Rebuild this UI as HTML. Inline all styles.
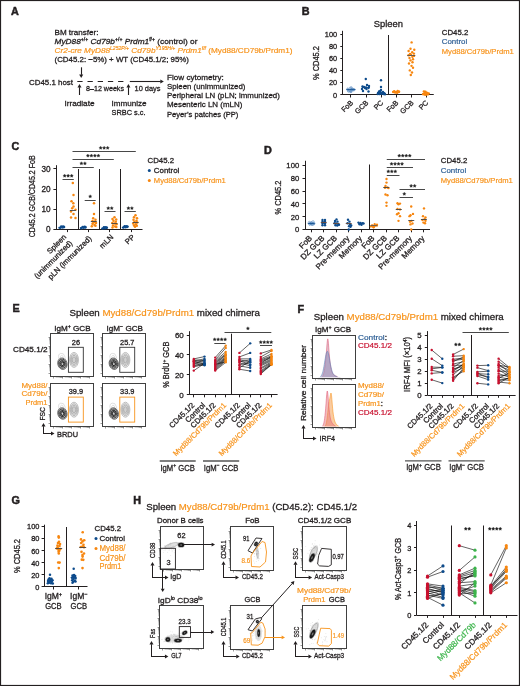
<!DOCTYPE html>
<html><head><meta charset="utf-8"><style>
html,body{margin:0;padding:0;background:#fff;width:520px;height:686px;overflow:hidden}
svg{display:block;will-change:transform}
text{font-family:"Liberation Sans", sans-serif}
</style></head><body>
<svg width="520" height="686" viewBox="0 0 520 686">
<rect x="0.50" y="0.50" width="519.00" height="685.00" stroke="#231f20" stroke-width="1.2" fill="none"/>
<text x="11.10" y="14.80" font-size="10.8" fill="#231f20" stroke="#231f20" stroke-width="0.5" font-weight="bold">A</text>
<text x="54.50" y="35.00" font-size="8.1" fill="#231f20" stroke="#231f20" stroke-width="0.3" textLength="44" lengthAdjust="spacingAndGlyphs">BM transfer:</text>
<text x="54.50" y="44.00" font-size="8.1" fill="#231f20" stroke="#231f20" stroke-width="0.3" textLength="143" lengthAdjust="spacingAndGlyphs"><tspan font-style="italic">MyD88</tspan><tspan font-size="5" dy="-3">+/+</tspan><tspan dy="3"> </tspan><tspan font-style="italic">Cd79b</tspan><tspan font-size="5" dy="-3">+/+</tspan><tspan dy="3"> </tspan><tspan font-style="italic">Prdm1</tspan><tspan font-size="5" dy="-3">f/+</tspan><tspan dy="3"> (control) or</tspan></text>
<text x="54.50" y="53.00" font-size="8.1" fill="#f7941d" stroke="#f7941d" stroke-width="0.2" textLength="238" lengthAdjust="spacingAndGlyphs"><tspan font-style="italic">Cr2-cre MyD88</tspan><tspan font-size="5" dy="-3" font-style="italic">L252P/+</tspan><tspan dy="3"> </tspan><tspan font-style="italic">Cd79b</tspan><tspan font-size="5" dy="-3" font-style="italic">Y195H/+</tspan><tspan dy="3"> </tspan><tspan font-style="italic">Prdm1</tspan><tspan font-size="5" dy="-3" font-style="italic">f/f</tspan><tspan dy="3"> (Myd88/CD79b/Prdm1)</tspan></text>
<text x="54.50" y="62.00" font-size="8.1" fill="#231f20" stroke="#231f20" stroke-width="0.3" textLength="134.5" lengthAdjust="spacingAndGlyphs">(CD45.2: ~5%) + WT (CD45.1/2; 95%)</text>
<line x1="81.50" y1="67.30" x2="81.50" y2="74.81" stroke="#231f20" stroke-width="1.1"/>
<polygon points="81.20,78.00 83.23,74.52 79.17,74.52" fill="#231f20"/>
<text x="29.00" y="84.50" font-size="8.1" fill="#231f20" stroke="#231f20" stroke-width="0.3" textLength="44" lengthAdjust="spacingAndGlyphs">CD45.1 host</text>
<line x1="77.30" y1="81.50" x2="82.60" y2="81.50" stroke="#231f20" stroke-width="1.0"/>
<line x1="87.50" y1="81.50" x2="92.80" y2="81.50" stroke="#231f20" stroke-width="1.0"/>
<line x1="97.70" y1="81.50" x2="103.00" y2="81.50" stroke="#231f20" stroke-width="1.0"/>
<line x1="107.90" y1="81.50" x2="113.20" y2="81.50" stroke="#231f20" stroke-width="1.0"/>
<line x1="118.10" y1="81.50" x2="123.40" y2="81.50" stroke="#231f20" stroke-width="1.0"/>
<line x1="129.80" y1="81.50" x2="160.61" y2="81.50" stroke="#231f20" stroke-width="1.1"/>
<polygon points="163.80,81.50 160.32,79.47 160.32,83.53" fill="#231f20"/>
<line x1="79.50" y1="95.00" x2="79.50" y2="87.19" stroke="#231f20" stroke-width="1.1"/>
<polygon points="79.50,84.00 77.47,87.48 81.53,87.48" fill="#231f20"/>
<text x="86.00" y="90.50" font-size="8.1" fill="#231f20" stroke="#231f20" stroke-width="0.3" textLength="38" lengthAdjust="spacingAndGlyphs">8–12 weeks</text>
<line x1="128.50" y1="95.00" x2="128.50" y2="87.19" stroke="#231f20" stroke-width="1.1"/>
<polygon points="128.40,84.00 126.37,87.48 130.43,87.48" fill="#231f20"/>
<text x="134.50" y="90.50" font-size="8.1" fill="#231f20" stroke="#231f20" stroke-width="0.3" textLength="26" lengthAdjust="spacingAndGlyphs">10 days</text>
<text x="64.50" y="105.50" font-size="8.1" fill="#231f20" stroke="#231f20" stroke-width="0.3" textLength="30" lengthAdjust="spacingAndGlyphs">Irradiate</text>
<text x="111.50" y="105.50" font-size="8.1" fill="#231f20" stroke="#231f20" stroke-width="0.3" textLength="35" lengthAdjust="spacingAndGlyphs">Immunize</text>
<text x="111.50" y="115.00" font-size="8.1" fill="#231f20" stroke="#231f20" stroke-width="0.3" textLength="34" lengthAdjust="spacingAndGlyphs">SRBC s.c.</text>
<text x="167.00" y="79.50" font-size="8.1" fill="#231f20" stroke="#231f20" stroke-width="0.3" textLength="56.8" lengthAdjust="spacingAndGlyphs">Flow cytometry:</text>
<text x="167.00" y="88.70" font-size="8.1" fill="#231f20" stroke="#231f20" stroke-width="0.3" textLength="78.4" lengthAdjust="spacingAndGlyphs">Spleen (unimmunized)</text>
<text x="167.00" y="98.00" font-size="8.1" fill="#231f20" stroke="#231f20" stroke-width="0.3" textLength="112.8" lengthAdjust="spacingAndGlyphs">Peripheral LN (pLN; immunized)</text>
<text x="167.00" y="107.30" font-size="8.1" fill="#231f20" stroke="#231f20" stroke-width="0.3" textLength="75.3" lengthAdjust="spacingAndGlyphs">Mesenteric LN (mLN)</text>
<text x="167.00" y="116.50" font-size="8.1" fill="#231f20" stroke="#231f20" stroke-width="0.3" textLength="71.3" lengthAdjust="spacingAndGlyphs">Peyer’s patches (PP)</text>
<text x="301.70" y="14.60" font-size="10.8" fill="#231f20" stroke="#231f20" stroke-width="0.5" font-weight="bold">B</text>
<text x="373.75" y="27.00" font-size="9.4" fill="#231f20" stroke="#231f20" stroke-width="0.3" textLength="29.2" lengthAdjust="spacingAndGlyphs">Spleen</text>
<line x1="342.50" y1="30.80" x2="342.50" y2="94.90" stroke="#231f20" stroke-width="1.0"/>
<line x1="340.30" y1="94.50" x2="342.90" y2="94.50" stroke="#231f20" stroke-width="1.0"/>
<text x="337.20" y="97.56" font-size="7.4" fill="#231f20" stroke="#231f20" stroke-width="0.3" text-anchor="end">0</text>
<line x1="340.30" y1="82.50" x2="342.90" y2="82.50" stroke="#231f20" stroke-width="1.0"/>
<text x="337.20" y="85.46" font-size="7.4" fill="#231f20" stroke="#231f20" stroke-width="0.3" text-anchor="end">20</text>
<line x1="340.30" y1="70.50" x2="342.90" y2="70.50" stroke="#231f20" stroke-width="1.0"/>
<text x="337.20" y="73.36" font-size="7.4" fill="#231f20" stroke="#231f20" stroke-width="0.3" text-anchor="end">40</text>
<line x1="340.30" y1="58.50" x2="342.90" y2="58.50" stroke="#231f20" stroke-width="1.0"/>
<text x="337.20" y="61.26" font-size="7.4" fill="#231f20" stroke="#231f20" stroke-width="0.3" text-anchor="end">60</text>
<line x1="340.30" y1="46.50" x2="342.90" y2="46.50" stroke="#231f20" stroke-width="1.0"/>
<text x="337.20" y="49.16" font-size="7.4" fill="#231f20" stroke="#231f20" stroke-width="0.3" text-anchor="end">80</text>
<line x1="340.30" y1="34.50" x2="342.90" y2="34.50" stroke="#231f20" stroke-width="1.0"/>
<text x="337.20" y="37.06" font-size="7.4" fill="#231f20" stroke="#231f20" stroke-width="0.3" text-anchor="end">100</text>
<line x1="342.90" y1="94.50" x2="433.75" y2="94.50" stroke="#231f20" stroke-width="1.0"/>
<line x1="388.50" y1="35.00" x2="388.50" y2="94.90" stroke="#231f20" stroke-width="1.0"/>
<line x1="350.50" y1="94.90" x2="350.50" y2="97.50" stroke="#231f20" stroke-width="1.0"/>
<line x1="366.50" y1="94.90" x2="366.50" y2="97.50" stroke="#231f20" stroke-width="1.0"/>
<line x1="381.50" y1="94.90" x2="381.50" y2="97.50" stroke="#231f20" stroke-width="1.0"/>
<line x1="396.50" y1="94.90" x2="396.50" y2="97.50" stroke="#231f20" stroke-width="1.0"/>
<line x1="411.50" y1="94.90" x2="411.50" y2="97.50" stroke="#231f20" stroke-width="1.0"/>
<line x1="426.50" y1="94.90" x2="426.50" y2="97.50" stroke="#231f20" stroke-width="1.0"/>
<text x="319.20" y="63.00" font-size="8.2" fill="#231f20" stroke="#231f20" stroke-width="0.3" text-anchor="middle" textLength="34" lengthAdjust="spacingAndGlyphs" transform="rotate(-90 319.20 63.00)">% CD45.2</text>
<text x="353.55" y="103.30" font-size="7.2" fill="#231f20" stroke="#231f20" stroke-width="0.3" text-anchor="end" transform="rotate(-45 353.55 103.30)">FoB</text>
<text x="368.80" y="103.30" font-size="7.2" fill="#231f20" stroke="#231f20" stroke-width="0.3" text-anchor="end" transform="rotate(-45 368.80 103.30)">GCB</text>
<text x="383.80" y="103.30" font-size="7.2" fill="#231f20" stroke="#231f20" stroke-width="0.3" text-anchor="end" transform="rotate(-45 383.80 103.30)">PC</text>
<text x="398.80" y="103.30" font-size="7.2" fill="#231f20" stroke="#231f20" stroke-width="0.3" text-anchor="end" transform="rotate(-45 398.80 103.30)">FoB</text>
<text x="414.10" y="103.30" font-size="7.2" fill="#231f20" stroke="#231f20" stroke-width="0.3" text-anchor="end" transform="rotate(-45 414.10 103.30)">GCB</text>
<text x="428.80" y="103.30" font-size="7.2" fill="#231f20" stroke="#231f20" stroke-width="0.3" text-anchor="end" transform="rotate(-45 428.80 103.30)">PC</text>
<circle cx="350.54" cy="88.04" r="1.1" fill="none" stroke="#5a8cc0" stroke-width="0.6"/>
<circle cx="351.35" cy="87.83" r="1.1" fill="none" stroke="#5a8cc0" stroke-width="0.6"/>
<circle cx="354.12" cy="89.67" r="1.1" fill="none" stroke="#5a8cc0" stroke-width="0.6"/>
<circle cx="350.64" cy="90.78" r="1.1" fill="none" stroke="#5a8cc0" stroke-width="0.6"/>
<circle cx="350.96" cy="91.21" r="1.1" fill="none" stroke="#5a8cc0" stroke-width="0.6"/>
<circle cx="351.56" cy="89.72" r="1.1" fill="none" stroke="#5a8cc0" stroke-width="0.6"/>
<circle cx="348.50" cy="91.12" r="1.1" fill="none" stroke="#5a8cc0" stroke-width="0.6"/>
<circle cx="350.99" cy="91.67" r="1.1" fill="none" stroke="#5a8cc0" stroke-width="0.6"/>
<circle cx="351.89" cy="89.49" r="1.1" fill="none" stroke="#5a8cc0" stroke-width="0.6"/>
<circle cx="353.13" cy="89.58" r="1.1" fill="none" stroke="#5a8cc0" stroke-width="0.6"/>
<circle cx="347.82" cy="89.03" r="1.1" fill="none" stroke="#5a8cc0" stroke-width="0.6"/>
<circle cx="349.41" cy="90.97" r="1.1" fill="none" stroke="#5a8cc0" stroke-width="0.6"/>
<circle cx="347.79" cy="89.75" r="1.1" fill="none" stroke="#5a8cc0" stroke-width="0.6"/>
<circle cx="353.25" cy="89.84" r="1.1" fill="none" stroke="#5a8cc0" stroke-width="0.6"/>
<line x1="346.40" y1="89.50" x2="355.40" y2="89.50" stroke="#0d4b8c" stroke-width="0.8"/>
<circle cx="365.80" cy="78.99" r="1.2" fill="#0d4b8c"/>
<circle cx="362.50" cy="86.43" r="1.2" fill="#0d4b8c"/>
<circle cx="367.00" cy="84.98" r="1.2" fill="#0d4b8c"/>
<circle cx="368.50" cy="88.00" r="1.2" fill="#0d4b8c"/>
<circle cx="363.00" cy="91.03" r="1.2" fill="#0d4b8c"/>
<circle cx="368.50" cy="91.51" r="1.2" fill="#0d4b8c"/>
<circle cx="365.00" cy="88.00" r="1.2" fill="#0d4b8c"/>
<circle cx="364.00" cy="87.04" r="1.2" fill="#0d4b8c"/>
<circle cx="366.50" cy="88.97" r="1.2" fill="#0d4b8c"/>
<circle cx="369.00" cy="86.01" r="1.2" fill="#0d4b8c"/>
<circle cx="362.00" cy="88.97" r="1.2" fill="#0d4b8c"/>
<circle cx="366.00" cy="87.34" r="1.2" fill="#0d4b8c"/>
<line x1="362.00" y1="87.50" x2="370.00" y2="87.50" stroke="#0d4b8c" stroke-width="0.9"/>
<circle cx="381.00" cy="80.20" r="1.2" fill="#0d4b8c"/>
<circle cx="381.00" cy="87.04" r="1.2" fill="#0d4b8c"/>
<circle cx="381.00" cy="90.06" r="1.2" fill="#0d4b8c"/>
<circle cx="379.00" cy="91.57" r="1.2" fill="#0d4b8c"/>
<circle cx="383.00" cy="91.88" r="1.2" fill="#0d4b8c"/>
<circle cx="378.00" cy="93.09" r="1.2" fill="#0d4b8c"/>
<circle cx="380.50" cy="92.78" r="1.2" fill="#0d4b8c"/>
<circle cx="382.50" cy="93.09" r="1.2" fill="#0d4b8c"/>
<circle cx="384.50" cy="93.57" r="1.2" fill="#0d4b8c"/>
<circle cx="377.80" cy="93.99" r="1.2" fill="#0d4b8c"/>
<circle cx="379.50" cy="93.99" r="1.2" fill="#0d4b8c"/>
<circle cx="381.50" cy="93.81" r="1.2" fill="#0d4b8c"/>
<circle cx="383.50" cy="94.11" r="1.2" fill="#0d4b8c"/>
<circle cx="385.00" cy="94.30" r="1.2" fill="#0d4b8c"/>
<circle cx="380.30" cy="90.97" r="1.2" fill="#0d4b8c"/>
<line x1="377.00" y1="92.50" x2="385.00" y2="92.50" stroke="#0d4b8c" stroke-width="0.9"/>
<circle cx="393.25" cy="91.97" r="1.2" fill="#f7860f"/>
<circle cx="397.42" cy="91.71" r="1.2" fill="#f7860f"/>
<circle cx="397.06" cy="92.27" r="1.2" fill="#f7860f"/>
<circle cx="399.08" cy="91.78" r="1.2" fill="#f7860f"/>
<circle cx="394.40" cy="91.44" r="1.2" fill="#f7860f"/>
<circle cx="394.29" cy="91.75" r="1.2" fill="#f7860f"/>
<circle cx="397.64" cy="91.05" r="1.2" fill="#f7860f"/>
<circle cx="397.11" cy="92.53" r="1.2" fill="#f7860f"/>
<circle cx="394.62" cy="91.96" r="1.2" fill="#f7860f"/>
<circle cx="397.29" cy="92.42" r="1.2" fill="#f7860f"/>
<circle cx="395.28" cy="92.47" r="1.2" fill="#f7860f"/>
<circle cx="397.94" cy="92.11" r="1.2" fill="#f7860f"/>
<circle cx="393.33" cy="91.86" r="1.2" fill="#f7860f"/>
<circle cx="394.06" cy="91.74" r="1.2" fill="#f7860f"/>
<circle cx="398.81" cy="91.69" r="1.2" fill="#f7860f"/>
<line x1="392.00" y1="91.50" x2="400.00" y2="91.50" stroke="#f7860f" stroke-width="0.8"/>
<circle cx="411.60" cy="42.39" r="1.2" fill="#f7860f"/>
<circle cx="410.50" cy="48.80" r="1.2" fill="#f7860f"/>
<circle cx="414.30" cy="49.71" r="1.2" fill="#f7860f"/>
<circle cx="408.60" cy="50.98" r="1.2" fill="#f7860f"/>
<circle cx="412.20" cy="52.19" r="1.2" fill="#f7860f"/>
<circle cx="413.90" cy="53.58" r="1.2" fill="#f7860f"/>
<circle cx="410.00" cy="54.00" r="1.2" fill="#f7860f"/>
<circle cx="408.50" cy="55.27" r="1.2" fill="#f7860f"/>
<circle cx="412.40" cy="56.79" r="1.2" fill="#f7860f"/>
<circle cx="414.00" cy="55.88" r="1.2" fill="#f7860f"/>
<circle cx="409.50" cy="58.00" r="1.2" fill="#f7860f"/>
<circle cx="413.00" cy="59.21" r="1.2" fill="#f7860f"/>
<circle cx="410.50" cy="60.42" r="1.2" fill="#f7860f"/>
<circle cx="412.50" cy="62.23" r="1.2" fill="#f7860f"/>
<circle cx="409.00" cy="63.44" r="1.2" fill="#f7860f"/>
<circle cx="411.50" cy="65.86" r="1.2" fill="#f7860f"/>
<circle cx="413.00" cy="67.68" r="1.2" fill="#f7860f"/>
<circle cx="409.80" cy="70.40" r="1.2" fill="#f7860f"/>
<circle cx="412.00" cy="72.52" r="1.2" fill="#f7860f"/>
<circle cx="410.80" cy="74.94" r="1.2" fill="#f7860f"/>
<circle cx="411.00" cy="54.67" r="1.2" fill="#f7860f"/>
<line x1="407.30" y1="55.50" x2="415.30" y2="55.50" stroke="#555" stroke-width="0.9"/>
<circle cx="425.17" cy="92.63" r="1.2" fill="#f7860f"/>
<circle cx="425.88" cy="94.71" r="1.2" fill="#f7860f"/>
<circle cx="425.50" cy="93.79" r="1.2" fill="#f7860f"/>
<circle cx="425.68" cy="93.02" r="1.2" fill="#f7860f"/>
<circle cx="425.46" cy="91.75" r="1.2" fill="#f7860f"/>
<circle cx="426.95" cy="93.08" r="1.2" fill="#f7860f"/>
<circle cx="424.55" cy="94.59" r="1.2" fill="#f7860f"/>
<circle cx="426.81" cy="92.80" r="1.2" fill="#f7860f"/>
<circle cx="423.06" cy="94.17" r="1.2" fill="#f7860f"/>
<circle cx="424.81" cy="91.97" r="1.2" fill="#f7860f"/>
<circle cx="425.01" cy="93.32" r="1.2" fill="#f7860f"/>
<circle cx="423.85" cy="91.47" r="1.2" fill="#f7860f"/>
<circle cx="427.46" cy="93.20" r="1.2" fill="#f7860f"/>
<circle cx="424.86" cy="94.02" r="1.2" fill="#f7860f"/>
<circle cx="427.74" cy="94.42" r="1.2" fill="#f7860f"/>
<circle cx="428.74" cy="93.41" r="1.2" fill="#f7860f"/>
<line x1="422.00" y1="93.50" x2="430.00" y2="93.50" stroke="#f7860f" stroke-width="0.8"/>
<text x="441.75" y="34.70" font-size="8.0" fill="#231f20" stroke="#231f20" stroke-width="0.3" textLength="26.5" lengthAdjust="spacingAndGlyphs">CD45.2</text>
<text x="441.75" y="44.40" font-size="8.0" fill="#2e5f95" stroke="#2e5f95" stroke-width="0.2" textLength="25.5" lengthAdjust="spacingAndGlyphs">Control</text>
<text x="441.75" y="54.20" font-size="8.0" fill="#f7941d" stroke="#f7941d" stroke-width="0.2" textLength="72" lengthAdjust="spacingAndGlyphs">Myd88/Cd79b/Prdm1</text>
<text x="11.50" y="149.60" font-size="10.8" fill="#231f20" stroke="#231f20" stroke-width="0.5" font-weight="bold">C</text>
<line x1="56.50" y1="165.20" x2="56.50" y2="229.50" stroke="#231f20" stroke-width="1.0"/>
<line x1="53.40" y1="229.50" x2="56.00" y2="229.50" stroke="#231f20" stroke-width="1.0"/>
<text x="50.50" y="232.45" font-size="8.2" fill="#231f20" stroke="#231f20" stroke-width="0.3" text-anchor="end">0</text>
<line x1="53.40" y1="209.50" x2="56.00" y2="209.50" stroke="#231f20" stroke-width="1.0"/>
<text x="50.50" y="212.20" font-size="8.2" fill="#231f20" stroke="#231f20" stroke-width="0.3" text-anchor="end">10</text>
<line x1="53.40" y1="189.50" x2="56.00" y2="189.50" stroke="#231f20" stroke-width="1.0"/>
<text x="50.50" y="191.95" font-size="8.2" fill="#231f20" stroke="#231f20" stroke-width="0.3" text-anchor="end">20</text>
<line x1="53.40" y1="168.50" x2="56.00" y2="168.50" stroke="#231f20" stroke-width="1.0"/>
<text x="50.50" y="171.70" font-size="8.2" fill="#231f20" stroke="#231f20" stroke-width="0.3" text-anchor="end">30</text>
<line x1="56.00" y1="229.50" x2="142.50" y2="229.50" stroke="#231f20" stroke-width="1.0"/>
<line x1="78.50" y1="169.00" x2="78.50" y2="229.50" stroke="#231f20" stroke-width="1.0"/>
<line x1="99.50" y1="169.00" x2="99.50" y2="229.50" stroke="#231f20" stroke-width="1.0"/>
<line x1="120.50" y1="169.00" x2="120.50" y2="229.50" stroke="#231f20" stroke-width="1.0"/>
<line x1="67.50" y1="229.50" x2="67.50" y2="232.10" stroke="#231f20" stroke-width="1.0"/>
<line x1="88.50" y1="229.50" x2="88.50" y2="232.10" stroke="#231f20" stroke-width="1.0"/>
<line x1="109.50" y1="229.50" x2="109.50" y2="232.10" stroke="#231f20" stroke-width="1.0"/>
<line x1="131.50" y1="229.50" x2="131.50" y2="232.10" stroke="#231f20" stroke-width="1.0"/>
<text x="35.40" y="196.30" font-size="8.4" fill="#231f20" stroke="#231f20" stroke-width="0.3" text-anchor="middle" textLength="82.0" lengthAdjust="spacingAndGlyphs" transform="rotate(-90 35.40 196.30)">CD45.2 GCB/CD45.2 FoB</text>
<text x="66.80" y="237.60" font-size="7.6" fill="#231f20" stroke="#231f20" stroke-width="0.3" text-anchor="end" transform="rotate(-45 66.80 237.60)">Spleen</text>
<text x="72.80" y="243.60" font-size="7.6" fill="#231f20" stroke="#231f20" stroke-width="0.3" text-anchor="end" transform="rotate(-45 72.80 243.60)">(unimmunized)</text>
<text x="92.00" y="239.00" font-size="7.6" fill="#231f20" stroke="#231f20" stroke-width="0.3" text-anchor="end" transform="rotate(-45 92.00 239.00)">pLN (immunized)</text>
<text x="113.80" y="237.60" font-size="7.6" fill="#231f20" stroke="#231f20" stroke-width="0.3" text-anchor="end" transform="rotate(-45 113.80 237.60)">mLN</text>
<text x="135.30" y="237.60" font-size="7.6" fill="#231f20" stroke="#231f20" stroke-width="0.3" text-anchor="end" transform="rotate(-45 135.30 237.60)">PP</text>
<circle cx="59.30" cy="227.80" r="1.05" fill="#0d4b8c"/>
<circle cx="60.50" cy="227.20" r="1.05" fill="#0d4b8c"/>
<circle cx="61.70" cy="226.70" r="1.05" fill="#0d4b8c"/>
<circle cx="62.90" cy="226.30" r="1.05" fill="#0d4b8c"/>
<circle cx="63.90" cy="226.50" r="1.05" fill="#0d4b8c"/>
<circle cx="60.10" cy="228.10" r="1.05" fill="#0d4b8c"/>
<circle cx="62.10" cy="227.70" r="1.05" fill="#0d4b8c"/>
<circle cx="63.50" cy="227.50" r="1.05" fill="#0d4b8c"/>
<circle cx="61.10" cy="226.40" r="1.05" fill="#0d4b8c"/>
<circle cx="64.30" cy="227.10" r="1.05" fill="#0d4b8c"/>
<circle cx="72.80" cy="182.93" r="1.25" fill="#f7860f"/>
<circle cx="73.50" cy="195.07" r="1.25" fill="#f7860f"/>
<circle cx="71.50" cy="201.15" r="1.25" fill="#f7860f"/>
<circle cx="73.30" cy="203.18" r="1.25" fill="#f7860f"/>
<circle cx="73.50" cy="206.62" r="1.25" fill="#f7860f"/>
<circle cx="75.50" cy="209.86" r="1.25" fill="#f7860f"/>
<circle cx="71.00" cy="211.48" r="1.25" fill="#f7860f"/>
<circle cx="73.50" cy="214.11" r="1.25" fill="#f7860f"/>
<circle cx="71.00" cy="217.55" r="1.25" fill="#f7860f"/>
<circle cx="75.50" cy="217.96" r="1.25" fill="#f7860f"/>
<circle cx="72.20" cy="208.24" r="1.25" fill="#f7860f"/>
<line x1="69.80" y1="210.50" x2="75.80" y2="210.50" stroke="#444" stroke-width="0.9"/>
<circle cx="80.80" cy="228.10" r="1.05" fill="#0d4b8c"/>
<circle cx="82.00" cy="227.50" r="1.05" fill="#0d4b8c"/>
<circle cx="83.20" cy="227.00" r="1.05" fill="#0d4b8c"/>
<circle cx="84.40" cy="226.60" r="1.05" fill="#0d4b8c"/>
<circle cx="85.40" cy="226.80" r="1.05" fill="#0d4b8c"/>
<circle cx="81.60" cy="228.40" r="1.05" fill="#0d4b8c"/>
<circle cx="83.60" cy="228.00" r="1.05" fill="#0d4b8c"/>
<circle cx="85.00" cy="227.80" r="1.05" fill="#0d4b8c"/>
<circle cx="82.60" cy="226.70" r="1.05" fill="#0d4b8c"/>
<circle cx="85.80" cy="227.40" r="1.05" fill="#0d4b8c"/>
<circle cx="94.00" cy="203.18" r="1.25" fill="#f7860f"/>
<circle cx="94.00" cy="214.11" r="1.25" fill="#f7860f"/>
<circle cx="93.20" cy="218.36" r="1.25" fill="#f7860f"/>
<circle cx="95.50" cy="219.78" r="1.25" fill="#f7860f"/>
<circle cx="92.50" cy="221.00" r="1.25" fill="#f7860f"/>
<circle cx="94.80" cy="221.81" r="1.25" fill="#f7860f"/>
<circle cx="96.00" cy="223.02" r="1.25" fill="#f7860f"/>
<circle cx="92.50" cy="223.83" r="1.25" fill="#f7860f"/>
<circle cx="94.50" cy="225.04" r="1.25" fill="#f7860f"/>
<circle cx="91.80" cy="226.26" r="1.25" fill="#f7860f"/>
<circle cx="95.50" cy="225.85" r="1.25" fill="#f7860f"/>
<circle cx="93.50" cy="222.41" r="1.25" fill="#f7860f"/>
<line x1="90.80" y1="221.50" x2="96.80" y2="221.50" stroke="#444" stroke-width="0.9"/>
<circle cx="102.10" cy="228.50" r="1.05" fill="#0d4b8c"/>
<circle cx="103.30" cy="227.90" r="1.05" fill="#0d4b8c"/>
<circle cx="104.50" cy="227.40" r="1.05" fill="#0d4b8c"/>
<circle cx="105.70" cy="227.00" r="1.05" fill="#0d4b8c"/>
<circle cx="106.70" cy="227.20" r="1.05" fill="#0d4b8c"/>
<circle cx="102.90" cy="228.80" r="1.05" fill="#0d4b8c"/>
<circle cx="104.90" cy="228.40" r="1.05" fill="#0d4b8c"/>
<circle cx="106.30" cy="228.20" r="1.05" fill="#0d4b8c"/>
<circle cx="103.90" cy="227.10" r="1.05" fill="#0d4b8c"/>
<circle cx="107.10" cy="227.80" r="1.05" fill="#0d4b8c"/>
<circle cx="114.50" cy="217.35" r="1.25" fill="#f7860f"/>
<circle cx="112.50" cy="218.97" r="1.25" fill="#f7860f"/>
<circle cx="116.20" cy="219.38" r="1.25" fill="#f7860f"/>
<circle cx="113.50" cy="220.79" r="1.25" fill="#f7860f"/>
<circle cx="115.80" cy="221.81" r="1.25" fill="#f7860f"/>
<circle cx="112.30" cy="223.02" r="1.25" fill="#f7860f"/>
<circle cx="114.50" cy="223.43" r="1.25" fill="#f7860f"/>
<circle cx="116.50" cy="224.24" r="1.25" fill="#f7860f"/>
<circle cx="113.00" cy="225.45" r="1.25" fill="#f7860f"/>
<circle cx="115.20" cy="226.46" r="1.25" fill="#f7860f"/>
<circle cx="112.50" cy="227.47" r="1.25" fill="#f7860f"/>
<circle cx="116.30" cy="227.07" r="1.25" fill="#f7860f"/>
<line x1="111.50" y1="223.50" x2="117.50" y2="223.50" stroke="#444" stroke-width="0.9"/>
<circle cx="122.80" cy="227.50" r="1.05" fill="#0d4b8c"/>
<circle cx="124.00" cy="226.90" r="1.05" fill="#0d4b8c"/>
<circle cx="125.20" cy="226.40" r="1.05" fill="#0d4b8c"/>
<circle cx="126.40" cy="226.00" r="1.05" fill="#0d4b8c"/>
<circle cx="127.40" cy="226.20" r="1.05" fill="#0d4b8c"/>
<circle cx="123.60" cy="227.80" r="1.05" fill="#0d4b8c"/>
<circle cx="125.60" cy="227.40" r="1.05" fill="#0d4b8c"/>
<circle cx="127.00" cy="227.20" r="1.05" fill="#0d4b8c"/>
<circle cx="124.60" cy="226.10" r="1.05" fill="#0d4b8c"/>
<circle cx="127.80" cy="226.80" r="1.05" fill="#0d4b8c"/>
<circle cx="135.50" cy="215.32" r="1.25" fill="#f7860f"/>
<circle cx="134.00" cy="217.35" r="1.25" fill="#f7860f"/>
<circle cx="137.00" cy="218.36" r="1.25" fill="#f7860f"/>
<circle cx="133.50" cy="219.78" r="1.25" fill="#f7860f"/>
<circle cx="136.50" cy="220.79" r="1.25" fill="#f7860f"/>
<circle cx="134.50" cy="221.81" r="1.25" fill="#f7860f"/>
<circle cx="137.20" cy="222.62" r="1.25" fill="#f7860f"/>
<circle cx="133.20" cy="223.43" r="1.25" fill="#f7860f"/>
<circle cx="135.80" cy="224.24" r="1.25" fill="#f7860f"/>
<circle cx="134.00" cy="225.45" r="1.25" fill="#f7860f"/>
<circle cx="136.80" cy="225.85" r="1.25" fill="#f7860f"/>
<circle cx="135.00" cy="226.66" r="1.25" fill="#f7860f"/>
<line x1="132.60" y1="222.50" x2="138.60" y2="222.50" stroke="#444" stroke-width="0.9"/>
<line x1="62.50" y1="179.50" x2="73.80" y2="179.50" stroke="#333" stroke-width="0.9"/>
<polygon points="64.65,174.15 65.18,175.07 66.22,175.29 65.51,176.08 65.62,177.13 64.65,176.71 63.68,177.13 63.79,176.08 63.08,175.29 64.12,175.07" fill="#222" stroke="#222" stroke-width="0.35" stroke-linejoin="round"/>
<polygon points="68.15,174.15 68.68,175.07 69.72,175.29 69.01,176.08 69.12,177.13 68.15,176.71 67.18,177.13 67.29,176.08 66.58,175.29 67.62,175.07" fill="#222" stroke="#222" stroke-width="0.35" stroke-linejoin="round"/>
<polygon points="71.65,174.15 72.18,175.07 73.22,175.29 72.51,176.08 72.62,177.13 71.65,176.71 70.68,177.13 70.79,176.08 70.08,175.29 71.12,175.07" fill="#222" stroke="#222" stroke-width="0.35" stroke-linejoin="round"/>
<line x1="84.70" y1="200.50" x2="95.70" y2="200.50" stroke="#333" stroke-width="0.9"/>
<polygon points="90.20,194.75 90.73,195.67 91.77,195.89 91.06,196.68 91.17,197.73 90.20,197.31 89.23,197.73 89.34,196.68 88.63,195.89 89.67,195.67" fill="#222" stroke="#222" stroke-width="0.35" stroke-linejoin="round"/>
<line x1="104.50" y1="211.50" x2="115.50" y2="211.50" stroke="#333" stroke-width="0.9"/>
<polygon points="108.25,206.55 108.78,207.47 109.82,207.69 109.11,208.48 109.22,209.53 108.25,209.11 107.28,209.53 107.39,208.48 106.68,207.69 107.72,207.47" fill="#222" stroke="#222" stroke-width="0.35" stroke-linejoin="round"/>
<polygon points="111.75,206.55 112.28,207.47 113.32,207.69 112.61,208.48 112.72,209.53 111.75,209.11 110.78,209.53 110.89,208.48 110.18,207.69 111.22,207.47" fill="#222" stroke="#222" stroke-width="0.35" stroke-linejoin="round"/>
<line x1="124.50" y1="211.50" x2="135.80" y2="211.50" stroke="#333" stroke-width="0.9"/>
<polygon points="128.40,206.55 128.93,207.47 129.97,207.69 129.26,208.48 129.37,209.53 128.40,209.11 127.43,209.53 127.54,208.48 126.83,207.69 127.87,207.47" fill="#222" stroke="#222" stroke-width="0.35" stroke-linejoin="round"/>
<polygon points="131.90,206.55 132.43,207.47 133.47,207.69 132.76,208.48 132.87,209.53 131.90,209.11 130.93,209.53 131.04,208.48 130.33,207.69 131.37,207.47" fill="#222" stroke="#222" stroke-width="0.35" stroke-linejoin="round"/>
<line x1="72.50" y1="167.50" x2="93.80" y2="167.50" stroke="#333" stroke-width="0.9"/>
<polygon points="81.40,161.75 81.93,162.67 82.97,162.89 82.26,163.68 82.37,164.73 81.40,164.31 80.43,164.73 80.54,163.68 79.83,162.89 80.87,162.67" fill="#222" stroke="#222" stroke-width="0.35" stroke-linejoin="round"/>
<polygon points="84.90,161.75 85.43,162.67 86.47,162.89 85.76,163.68 85.87,164.73 84.90,164.31 83.93,164.73 84.04,163.68 83.33,162.89 84.37,162.67" fill="#222" stroke="#222" stroke-width="0.35" stroke-linejoin="round"/>
<line x1="72.50" y1="159.50" x2="113.80" y2="159.50" stroke="#333" stroke-width="0.9"/>
<polygon points="87.90,154.05 88.43,154.97 89.47,155.19 88.76,155.98 88.87,157.03 87.90,156.61 86.93,157.03 87.04,155.98 86.33,155.19 87.37,154.97" fill="#222" stroke="#222" stroke-width="0.35" stroke-linejoin="round"/>
<polygon points="91.40,154.05 91.93,154.97 92.97,155.19 92.26,155.98 92.37,157.03 91.40,156.61 90.43,157.03 90.54,155.98 89.83,155.19 90.87,154.97" fill="#222" stroke="#222" stroke-width="0.35" stroke-linejoin="round"/>
<polygon points="94.90,154.05 95.43,154.97 96.47,155.19 95.76,155.98 95.87,157.03 94.90,156.61 93.93,157.03 94.04,155.98 93.33,155.19 94.37,154.97" fill="#222" stroke="#222" stroke-width="0.35" stroke-linejoin="round"/>
<polygon points="98.40,154.05 98.93,154.97 99.97,155.19 99.26,155.98 99.37,157.03 98.40,156.61 97.43,157.03 97.54,155.98 96.83,155.19 97.87,154.97" fill="#222" stroke="#222" stroke-width="0.35" stroke-linejoin="round"/>
<line x1="72.50" y1="151.50" x2="135.80" y2="151.50" stroke="#333" stroke-width="0.9"/>
<polygon points="100.65,146.25 101.18,147.17 102.22,147.39 101.51,148.18 101.62,149.23 100.65,148.81 99.68,149.23 99.79,148.18 99.08,147.39 100.12,147.17" fill="#222" stroke="#222" stroke-width="0.35" stroke-linejoin="round"/>
<polygon points="104.15,146.25 104.68,147.17 105.72,147.39 105.01,148.18 105.12,149.23 104.15,148.81 103.18,149.23 103.29,148.18 102.58,147.39 103.62,147.17" fill="#222" stroke="#222" stroke-width="0.35" stroke-linejoin="round"/>
<polygon points="107.65,146.25 108.18,147.17 109.22,147.39 108.51,148.18 108.62,149.23 107.65,148.81 106.68,149.23 106.79,148.18 106.08,147.39 107.12,147.17" fill="#222" stroke="#222" stroke-width="0.35" stroke-linejoin="round"/>
<text x="147.50" y="162.50" font-size="8.0" fill="#231f20" stroke="#231f20" stroke-width="0.3" textLength="26.5" lengthAdjust="spacingAndGlyphs">CD45.2</text>
<circle cx="149.30" cy="170.40" r="1.5" fill="#0d4b8c"/>
<text x="153.80" y="173.20" font-size="8.0" fill="#231f20" stroke="#231f20" stroke-width="0.3" textLength="25.5" lengthAdjust="spacingAndGlyphs">Control</text>
<circle cx="149.30" cy="180.40" r="1.5" fill="#f7860f"/>
<text x="153.80" y="183.00" font-size="8.0" fill="#f7941d" stroke="#f7941d" stroke-width="0.2" textLength="72" lengthAdjust="spacingAndGlyphs">Myd88/Cd79b/Prdm1</text>
<text x="264.00" y="153.80" font-size="10.8" fill="#231f20" stroke="#231f20" stroke-width="0.5" font-weight="bold">D</text>
<line x1="305.50" y1="160.75" x2="305.50" y2="229.70" stroke="#231f20" stroke-width="1.0"/>
<line x1="302.50" y1="229.50" x2="305.10" y2="229.50" stroke="#231f20" stroke-width="1.0"/>
<text x="299.20" y="232.47" font-size="7.7" fill="#231f20" stroke="#231f20" stroke-width="0.3" text-anchor="end">0</text>
<line x1="302.50" y1="216.50" x2="305.10" y2="216.50" stroke="#231f20" stroke-width="1.0"/>
<text x="299.20" y="219.57" font-size="7.7" fill="#231f20" stroke="#231f20" stroke-width="0.3" text-anchor="end">20</text>
<line x1="302.50" y1="203.50" x2="305.10" y2="203.50" stroke="#231f20" stroke-width="1.0"/>
<text x="299.20" y="206.67" font-size="7.7" fill="#231f20" stroke="#231f20" stroke-width="0.3" text-anchor="end">40</text>
<line x1="302.50" y1="191.50" x2="305.10" y2="191.50" stroke="#231f20" stroke-width="1.0"/>
<text x="299.20" y="193.77" font-size="7.7" fill="#231f20" stroke="#231f20" stroke-width="0.3" text-anchor="end">60</text>
<line x1="302.50" y1="178.50" x2="305.10" y2="178.50" stroke="#231f20" stroke-width="1.0"/>
<text x="299.20" y="180.87" font-size="7.7" fill="#231f20" stroke="#231f20" stroke-width="0.3" text-anchor="end">80</text>
<line x1="302.50" y1="165.50" x2="305.10" y2="165.50" stroke="#231f20" stroke-width="1.0"/>
<text x="299.20" y="167.97" font-size="7.7" fill="#231f20" stroke="#231f20" stroke-width="0.3" text-anchor="end">100</text>
<line x1="305.10" y1="229.50" x2="430.00" y2="229.50" stroke="#231f20" stroke-width="1.0"/>
<line x1="369.50" y1="164.50" x2="369.50" y2="229.70" stroke="#231f20" stroke-width="1.0"/>
<line x1="311.50" y1="229.70" x2="311.50" y2="232.30" stroke="#231f20" stroke-width="1.0"/>
<line x1="323.50" y1="229.70" x2="323.50" y2="232.30" stroke="#231f20" stroke-width="1.0"/>
<line x1="336.50" y1="229.70" x2="336.50" y2="232.30" stroke="#231f20" stroke-width="1.0"/>
<line x1="348.50" y1="229.70" x2="348.50" y2="232.30" stroke="#231f20" stroke-width="1.0"/>
<line x1="361.50" y1="229.70" x2="361.50" y2="232.30" stroke="#231f20" stroke-width="1.0"/>
<line x1="373.50" y1="229.70" x2="373.50" y2="232.30" stroke="#231f20" stroke-width="1.0"/>
<line x1="386.50" y1="229.70" x2="386.50" y2="232.30" stroke="#231f20" stroke-width="1.0"/>
<line x1="398.50" y1="229.70" x2="398.50" y2="232.30" stroke="#231f20" stroke-width="1.0"/>
<line x1="411.50" y1="229.70" x2="411.50" y2="232.30" stroke="#231f20" stroke-width="1.0"/>
<line x1="423.50" y1="229.70" x2="423.50" y2="232.30" stroke="#231f20" stroke-width="1.0"/>
<text x="281.00" y="197.50" font-size="8.2" fill="#231f20" stroke="#231f20" stroke-width="0.3" text-anchor="middle" textLength="34" lengthAdjust="spacingAndGlyphs" transform="rotate(-90 281.00 197.50)">% CD45.2</text>
<text x="312.55" y="238.80" font-size="8.0" fill="#231f20" stroke="#231f20" stroke-width="0.3" text-anchor="end" transform="rotate(-45 312.55 238.80)">FoB</text>
<text x="325.05" y="238.80" font-size="8.0" fill="#231f20" stroke="#231f20" stroke-width="0.3" text-anchor="end" transform="rotate(-45 325.05 238.80)">DZ GCB</text>
<text x="337.55" y="238.80" font-size="8.0" fill="#231f20" stroke="#231f20" stroke-width="0.3" text-anchor="end" transform="rotate(-45 337.55 238.80)">LZ GCB</text>
<text x="350.05" y="238.80" font-size="8.0" fill="#231f20" stroke="#231f20" stroke-width="0.3" text-anchor="end" transform="rotate(-45 350.05 238.80)">Pre-memory</text>
<text x="362.55" y="238.80" font-size="8.0" fill="#231f20" stroke="#231f20" stroke-width="0.3" text-anchor="end" transform="rotate(-45 362.55 238.80)">Memory</text>
<text x="375.05" y="238.80" font-size="8.0" fill="#231f20" stroke="#231f20" stroke-width="0.3" text-anchor="end" transform="rotate(-45 375.05 238.80)">FoB</text>
<text x="387.55" y="238.80" font-size="8.0" fill="#231f20" stroke="#231f20" stroke-width="0.3" text-anchor="end" transform="rotate(-45 387.55 238.80)">DZ GCB</text>
<text x="400.05" y="238.80" font-size="8.0" fill="#231f20" stroke="#231f20" stroke-width="0.3" text-anchor="end" transform="rotate(-45 400.05 238.80)">LZ GCB</text>
<text x="412.55" y="238.80" font-size="8.0" fill="#231f20" stroke="#231f20" stroke-width="0.3" text-anchor="end" transform="rotate(-45 412.55 238.80)">Pre-memory</text>
<text x="425.20" y="238.80" font-size="8.0" fill="#231f20" stroke="#231f20" stroke-width="0.3" text-anchor="end" transform="rotate(-45 425.20 238.80)">Memory</text>
<circle cx="309.81" cy="223.66" r="1.1" fill="none" stroke="#5a8cc0" stroke-width="0.6"/>
<circle cx="311.26" cy="222.87" r="1.1" fill="none" stroke="#5a8cc0" stroke-width="0.6"/>
<circle cx="309.36" cy="222.39" r="1.1" fill="none" stroke="#5a8cc0" stroke-width="0.6"/>
<circle cx="313.05" cy="221.77" r="1.1" fill="none" stroke="#5a8cc0" stroke-width="0.6"/>
<circle cx="309.75" cy="224.30" r="1.1" fill="none" stroke="#5a8cc0" stroke-width="0.6"/>
<circle cx="311.54" cy="223.81" r="1.1" fill="none" stroke="#5a8cc0" stroke-width="0.6"/>
<circle cx="313.64" cy="223.97" r="1.1" fill="none" stroke="#5a8cc0" stroke-width="0.6"/>
<circle cx="310.68" cy="223.50" r="1.1" fill="none" stroke="#5a8cc0" stroke-width="0.6"/>
<circle cx="313.87" cy="223.37" r="1.1" fill="none" stroke="#5a8cc0" stroke-width="0.6"/>
<circle cx="312.55" cy="224.26" r="1.1" fill="none" stroke="#5a8cc0" stroke-width="0.6"/>
<circle cx="311.52" cy="223.03" r="1.1" fill="none" stroke="#5a8cc0" stroke-width="0.6"/>
<circle cx="311.97" cy="224.37" r="1.1" fill="none" stroke="#5a8cc0" stroke-width="0.6"/>
<line x1="307.75" y1="223.50" x2="314.75" y2="223.50" stroke="#0d4b8c" stroke-width="0.8"/>
<circle cx="322.50" cy="220.02" r="1.2" fill="#0d4b8c"/>
<circle cx="325.00" cy="220.02" r="1.2" fill="#0d4b8c"/>
<circle cx="322.50" cy="221.64" r="1.2" fill="#0d4b8c"/>
<circle cx="325.00" cy="221.64" r="1.2" fill="#0d4b8c"/>
<circle cx="322.50" cy="223.57" r="1.2" fill="#0d4b8c"/>
<circle cx="325.00" cy="223.57" r="1.2" fill="#0d4b8c"/>
<circle cx="322.50" cy="225.19" r="1.2" fill="#0d4b8c"/>
<circle cx="325.00" cy="225.19" r="1.2" fill="#0d4b8c"/>
<circle cx="323.70" cy="222.60" r="1.2" fill="#0d4b8c"/>
<line x1="320.75" y1="222.50" x2="326.75" y2="222.50" stroke="#6a4a3a" stroke-width="0.9"/>
<circle cx="336.50" cy="219.38" r="1.2" fill="#0d4b8c"/>
<circle cx="335.00" cy="220.99" r="1.2" fill="#0d4b8c"/>
<circle cx="337.50" cy="221.64" r="1.2" fill="#0d4b8c"/>
<circle cx="334.50" cy="223.25" r="1.2" fill="#0d4b8c"/>
<circle cx="336.00" cy="223.57" r="1.2" fill="#0d4b8c"/>
<circle cx="338.50" cy="224.22" r="1.2" fill="#0d4b8c"/>
<circle cx="335.50" cy="225.19" r="1.2" fill="#0d4b8c"/>
<circle cx="337.30" cy="225.51" r="1.2" fill="#0d4b8c"/>
<circle cx="339.00" cy="224.86" r="1.2" fill="#0d4b8c"/>
<line x1="333.25" y1="223.50" x2="339.25" y2="223.50" stroke="#6a4a3a" stroke-width="0.9"/>
<circle cx="348.00" cy="219.70" r="1.2" fill="#0d4b8c"/>
<circle cx="349.50" cy="221.64" r="1.2" fill="#0d4b8c"/>
<circle cx="347.50" cy="223.25" r="1.2" fill="#0d4b8c"/>
<circle cx="350.00" cy="224.22" r="1.2" fill="#0d4b8c"/>
<circle cx="351.20" cy="225.51" r="1.2" fill="#0d4b8c"/>
<circle cx="349.00" cy="226.15" r="1.2" fill="#0d4b8c"/>
<circle cx="350.50" cy="226.80" r="1.2" fill="#0d4b8c"/>
<circle cx="348.75" cy="229.51" r="1.2" fill="#0d4b8c"/>
<line x1="345.75" y1="223.50" x2="351.75" y2="223.50" stroke="#6a4a3a" stroke-width="0.9"/>
<circle cx="358.50" cy="222.60" r="1.2" fill="#0d4b8c"/>
<circle cx="360.50" cy="222.93" r="1.2" fill="#0d4b8c"/>
<circle cx="362.50" cy="223.25" r="1.2" fill="#0d4b8c"/>
<circle cx="359.50" cy="224.22" r="1.2" fill="#0d4b8c"/>
<circle cx="361.50" cy="224.86" r="1.2" fill="#0d4b8c"/>
<circle cx="363.50" cy="223.57" r="1.2" fill="#0d4b8c"/>
<circle cx="360.80" cy="223.89" r="1.2" fill="#0d4b8c"/>
<line x1="358.25" y1="223.50" x2="364.25" y2="223.50" stroke="#0d4b8c" stroke-width="0.9"/>
<circle cx="376.83" cy="225.08" r="1.15" fill="#f7860f"/>
<circle cx="374.14" cy="226.46" r="1.15" fill="#f7860f"/>
<circle cx="373.58" cy="227.46" r="1.15" fill="#f7860f"/>
<circle cx="373.90" cy="226.84" r="1.15" fill="#f7860f"/>
<circle cx="375.52" cy="225.67" r="1.15" fill="#f7860f"/>
<circle cx="376.97" cy="224.68" r="1.15" fill="#f7860f"/>
<circle cx="373.23" cy="227.01" r="1.15" fill="#f7860f"/>
<circle cx="371.97" cy="225.47" r="1.15" fill="#f7860f"/>
<circle cx="372.92" cy="225.76" r="1.15" fill="#f7860f"/>
<circle cx="370.90" cy="226.60" r="1.15" fill="#f7860f"/>
<circle cx="374.70" cy="224.20" r="1.15" fill="#f7860f"/>
<circle cx="377.00" cy="225.54" r="1.15" fill="#f7860f"/>
<line x1="370.25" y1="225.50" x2="377.25" y2="225.50" stroke="#555" stroke-width="0.8"/>
<circle cx="386.50" cy="179.07" r="1.2" fill="#f7860f"/>
<circle cx="386.50" cy="182.61" r="1.2" fill="#f7860f"/>
<circle cx="385.50" cy="186.03" r="1.2" fill="#f7860f"/>
<circle cx="387.50" cy="187.45" r="1.2" fill="#f7860f"/>
<circle cx="385.00" cy="187.77" r="1.2" fill="#f7860f"/>
<circle cx="388.50" cy="188.10" r="1.2" fill="#f7860f"/>
<circle cx="385.50" cy="194.55" r="1.2" fill="#f7860f"/>
<circle cx="387.50" cy="195.19" r="1.2" fill="#f7860f"/>
<circle cx="386.50" cy="202.61" r="1.2" fill="#f7860f"/>
<circle cx="386.50" cy="205.83" r="1.2" fill="#f7860f"/>
<line x1="383.25" y1="187.50" x2="389.25" y2="187.50" stroke="#444" stroke-width="0.9"/>
<circle cx="397.50" cy="203.25" r="1.2" fill="#f7860f"/>
<circle cx="400.00" cy="203.58" r="1.2" fill="#f7860f"/>
<circle cx="398.50" cy="204.22" r="1.2" fill="#f7860f"/>
<circle cx="397.50" cy="209.06" r="1.2" fill="#f7860f"/>
<circle cx="400.00" cy="209.38" r="1.2" fill="#f7860f"/>
<circle cx="398.50" cy="213.25" r="1.2" fill="#f7860f"/>
<circle cx="397.00" cy="214.22" r="1.2" fill="#f7860f"/>
<circle cx="400.00" cy="216.16" r="1.2" fill="#f7860f"/>
<circle cx="398.50" cy="220.86" r="1.2" fill="#f7860f"/>
<line x1="395.75" y1="209.50" x2="401.75" y2="209.50" stroke="#444" stroke-width="0.9"/>
<circle cx="411.20" cy="206.48" r="1.2" fill="#f7860f"/>
<circle cx="413.00" cy="213.90" r="1.2" fill="#f7860f"/>
<circle cx="410.50" cy="215.19" r="1.2" fill="#f7860f"/>
<circle cx="409.50" cy="216.16" r="1.2" fill="#f7860f"/>
<circle cx="411.50" cy="220.86" r="1.2" fill="#f7860f"/>
<circle cx="410.00" cy="221.64" r="1.2" fill="#f7860f"/>
<circle cx="412.50" cy="223.57" r="1.2" fill="#f7860f"/>
<circle cx="410.50" cy="224.41" r="1.2" fill="#f7860f"/>
<circle cx="411.20" cy="229.51" r="1.2" fill="#f7860f"/>
<line x1="408.25" y1="220.50" x2="414.25" y2="220.50" stroke="#444" stroke-width="0.9"/>
<circle cx="424.00" cy="208.41" r="1.2" fill="#f7860f"/>
<circle cx="423.00" cy="216.16" r="1.2" fill="#f7860f"/>
<circle cx="425.50" cy="217.44" r="1.2" fill="#f7860f"/>
<circle cx="424.50" cy="219.19" r="1.2" fill="#f7860f"/>
<circle cx="422.50" cy="220.02" r="1.2" fill="#f7860f"/>
<circle cx="425.50" cy="220.86" r="1.2" fill="#f7860f"/>
<circle cx="423.50" cy="222.60" r="1.2" fill="#f7860f"/>
<circle cx="425.00" cy="223.25" r="1.2" fill="#f7860f"/>
<line x1="420.90" y1="219.50" x2="426.90" y2="219.50" stroke="#444" stroke-width="0.9"/>
<line x1="386.75" y1="159.50" x2="425.00" y2="159.50" stroke="#333" stroke-width="0.9"/>
<polygon points="399.25,154.05 399.78,154.97 400.82,155.19 400.11,155.98 400.22,157.03 399.25,156.61 398.28,157.03 398.39,155.98 397.68,155.19 398.72,154.97" fill="#222" stroke="#222" stroke-width="0.35" stroke-linejoin="round"/>
<polygon points="402.75,154.05 403.28,154.97 404.32,155.19 403.61,155.98 403.72,157.03 402.75,156.61 401.78,157.03 401.89,155.98 401.18,155.19 402.22,154.97" fill="#222" stroke="#222" stroke-width="0.35" stroke-linejoin="round"/>
<polygon points="406.25,154.05 406.78,154.97 407.82,155.19 407.11,155.98 407.22,157.03 406.25,156.61 405.28,157.03 405.39,155.98 404.68,155.19 405.72,154.97" fill="#222" stroke="#222" stroke-width="0.35" stroke-linejoin="round"/>
<polygon points="409.75,154.05 410.28,154.97 411.32,155.19 410.61,155.98 410.72,157.03 409.75,156.61 408.78,157.03 408.89,155.98 408.18,155.19 409.22,154.97" fill="#222" stroke="#222" stroke-width="0.35" stroke-linejoin="round"/>
<line x1="386.75" y1="167.50" x2="413.00" y2="167.50" stroke="#333" stroke-width="0.9"/>
<polygon points="391.55,162.25 392.08,163.17 393.12,163.39 392.41,164.18 392.52,165.23 391.55,164.81 390.58,165.23 390.69,164.18 389.98,163.39 391.02,163.17" fill="#222" stroke="#222" stroke-width="0.35" stroke-linejoin="round"/>
<polygon points="395.05,162.25 395.58,163.17 396.62,163.39 395.91,164.18 396.02,165.23 395.05,164.81 394.08,165.23 394.19,164.18 393.48,163.39 394.52,163.17" fill="#222" stroke="#222" stroke-width="0.35" stroke-linejoin="round"/>
<polygon points="398.55,162.25 399.08,163.17 400.12,163.39 399.41,164.18 399.52,165.23 398.55,164.81 397.58,165.23 397.69,164.18 396.98,163.39 398.02,163.17" fill="#222" stroke="#222" stroke-width="0.35" stroke-linejoin="round"/>
<polygon points="402.05,162.25 402.58,163.17 403.62,163.39 402.91,164.18 403.02,165.23 402.05,164.81 401.08,165.23 401.19,164.18 400.48,163.39 401.52,163.17" fill="#222" stroke="#222" stroke-width="0.35" stroke-linejoin="round"/>
<line x1="386.75" y1="175.50" x2="399.50" y2="175.50" stroke="#333" stroke-width="0.9"/>
<polygon points="388.30,169.75 388.83,170.67 389.87,170.89 389.16,171.68 389.27,172.73 388.30,172.31 387.33,172.73 387.44,171.68 386.73,170.89 387.77,170.67" fill="#222" stroke="#222" stroke-width="0.35" stroke-linejoin="round"/>
<polygon points="391.80,169.75 392.33,170.67 393.37,170.89 392.66,171.68 392.77,172.73 391.80,172.31 390.83,172.73 390.94,171.68 390.23,170.89 391.27,170.67" fill="#222" stroke="#222" stroke-width="0.35" stroke-linejoin="round"/>
<polygon points="395.30,169.75 395.83,170.67 396.87,170.89 396.16,171.68 396.27,172.73 395.30,172.31 394.33,172.73 394.44,171.68 393.73,170.89 394.77,170.67" fill="#222" stroke="#222" stroke-width="0.35" stroke-linejoin="round"/>
<line x1="399.50" y1="189.50" x2="425.00" y2="189.50" stroke="#333" stroke-width="0.9"/>
<polygon points="411.15,184.25 411.68,185.17 412.72,185.39 412.01,186.18 412.12,187.23 411.15,186.81 410.18,187.23 410.29,186.18 409.58,185.39 410.62,185.17" fill="#222" stroke="#222" stroke-width="0.35" stroke-linejoin="round"/>
<polygon points="414.65,184.25 415.18,185.17 416.22,185.39 415.51,186.18 415.62,187.23 414.65,186.81 413.68,187.23 413.79,186.18 413.08,185.39 414.12,185.17" fill="#222" stroke="#222" stroke-width="0.35" stroke-linejoin="round"/>
<line x1="399.50" y1="197.50" x2="413.00" y2="197.50" stroke="#333" stroke-width="0.9"/>
<polygon points="404.30,192.25 404.83,193.17 405.87,193.39 405.16,194.18 405.27,195.23 404.30,194.81 403.33,195.23 403.44,194.18 402.73,193.39 403.77,193.17" fill="#222" stroke="#222" stroke-width="0.35" stroke-linejoin="round"/>
<text x="440.75" y="162.50" font-size="8.0" fill="#231f20" stroke="#231f20" stroke-width="0.3" textLength="26.5" lengthAdjust="spacingAndGlyphs">CD45.2</text>
<text x="440.75" y="172.50" font-size="8.0" fill="#2e5f95" stroke="#2e5f95" stroke-width="0.2" textLength="25.5" lengthAdjust="spacingAndGlyphs">Control</text>
<text x="440.75" y="182.50" font-size="8.0" fill="#f7941d" stroke="#f7941d" stroke-width="0.2" textLength="72" lengthAdjust="spacingAndGlyphs">Myd88/Cd79b/Prdm1</text>
<text x="12.40" y="312.10" font-size="10.8" fill="#231f20" stroke="#231f20" stroke-width="0.5" font-weight="bold">E</text>
<text x="69.50" y="315.50" font-size="9.2" fill="#231f20" stroke="#231f20" stroke-width="0.3" textLength="190.5" lengthAdjust="spacingAndGlyphs">Spleen <tspan fill="#f7941d" stroke="#f7941d" stroke-width="0.2">Myd88/Cd79b/Prdm1</tspan> mixed chimera</text>
<text x="72.40" y="330.50" font-size="7.6" fill="#231f20" stroke="#231f20" stroke-width="0.3" text-anchor="middle" textLength="36.5" lengthAdjust="spacingAndGlyphs">IgM<tspan font-size="5" dy="-3">+</tspan><tspan dy="3"> GCB</tspan></text>
<text x="124.80" y="330.60" font-size="7.6" fill="#231f20" stroke="#231f20" stroke-width="0.3" text-anchor="middle" textLength="36.5" lengthAdjust="spacingAndGlyphs">IgM<tspan font-size="5" dy="-3">−</tspan><tspan dy="3"> GCB</tspan></text>
<text x="47.50" y="352.00" font-size="7.6" fill="#231f20" stroke="#231f20" stroke-width="0.3" text-anchor="end" textLength="34.5" lengthAdjust="spacingAndGlyphs">CD45.1/2</text>
<text x="47.50" y="388.00" font-size="7.6" fill="#f7941d" stroke="#f7941d" stroke-width="0.2" text-anchor="end" textLength="26" lengthAdjust="spacingAndGlyphs">Myd88/</text>
<text x="47.50" y="396.30" font-size="7.6" fill="#f7941d" stroke="#f7941d" stroke-width="0.2" text-anchor="end" textLength="26" lengthAdjust="spacingAndGlyphs">Cd79b/</text>
<text x="47.50" y="404.60" font-size="7.6" fill="#f7941d" stroke="#f7941d" stroke-width="0.2" text-anchor="end" textLength="22" lengthAdjust="spacingAndGlyphs">Prdm1</text>
<rect x="50.50" y="333.50" width="43.00" height="43.00" stroke="#404040" stroke-width="1.0" fill="none"/>
<line x1="48.50" y1="373.50" x2="50.50" y2="373.50" stroke="#444" stroke-width="0.55"/>
<line x1="49.40" y1="370.79" x2="50.50" y2="370.79" stroke="#444" stroke-width="0.55"/>
<line x1="49.40" y1="369.21" x2="50.50" y2="369.21" stroke="#444" stroke-width="0.55"/>
<line x1="49.40" y1="368.08" x2="50.50" y2="368.08" stroke="#444" stroke-width="0.55"/>
<line x1="49.40" y1="367.21" x2="50.50" y2="367.21" stroke="#444" stroke-width="0.55"/>
<line x1="49.40" y1="366.50" x2="50.50" y2="366.50" stroke="#444" stroke-width="0.55"/>
<line x1="49.40" y1="365.89" x2="50.50" y2="365.89" stroke="#444" stroke-width="0.55"/>
<line x1="49.40" y1="365.37" x2="50.50" y2="365.37" stroke="#444" stroke-width="0.55"/>
<line x1="49.40" y1="364.91" x2="50.50" y2="364.91" stroke="#444" stroke-width="0.55"/>
<line x1="48.50" y1="364.50" x2="50.50" y2="364.50" stroke="#444" stroke-width="0.55"/>
<line x1="49.40" y1="361.79" x2="50.50" y2="361.79" stroke="#444" stroke-width="0.55"/>
<line x1="49.40" y1="360.21" x2="50.50" y2="360.21" stroke="#444" stroke-width="0.55"/>
<line x1="49.40" y1="359.08" x2="50.50" y2="359.08" stroke="#444" stroke-width="0.55"/>
<line x1="49.40" y1="358.21" x2="50.50" y2="358.21" stroke="#444" stroke-width="0.55"/>
<line x1="49.40" y1="357.50" x2="50.50" y2="357.50" stroke="#444" stroke-width="0.55"/>
<line x1="49.40" y1="356.89" x2="50.50" y2="356.89" stroke="#444" stroke-width="0.55"/>
<line x1="49.40" y1="356.37" x2="50.50" y2="356.37" stroke="#444" stroke-width="0.55"/>
<line x1="49.40" y1="355.91" x2="50.50" y2="355.91" stroke="#444" stroke-width="0.55"/>
<line x1="48.50" y1="355.50" x2="50.50" y2="355.50" stroke="#444" stroke-width="0.55"/>
<line x1="49.40" y1="352.79" x2="50.50" y2="352.79" stroke="#444" stroke-width="0.55"/>
<line x1="49.40" y1="351.21" x2="50.50" y2="351.21" stroke="#444" stroke-width="0.55"/>
<line x1="49.40" y1="350.08" x2="50.50" y2="350.08" stroke="#444" stroke-width="0.55"/>
<line x1="49.40" y1="349.21" x2="50.50" y2="349.21" stroke="#444" stroke-width="0.55"/>
<line x1="49.40" y1="348.50" x2="50.50" y2="348.50" stroke="#444" stroke-width="0.55"/>
<line x1="49.40" y1="347.89" x2="50.50" y2="347.89" stroke="#444" stroke-width="0.55"/>
<line x1="49.40" y1="347.37" x2="50.50" y2="347.37" stroke="#444" stroke-width="0.55"/>
<line x1="49.40" y1="346.91" x2="50.50" y2="346.91" stroke="#444" stroke-width="0.55"/>
<line x1="48.50" y1="346.50" x2="50.50" y2="346.50" stroke="#444" stroke-width="0.55"/>
<line x1="49.40" y1="343.79" x2="50.50" y2="343.79" stroke="#444" stroke-width="0.55"/>
<line x1="49.40" y1="342.21" x2="50.50" y2="342.21" stroke="#444" stroke-width="0.55"/>
<line x1="49.40" y1="341.08" x2="50.50" y2="341.08" stroke="#444" stroke-width="0.55"/>
<line x1="49.40" y1="340.21" x2="50.50" y2="340.21" stroke="#444" stroke-width="0.55"/>
<line x1="49.40" y1="339.50" x2="50.50" y2="339.50" stroke="#444" stroke-width="0.55"/>
<line x1="49.40" y1="338.89" x2="50.50" y2="338.89" stroke="#444" stroke-width="0.55"/>
<line x1="49.40" y1="338.37" x2="50.50" y2="338.37" stroke="#444" stroke-width="0.55"/>
<line x1="49.40" y1="337.91" x2="50.50" y2="337.91" stroke="#444" stroke-width="0.55"/>
<line x1="48.50" y1="337.50" x2="50.50" y2="337.50" stroke="#444" stroke-width="0.55"/>
<line x1="53.50" y1="376.50" x2="53.50" y2="378.50" stroke="#444" stroke-width="0.55"/>
<line x1="56.21" y1="376.50" x2="56.21" y2="377.60" stroke="#444" stroke-width="0.55"/>
<line x1="57.79" y1="376.50" x2="57.79" y2="377.60" stroke="#444" stroke-width="0.55"/>
<line x1="58.92" y1="376.50" x2="58.92" y2="377.60" stroke="#444" stroke-width="0.55"/>
<line x1="59.79" y1="376.50" x2="59.79" y2="377.60" stroke="#444" stroke-width="0.55"/>
<line x1="60.50" y1="376.50" x2="60.50" y2="377.60" stroke="#444" stroke-width="0.55"/>
<line x1="61.11" y1="376.50" x2="61.11" y2="377.60" stroke="#444" stroke-width="0.55"/>
<line x1="61.63" y1="376.50" x2="61.63" y2="377.60" stroke="#444" stroke-width="0.55"/>
<line x1="62.09" y1="376.50" x2="62.09" y2="377.60" stroke="#444" stroke-width="0.55"/>
<line x1="62.50" y1="376.50" x2="62.50" y2="378.50" stroke="#444" stroke-width="0.55"/>
<line x1="65.21" y1="376.50" x2="65.21" y2="377.60" stroke="#444" stroke-width="0.55"/>
<line x1="66.79" y1="376.50" x2="66.79" y2="377.60" stroke="#444" stroke-width="0.55"/>
<line x1="67.92" y1="376.50" x2="67.92" y2="377.60" stroke="#444" stroke-width="0.55"/>
<line x1="68.79" y1="376.50" x2="68.79" y2="377.60" stroke="#444" stroke-width="0.55"/>
<line x1="69.50" y1="376.50" x2="69.50" y2="377.60" stroke="#444" stroke-width="0.55"/>
<line x1="70.11" y1="376.50" x2="70.11" y2="377.60" stroke="#444" stroke-width="0.55"/>
<line x1="70.63" y1="376.50" x2="70.63" y2="377.60" stroke="#444" stroke-width="0.55"/>
<line x1="71.09" y1="376.50" x2="71.09" y2="377.60" stroke="#444" stroke-width="0.55"/>
<line x1="71.50" y1="376.50" x2="71.50" y2="378.50" stroke="#444" stroke-width="0.55"/>
<line x1="74.21" y1="376.50" x2="74.21" y2="377.60" stroke="#444" stroke-width="0.55"/>
<line x1="75.79" y1="376.50" x2="75.79" y2="377.60" stroke="#444" stroke-width="0.55"/>
<line x1="76.92" y1="376.50" x2="76.92" y2="377.60" stroke="#444" stroke-width="0.55"/>
<line x1="77.79" y1="376.50" x2="77.79" y2="377.60" stroke="#444" stroke-width="0.55"/>
<line x1="78.50" y1="376.50" x2="78.50" y2="377.60" stroke="#444" stroke-width="0.55"/>
<line x1="79.11" y1="376.50" x2="79.11" y2="377.60" stroke="#444" stroke-width="0.55"/>
<line x1="79.63" y1="376.50" x2="79.63" y2="377.60" stroke="#444" stroke-width="0.55"/>
<line x1="80.09" y1="376.50" x2="80.09" y2="377.60" stroke="#444" stroke-width="0.55"/>
<line x1="80.50" y1="376.50" x2="80.50" y2="378.50" stroke="#444" stroke-width="0.55"/>
<line x1="83.21" y1="376.50" x2="83.21" y2="377.60" stroke="#444" stroke-width="0.55"/>
<line x1="84.79" y1="376.50" x2="84.79" y2="377.60" stroke="#444" stroke-width="0.55"/>
<line x1="85.92" y1="376.50" x2="85.92" y2="377.60" stroke="#444" stroke-width="0.55"/>
<line x1="86.79" y1="376.50" x2="86.79" y2="377.60" stroke="#444" stroke-width="0.55"/>
<line x1="87.50" y1="376.50" x2="87.50" y2="377.60" stroke="#444" stroke-width="0.55"/>
<line x1="88.11" y1="376.50" x2="88.11" y2="377.60" stroke="#444" stroke-width="0.55"/>
<line x1="88.63" y1="376.50" x2="88.63" y2="377.60" stroke="#444" stroke-width="0.55"/>
<line x1="89.09" y1="376.50" x2="89.09" y2="377.60" stroke="#444" stroke-width="0.55"/>
<line x1="89.50" y1="376.50" x2="89.50" y2="378.50" stroke="#444" stroke-width="0.55"/>
<ellipse cx="61.90" cy="357.70" rx="3.20" ry="4.50" fill="none" stroke="#c8c8c8" stroke-width="0.5" opacity="1.0" transform="rotate(-15 61.90 357.70)"/>
<ellipse cx="61.90" cy="357.70" rx="1.60" ry="2.25" fill="none" stroke="#c8c8c8" stroke-width="0.5" opacity="1.0" transform="rotate(-15 61.90 357.70)"/>
<ellipse cx="62.40" cy="363.70" rx="4.60" ry="5.80" fill="#000" fill-opacity="0.12" stroke="#555" stroke-width="0.8" transform="rotate(-15 62.40 363.70)"/>
<ellipse cx="62.40" cy="363.70" rx="3.59" ry="4.52" fill="#000" fill-opacity="0.12" stroke="#333" stroke-width="0.8" transform="rotate(-15 62.40 363.70)"/>
<ellipse cx="62.40" cy="363.70" rx="2.58" ry="3.25" fill="#000" fill-opacity="0.12" stroke="#222" stroke-width="0.8" transform="rotate(-15 62.40 363.70)"/>
<ellipse cx="62.40" cy="363.70" rx="1.56" ry="1.97" fill="#000" fill-opacity="0.12" stroke="#111" stroke-width="0.8" transform="rotate(-15 62.40 363.70)"/>
<circle cx="62.40" cy="364.00" r="0.6" fill="#fff"/>
<ellipse cx="74.00" cy="359.90" rx="4.50" ry="7.50" fill="#000" fill-opacity="0.05" stroke="#999" stroke-width="0.6"/>
<ellipse cx="74.00" cy="359.90" rx="3.60" ry="6.00" fill="#000" fill-opacity="0.05" stroke="#999" stroke-width="0.6"/>
<ellipse cx="74.00" cy="359.90" rx="2.70" ry="4.50" fill="#000" fill-opacity="0.05" stroke="#999" stroke-width="0.6"/>
<ellipse cx="74.00" cy="359.90" rx="1.80" ry="3.00" fill="#000" fill-opacity="0.05" stroke="#999" stroke-width="0.6"/>
<rect x="68.40" y="347.30" width="14.90" height="25.00" stroke="#333" stroke-width="0.9" fill="none"/>
<text x="75.90" y="344.60" font-size="7.4" fill="#231f20" stroke="#231f20" stroke-width="0.3" text-anchor="middle">26</text>
<rect x="102.50" y="333.50" width="43.00" height="43.00" stroke="#404040" stroke-width="1.0" fill="none"/>
<line x1="100.50" y1="373.50" x2="102.50" y2="373.50" stroke="#444" stroke-width="0.55"/>
<line x1="101.40" y1="370.79" x2="102.50" y2="370.79" stroke="#444" stroke-width="0.55"/>
<line x1="101.40" y1="369.21" x2="102.50" y2="369.21" stroke="#444" stroke-width="0.55"/>
<line x1="101.40" y1="368.08" x2="102.50" y2="368.08" stroke="#444" stroke-width="0.55"/>
<line x1="101.40" y1="367.21" x2="102.50" y2="367.21" stroke="#444" stroke-width="0.55"/>
<line x1="101.40" y1="366.50" x2="102.50" y2="366.50" stroke="#444" stroke-width="0.55"/>
<line x1="101.40" y1="365.89" x2="102.50" y2="365.89" stroke="#444" stroke-width="0.55"/>
<line x1="101.40" y1="365.37" x2="102.50" y2="365.37" stroke="#444" stroke-width="0.55"/>
<line x1="101.40" y1="364.91" x2="102.50" y2="364.91" stroke="#444" stroke-width="0.55"/>
<line x1="100.50" y1="364.50" x2="102.50" y2="364.50" stroke="#444" stroke-width="0.55"/>
<line x1="101.40" y1="361.79" x2="102.50" y2="361.79" stroke="#444" stroke-width="0.55"/>
<line x1="101.40" y1="360.21" x2="102.50" y2="360.21" stroke="#444" stroke-width="0.55"/>
<line x1="101.40" y1="359.08" x2="102.50" y2="359.08" stroke="#444" stroke-width="0.55"/>
<line x1="101.40" y1="358.21" x2="102.50" y2="358.21" stroke="#444" stroke-width="0.55"/>
<line x1="101.40" y1="357.50" x2="102.50" y2="357.50" stroke="#444" stroke-width="0.55"/>
<line x1="101.40" y1="356.89" x2="102.50" y2="356.89" stroke="#444" stroke-width="0.55"/>
<line x1="101.40" y1="356.37" x2="102.50" y2="356.37" stroke="#444" stroke-width="0.55"/>
<line x1="101.40" y1="355.91" x2="102.50" y2="355.91" stroke="#444" stroke-width="0.55"/>
<line x1="100.50" y1="355.50" x2="102.50" y2="355.50" stroke="#444" stroke-width="0.55"/>
<line x1="101.40" y1="352.79" x2="102.50" y2="352.79" stroke="#444" stroke-width="0.55"/>
<line x1="101.40" y1="351.21" x2="102.50" y2="351.21" stroke="#444" stroke-width="0.55"/>
<line x1="101.40" y1="350.08" x2="102.50" y2="350.08" stroke="#444" stroke-width="0.55"/>
<line x1="101.40" y1="349.21" x2="102.50" y2="349.21" stroke="#444" stroke-width="0.55"/>
<line x1="101.40" y1="348.50" x2="102.50" y2="348.50" stroke="#444" stroke-width="0.55"/>
<line x1="101.40" y1="347.89" x2="102.50" y2="347.89" stroke="#444" stroke-width="0.55"/>
<line x1="101.40" y1="347.37" x2="102.50" y2="347.37" stroke="#444" stroke-width="0.55"/>
<line x1="101.40" y1="346.91" x2="102.50" y2="346.91" stroke="#444" stroke-width="0.55"/>
<line x1="100.50" y1="346.50" x2="102.50" y2="346.50" stroke="#444" stroke-width="0.55"/>
<line x1="101.40" y1="343.79" x2="102.50" y2="343.79" stroke="#444" stroke-width="0.55"/>
<line x1="101.40" y1="342.21" x2="102.50" y2="342.21" stroke="#444" stroke-width="0.55"/>
<line x1="101.40" y1="341.08" x2="102.50" y2="341.08" stroke="#444" stroke-width="0.55"/>
<line x1="101.40" y1="340.21" x2="102.50" y2="340.21" stroke="#444" stroke-width="0.55"/>
<line x1="101.40" y1="339.50" x2="102.50" y2="339.50" stroke="#444" stroke-width="0.55"/>
<line x1="101.40" y1="338.89" x2="102.50" y2="338.89" stroke="#444" stroke-width="0.55"/>
<line x1="101.40" y1="338.37" x2="102.50" y2="338.37" stroke="#444" stroke-width="0.55"/>
<line x1="101.40" y1="337.91" x2="102.50" y2="337.91" stroke="#444" stroke-width="0.55"/>
<line x1="100.50" y1="337.50" x2="102.50" y2="337.50" stroke="#444" stroke-width="0.55"/>
<line x1="105.50" y1="376.50" x2="105.50" y2="378.50" stroke="#444" stroke-width="0.55"/>
<line x1="108.21" y1="376.50" x2="108.21" y2="377.60" stroke="#444" stroke-width="0.55"/>
<line x1="109.79" y1="376.50" x2="109.79" y2="377.60" stroke="#444" stroke-width="0.55"/>
<line x1="110.92" y1="376.50" x2="110.92" y2="377.60" stroke="#444" stroke-width="0.55"/>
<line x1="111.79" y1="376.50" x2="111.79" y2="377.60" stroke="#444" stroke-width="0.55"/>
<line x1="112.50" y1="376.50" x2="112.50" y2="377.60" stroke="#444" stroke-width="0.55"/>
<line x1="113.11" y1="376.50" x2="113.11" y2="377.60" stroke="#444" stroke-width="0.55"/>
<line x1="113.63" y1="376.50" x2="113.63" y2="377.60" stroke="#444" stroke-width="0.55"/>
<line x1="114.09" y1="376.50" x2="114.09" y2="377.60" stroke="#444" stroke-width="0.55"/>
<line x1="114.50" y1="376.50" x2="114.50" y2="378.50" stroke="#444" stroke-width="0.55"/>
<line x1="117.21" y1="376.50" x2="117.21" y2="377.60" stroke="#444" stroke-width="0.55"/>
<line x1="118.79" y1="376.50" x2="118.79" y2="377.60" stroke="#444" stroke-width="0.55"/>
<line x1="119.92" y1="376.50" x2="119.92" y2="377.60" stroke="#444" stroke-width="0.55"/>
<line x1="120.79" y1="376.50" x2="120.79" y2="377.60" stroke="#444" stroke-width="0.55"/>
<line x1="121.50" y1="376.50" x2="121.50" y2="377.60" stroke="#444" stroke-width="0.55"/>
<line x1="122.11" y1="376.50" x2="122.11" y2="377.60" stroke="#444" stroke-width="0.55"/>
<line x1="122.63" y1="376.50" x2="122.63" y2="377.60" stroke="#444" stroke-width="0.55"/>
<line x1="123.09" y1="376.50" x2="123.09" y2="377.60" stroke="#444" stroke-width="0.55"/>
<line x1="123.50" y1="376.50" x2="123.50" y2="378.50" stroke="#444" stroke-width="0.55"/>
<line x1="126.21" y1="376.50" x2="126.21" y2="377.60" stroke="#444" stroke-width="0.55"/>
<line x1="127.79" y1="376.50" x2="127.79" y2="377.60" stroke="#444" stroke-width="0.55"/>
<line x1="128.92" y1="376.50" x2="128.92" y2="377.60" stroke="#444" stroke-width="0.55"/>
<line x1="129.79" y1="376.50" x2="129.79" y2="377.60" stroke="#444" stroke-width="0.55"/>
<line x1="130.50" y1="376.50" x2="130.50" y2="377.60" stroke="#444" stroke-width="0.55"/>
<line x1="131.11" y1="376.50" x2="131.11" y2="377.60" stroke="#444" stroke-width="0.55"/>
<line x1="131.63" y1="376.50" x2="131.63" y2="377.60" stroke="#444" stroke-width="0.55"/>
<line x1="132.09" y1="376.50" x2="132.09" y2="377.60" stroke="#444" stroke-width="0.55"/>
<line x1="132.50" y1="376.50" x2="132.50" y2="378.50" stroke="#444" stroke-width="0.55"/>
<line x1="135.21" y1="376.50" x2="135.21" y2="377.60" stroke="#444" stroke-width="0.55"/>
<line x1="136.79" y1="376.50" x2="136.79" y2="377.60" stroke="#444" stroke-width="0.55"/>
<line x1="137.92" y1="376.50" x2="137.92" y2="377.60" stroke="#444" stroke-width="0.55"/>
<line x1="138.79" y1="376.50" x2="138.79" y2="377.60" stroke="#444" stroke-width="0.55"/>
<line x1="139.50" y1="376.50" x2="139.50" y2="377.60" stroke="#444" stroke-width="0.55"/>
<line x1="140.11" y1="376.50" x2="140.11" y2="377.60" stroke="#444" stroke-width="0.55"/>
<line x1="140.63" y1="376.50" x2="140.63" y2="377.60" stroke="#444" stroke-width="0.55"/>
<line x1="141.09" y1="376.50" x2="141.09" y2="377.60" stroke="#444" stroke-width="0.55"/>
<line x1="141.50" y1="376.50" x2="141.50" y2="378.50" stroke="#444" stroke-width="0.55"/>
<ellipse cx="113.30" cy="357.70" rx="3.20" ry="4.50" fill="none" stroke="#c8c8c8" stroke-width="0.5" opacity="1.0" transform="rotate(-15 113.30 357.70)"/>
<ellipse cx="113.30" cy="357.70" rx="1.60" ry="2.25" fill="none" stroke="#c8c8c8" stroke-width="0.5" opacity="1.0" transform="rotate(-15 113.30 357.70)"/>
<ellipse cx="113.80" cy="363.70" rx="4.60" ry="5.80" fill="#000" fill-opacity="0.12" stroke="#555" stroke-width="0.8" transform="rotate(-15 113.80 363.70)"/>
<ellipse cx="113.80" cy="363.70" rx="3.59" ry="4.52" fill="#000" fill-opacity="0.12" stroke="#333" stroke-width="0.8" transform="rotate(-15 113.80 363.70)"/>
<ellipse cx="113.80" cy="363.70" rx="2.58" ry="3.25" fill="#000" fill-opacity="0.12" stroke="#222" stroke-width="0.8" transform="rotate(-15 113.80 363.70)"/>
<ellipse cx="113.80" cy="363.70" rx="1.56" ry="1.97" fill="#000" fill-opacity="0.12" stroke="#111" stroke-width="0.8" transform="rotate(-15 113.80 363.70)"/>
<circle cx="113.80" cy="364.00" r="0.6" fill="#fff"/>
<ellipse cx="125.40" cy="359.90" rx="4.50" ry="7.50" fill="#000" fill-opacity="0.05" stroke="#999" stroke-width="0.6"/>
<ellipse cx="125.40" cy="359.90" rx="3.60" ry="6.00" fill="#000" fill-opacity="0.05" stroke="#999" stroke-width="0.6"/>
<ellipse cx="125.40" cy="359.90" rx="2.70" ry="4.50" fill="#000" fill-opacity="0.05" stroke="#999" stroke-width="0.6"/>
<ellipse cx="125.40" cy="359.90" rx="1.80" ry="3.00" fill="#000" fill-opacity="0.05" stroke="#999" stroke-width="0.6"/>
<rect x="119.80" y="347.30" width="14.90" height="25.00" stroke="#333" stroke-width="0.9" fill="none"/>
<text x="127.30" y="344.60" font-size="7.4" fill="#231f20" stroke="#231f20" stroke-width="0.3" text-anchor="middle">25.7</text>
<rect x="50.50" y="383.50" width="43.00" height="43.00" stroke="#404040" stroke-width="1.0" fill="none"/>
<line x1="48.50" y1="423.50" x2="50.50" y2="423.50" stroke="#444" stroke-width="0.55"/>
<line x1="49.40" y1="420.79" x2="50.50" y2="420.79" stroke="#444" stroke-width="0.55"/>
<line x1="49.40" y1="419.21" x2="50.50" y2="419.21" stroke="#444" stroke-width="0.55"/>
<line x1="49.40" y1="418.08" x2="50.50" y2="418.08" stroke="#444" stroke-width="0.55"/>
<line x1="49.40" y1="417.21" x2="50.50" y2="417.21" stroke="#444" stroke-width="0.55"/>
<line x1="49.40" y1="416.50" x2="50.50" y2="416.50" stroke="#444" stroke-width="0.55"/>
<line x1="49.40" y1="415.89" x2="50.50" y2="415.89" stroke="#444" stroke-width="0.55"/>
<line x1="49.40" y1="415.37" x2="50.50" y2="415.37" stroke="#444" stroke-width="0.55"/>
<line x1="49.40" y1="414.91" x2="50.50" y2="414.91" stroke="#444" stroke-width="0.55"/>
<line x1="48.50" y1="414.50" x2="50.50" y2="414.50" stroke="#444" stroke-width="0.55"/>
<line x1="49.40" y1="411.79" x2="50.50" y2="411.79" stroke="#444" stroke-width="0.55"/>
<line x1="49.40" y1="410.21" x2="50.50" y2="410.21" stroke="#444" stroke-width="0.55"/>
<line x1="49.40" y1="409.08" x2="50.50" y2="409.08" stroke="#444" stroke-width="0.55"/>
<line x1="49.40" y1="408.21" x2="50.50" y2="408.21" stroke="#444" stroke-width="0.55"/>
<line x1="49.40" y1="407.50" x2="50.50" y2="407.50" stroke="#444" stroke-width="0.55"/>
<line x1="49.40" y1="406.89" x2="50.50" y2="406.89" stroke="#444" stroke-width="0.55"/>
<line x1="49.40" y1="406.37" x2="50.50" y2="406.37" stroke="#444" stroke-width="0.55"/>
<line x1="49.40" y1="405.91" x2="50.50" y2="405.91" stroke="#444" stroke-width="0.55"/>
<line x1="48.50" y1="405.50" x2="50.50" y2="405.50" stroke="#444" stroke-width="0.55"/>
<line x1="49.40" y1="402.79" x2="50.50" y2="402.79" stroke="#444" stroke-width="0.55"/>
<line x1="49.40" y1="401.21" x2="50.50" y2="401.21" stroke="#444" stroke-width="0.55"/>
<line x1="49.40" y1="400.08" x2="50.50" y2="400.08" stroke="#444" stroke-width="0.55"/>
<line x1="49.40" y1="399.21" x2="50.50" y2="399.21" stroke="#444" stroke-width="0.55"/>
<line x1="49.40" y1="398.50" x2="50.50" y2="398.50" stroke="#444" stroke-width="0.55"/>
<line x1="49.40" y1="397.89" x2="50.50" y2="397.89" stroke="#444" stroke-width="0.55"/>
<line x1="49.40" y1="397.37" x2="50.50" y2="397.37" stroke="#444" stroke-width="0.55"/>
<line x1="49.40" y1="396.91" x2="50.50" y2="396.91" stroke="#444" stroke-width="0.55"/>
<line x1="48.50" y1="396.50" x2="50.50" y2="396.50" stroke="#444" stroke-width="0.55"/>
<line x1="49.40" y1="393.79" x2="50.50" y2="393.79" stroke="#444" stroke-width="0.55"/>
<line x1="49.40" y1="392.21" x2="50.50" y2="392.21" stroke="#444" stroke-width="0.55"/>
<line x1="49.40" y1="391.08" x2="50.50" y2="391.08" stroke="#444" stroke-width="0.55"/>
<line x1="49.40" y1="390.21" x2="50.50" y2="390.21" stroke="#444" stroke-width="0.55"/>
<line x1="49.40" y1="389.50" x2="50.50" y2="389.50" stroke="#444" stroke-width="0.55"/>
<line x1="49.40" y1="388.89" x2="50.50" y2="388.89" stroke="#444" stroke-width="0.55"/>
<line x1="49.40" y1="388.37" x2="50.50" y2="388.37" stroke="#444" stroke-width="0.55"/>
<line x1="49.40" y1="387.91" x2="50.50" y2="387.91" stroke="#444" stroke-width="0.55"/>
<line x1="48.50" y1="387.50" x2="50.50" y2="387.50" stroke="#444" stroke-width="0.55"/>
<line x1="53.50" y1="426.50" x2="53.50" y2="428.50" stroke="#444" stroke-width="0.55"/>
<line x1="56.21" y1="426.50" x2="56.21" y2="427.60" stroke="#444" stroke-width="0.55"/>
<line x1="57.79" y1="426.50" x2="57.79" y2="427.60" stroke="#444" stroke-width="0.55"/>
<line x1="58.92" y1="426.50" x2="58.92" y2="427.60" stroke="#444" stroke-width="0.55"/>
<line x1="59.79" y1="426.50" x2="59.79" y2="427.60" stroke="#444" stroke-width="0.55"/>
<line x1="60.50" y1="426.50" x2="60.50" y2="427.60" stroke="#444" stroke-width="0.55"/>
<line x1="61.11" y1="426.50" x2="61.11" y2="427.60" stroke="#444" stroke-width="0.55"/>
<line x1="61.63" y1="426.50" x2="61.63" y2="427.60" stroke="#444" stroke-width="0.55"/>
<line x1="62.09" y1="426.50" x2="62.09" y2="427.60" stroke="#444" stroke-width="0.55"/>
<line x1="62.50" y1="426.50" x2="62.50" y2="428.50" stroke="#444" stroke-width="0.55"/>
<line x1="65.21" y1="426.50" x2="65.21" y2="427.60" stroke="#444" stroke-width="0.55"/>
<line x1="66.79" y1="426.50" x2="66.79" y2="427.60" stroke="#444" stroke-width="0.55"/>
<line x1="67.92" y1="426.50" x2="67.92" y2="427.60" stroke="#444" stroke-width="0.55"/>
<line x1="68.79" y1="426.50" x2="68.79" y2="427.60" stroke="#444" stroke-width="0.55"/>
<line x1="69.50" y1="426.50" x2="69.50" y2="427.60" stroke="#444" stroke-width="0.55"/>
<line x1="70.11" y1="426.50" x2="70.11" y2="427.60" stroke="#444" stroke-width="0.55"/>
<line x1="70.63" y1="426.50" x2="70.63" y2="427.60" stroke="#444" stroke-width="0.55"/>
<line x1="71.09" y1="426.50" x2="71.09" y2="427.60" stroke="#444" stroke-width="0.55"/>
<line x1="71.50" y1="426.50" x2="71.50" y2="428.50" stroke="#444" stroke-width="0.55"/>
<line x1="74.21" y1="426.50" x2="74.21" y2="427.60" stroke="#444" stroke-width="0.55"/>
<line x1="75.79" y1="426.50" x2="75.79" y2="427.60" stroke="#444" stroke-width="0.55"/>
<line x1="76.92" y1="426.50" x2="76.92" y2="427.60" stroke="#444" stroke-width="0.55"/>
<line x1="77.79" y1="426.50" x2="77.79" y2="427.60" stroke="#444" stroke-width="0.55"/>
<line x1="78.50" y1="426.50" x2="78.50" y2="427.60" stroke="#444" stroke-width="0.55"/>
<line x1="79.11" y1="426.50" x2="79.11" y2="427.60" stroke="#444" stroke-width="0.55"/>
<line x1="79.63" y1="426.50" x2="79.63" y2="427.60" stroke="#444" stroke-width="0.55"/>
<line x1="80.09" y1="426.50" x2="80.09" y2="427.60" stroke="#444" stroke-width="0.55"/>
<line x1="80.50" y1="426.50" x2="80.50" y2="428.50" stroke="#444" stroke-width="0.55"/>
<line x1="83.21" y1="426.50" x2="83.21" y2="427.60" stroke="#444" stroke-width="0.55"/>
<line x1="84.79" y1="426.50" x2="84.79" y2="427.60" stroke="#444" stroke-width="0.55"/>
<line x1="85.92" y1="426.50" x2="85.92" y2="427.60" stroke="#444" stroke-width="0.55"/>
<line x1="86.79" y1="426.50" x2="86.79" y2="427.60" stroke="#444" stroke-width="0.55"/>
<line x1="87.50" y1="426.50" x2="87.50" y2="427.60" stroke="#444" stroke-width="0.55"/>
<line x1="88.11" y1="426.50" x2="88.11" y2="427.60" stroke="#444" stroke-width="0.55"/>
<line x1="88.63" y1="426.50" x2="88.63" y2="427.60" stroke="#444" stroke-width="0.55"/>
<line x1="89.09" y1="426.50" x2="89.09" y2="427.60" stroke="#444" stroke-width="0.55"/>
<line x1="89.50" y1="426.50" x2="89.50" y2="428.50" stroke="#444" stroke-width="0.55"/>
<ellipse cx="61.90" cy="407.50" rx="3.20" ry="4.50" fill="none" stroke="#c8c8c8" stroke-width="0.5" opacity="1.0" transform="rotate(-15 61.90 407.50)"/>
<ellipse cx="61.90" cy="407.50" rx="1.60" ry="2.25" fill="none" stroke="#c8c8c8" stroke-width="0.5" opacity="1.0" transform="rotate(-15 61.90 407.50)"/>
<ellipse cx="62.40" cy="413.50" rx="4.60" ry="5.80" fill="#000" fill-opacity="0.12" stroke="#555" stroke-width="0.8" transform="rotate(-15 62.40 413.50)"/>
<ellipse cx="62.40" cy="413.50" rx="3.59" ry="4.52" fill="#000" fill-opacity="0.12" stroke="#333" stroke-width="0.8" transform="rotate(-15 62.40 413.50)"/>
<ellipse cx="62.40" cy="413.50" rx="2.58" ry="3.25" fill="#000" fill-opacity="0.12" stroke="#222" stroke-width="0.8" transform="rotate(-15 62.40 413.50)"/>
<ellipse cx="62.40" cy="413.50" rx="1.56" ry="1.97" fill="#000" fill-opacity="0.12" stroke="#111" stroke-width="0.8" transform="rotate(-15 62.40 413.50)"/>
<circle cx="62.40" cy="413.80" r="0.6" fill="#fff"/>
<ellipse cx="74.00" cy="409.70" rx="4.50" ry="7.50" fill="#000" fill-opacity="0.05" stroke="#999" stroke-width="0.6"/>
<ellipse cx="74.00" cy="409.70" rx="3.60" ry="6.00" fill="#000" fill-opacity="0.05" stroke="#999" stroke-width="0.6"/>
<ellipse cx="74.00" cy="409.70" rx="2.70" ry="4.50" fill="#000" fill-opacity="0.05" stroke="#999" stroke-width="0.6"/>
<ellipse cx="74.00" cy="409.70" rx="1.80" ry="3.00" fill="#000" fill-opacity="0.05" stroke="#999" stroke-width="0.6"/>
<rect x="68.40" y="397.10" width="14.90" height="25.00" stroke="#f7941d" stroke-width="0.9" fill="none"/>
<text x="75.90" y="394.40" font-size="7.4" fill="#231f20" stroke="#231f20" stroke-width="0.3" text-anchor="middle">39.9</text>
<rect x="102.50" y="383.50" width="43.00" height="43.00" stroke="#404040" stroke-width="1.0" fill="none"/>
<line x1="100.50" y1="423.50" x2="102.50" y2="423.50" stroke="#444" stroke-width="0.55"/>
<line x1="101.40" y1="420.79" x2="102.50" y2="420.79" stroke="#444" stroke-width="0.55"/>
<line x1="101.40" y1="419.21" x2="102.50" y2="419.21" stroke="#444" stroke-width="0.55"/>
<line x1="101.40" y1="418.08" x2="102.50" y2="418.08" stroke="#444" stroke-width="0.55"/>
<line x1="101.40" y1="417.21" x2="102.50" y2="417.21" stroke="#444" stroke-width="0.55"/>
<line x1="101.40" y1="416.50" x2="102.50" y2="416.50" stroke="#444" stroke-width="0.55"/>
<line x1="101.40" y1="415.89" x2="102.50" y2="415.89" stroke="#444" stroke-width="0.55"/>
<line x1="101.40" y1="415.37" x2="102.50" y2="415.37" stroke="#444" stroke-width="0.55"/>
<line x1="101.40" y1="414.91" x2="102.50" y2="414.91" stroke="#444" stroke-width="0.55"/>
<line x1="100.50" y1="414.50" x2="102.50" y2="414.50" stroke="#444" stroke-width="0.55"/>
<line x1="101.40" y1="411.79" x2="102.50" y2="411.79" stroke="#444" stroke-width="0.55"/>
<line x1="101.40" y1="410.21" x2="102.50" y2="410.21" stroke="#444" stroke-width="0.55"/>
<line x1="101.40" y1="409.08" x2="102.50" y2="409.08" stroke="#444" stroke-width="0.55"/>
<line x1="101.40" y1="408.21" x2="102.50" y2="408.21" stroke="#444" stroke-width="0.55"/>
<line x1="101.40" y1="407.50" x2="102.50" y2="407.50" stroke="#444" stroke-width="0.55"/>
<line x1="101.40" y1="406.89" x2="102.50" y2="406.89" stroke="#444" stroke-width="0.55"/>
<line x1="101.40" y1="406.37" x2="102.50" y2="406.37" stroke="#444" stroke-width="0.55"/>
<line x1="101.40" y1="405.91" x2="102.50" y2="405.91" stroke="#444" stroke-width="0.55"/>
<line x1="100.50" y1="405.50" x2="102.50" y2="405.50" stroke="#444" stroke-width="0.55"/>
<line x1="101.40" y1="402.79" x2="102.50" y2="402.79" stroke="#444" stroke-width="0.55"/>
<line x1="101.40" y1="401.21" x2="102.50" y2="401.21" stroke="#444" stroke-width="0.55"/>
<line x1="101.40" y1="400.08" x2="102.50" y2="400.08" stroke="#444" stroke-width="0.55"/>
<line x1="101.40" y1="399.21" x2="102.50" y2="399.21" stroke="#444" stroke-width="0.55"/>
<line x1="101.40" y1="398.50" x2="102.50" y2="398.50" stroke="#444" stroke-width="0.55"/>
<line x1="101.40" y1="397.89" x2="102.50" y2="397.89" stroke="#444" stroke-width="0.55"/>
<line x1="101.40" y1="397.37" x2="102.50" y2="397.37" stroke="#444" stroke-width="0.55"/>
<line x1="101.40" y1="396.91" x2="102.50" y2="396.91" stroke="#444" stroke-width="0.55"/>
<line x1="100.50" y1="396.50" x2="102.50" y2="396.50" stroke="#444" stroke-width="0.55"/>
<line x1="101.40" y1="393.79" x2="102.50" y2="393.79" stroke="#444" stroke-width="0.55"/>
<line x1="101.40" y1="392.21" x2="102.50" y2="392.21" stroke="#444" stroke-width="0.55"/>
<line x1="101.40" y1="391.08" x2="102.50" y2="391.08" stroke="#444" stroke-width="0.55"/>
<line x1="101.40" y1="390.21" x2="102.50" y2="390.21" stroke="#444" stroke-width="0.55"/>
<line x1="101.40" y1="389.50" x2="102.50" y2="389.50" stroke="#444" stroke-width="0.55"/>
<line x1="101.40" y1="388.89" x2="102.50" y2="388.89" stroke="#444" stroke-width="0.55"/>
<line x1="101.40" y1="388.37" x2="102.50" y2="388.37" stroke="#444" stroke-width="0.55"/>
<line x1="101.40" y1="387.91" x2="102.50" y2="387.91" stroke="#444" stroke-width="0.55"/>
<line x1="100.50" y1="387.50" x2="102.50" y2="387.50" stroke="#444" stroke-width="0.55"/>
<line x1="105.50" y1="426.50" x2="105.50" y2="428.50" stroke="#444" stroke-width="0.55"/>
<line x1="108.21" y1="426.50" x2="108.21" y2="427.60" stroke="#444" stroke-width="0.55"/>
<line x1="109.79" y1="426.50" x2="109.79" y2="427.60" stroke="#444" stroke-width="0.55"/>
<line x1="110.92" y1="426.50" x2="110.92" y2="427.60" stroke="#444" stroke-width="0.55"/>
<line x1="111.79" y1="426.50" x2="111.79" y2="427.60" stroke="#444" stroke-width="0.55"/>
<line x1="112.50" y1="426.50" x2="112.50" y2="427.60" stroke="#444" stroke-width="0.55"/>
<line x1="113.11" y1="426.50" x2="113.11" y2="427.60" stroke="#444" stroke-width="0.55"/>
<line x1="113.63" y1="426.50" x2="113.63" y2="427.60" stroke="#444" stroke-width="0.55"/>
<line x1="114.09" y1="426.50" x2="114.09" y2="427.60" stroke="#444" stroke-width="0.55"/>
<line x1="114.50" y1="426.50" x2="114.50" y2="428.50" stroke="#444" stroke-width="0.55"/>
<line x1="117.21" y1="426.50" x2="117.21" y2="427.60" stroke="#444" stroke-width="0.55"/>
<line x1="118.79" y1="426.50" x2="118.79" y2="427.60" stroke="#444" stroke-width="0.55"/>
<line x1="119.92" y1="426.50" x2="119.92" y2="427.60" stroke="#444" stroke-width="0.55"/>
<line x1="120.79" y1="426.50" x2="120.79" y2="427.60" stroke="#444" stroke-width="0.55"/>
<line x1="121.50" y1="426.50" x2="121.50" y2="427.60" stroke="#444" stroke-width="0.55"/>
<line x1="122.11" y1="426.50" x2="122.11" y2="427.60" stroke="#444" stroke-width="0.55"/>
<line x1="122.63" y1="426.50" x2="122.63" y2="427.60" stroke="#444" stroke-width="0.55"/>
<line x1="123.09" y1="426.50" x2="123.09" y2="427.60" stroke="#444" stroke-width="0.55"/>
<line x1="123.50" y1="426.50" x2="123.50" y2="428.50" stroke="#444" stroke-width="0.55"/>
<line x1="126.21" y1="426.50" x2="126.21" y2="427.60" stroke="#444" stroke-width="0.55"/>
<line x1="127.79" y1="426.50" x2="127.79" y2="427.60" stroke="#444" stroke-width="0.55"/>
<line x1="128.92" y1="426.50" x2="128.92" y2="427.60" stroke="#444" stroke-width="0.55"/>
<line x1="129.79" y1="426.50" x2="129.79" y2="427.60" stroke="#444" stroke-width="0.55"/>
<line x1="130.50" y1="426.50" x2="130.50" y2="427.60" stroke="#444" stroke-width="0.55"/>
<line x1="131.11" y1="426.50" x2="131.11" y2="427.60" stroke="#444" stroke-width="0.55"/>
<line x1="131.63" y1="426.50" x2="131.63" y2="427.60" stroke="#444" stroke-width="0.55"/>
<line x1="132.09" y1="426.50" x2="132.09" y2="427.60" stroke="#444" stroke-width="0.55"/>
<line x1="132.50" y1="426.50" x2="132.50" y2="428.50" stroke="#444" stroke-width="0.55"/>
<line x1="135.21" y1="426.50" x2="135.21" y2="427.60" stroke="#444" stroke-width="0.55"/>
<line x1="136.79" y1="426.50" x2="136.79" y2="427.60" stroke="#444" stroke-width="0.55"/>
<line x1="137.92" y1="426.50" x2="137.92" y2="427.60" stroke="#444" stroke-width="0.55"/>
<line x1="138.79" y1="426.50" x2="138.79" y2="427.60" stroke="#444" stroke-width="0.55"/>
<line x1="139.50" y1="426.50" x2="139.50" y2="427.60" stroke="#444" stroke-width="0.55"/>
<line x1="140.11" y1="426.50" x2="140.11" y2="427.60" stroke="#444" stroke-width="0.55"/>
<line x1="140.63" y1="426.50" x2="140.63" y2="427.60" stroke="#444" stroke-width="0.55"/>
<line x1="141.09" y1="426.50" x2="141.09" y2="427.60" stroke="#444" stroke-width="0.55"/>
<line x1="141.50" y1="426.50" x2="141.50" y2="428.50" stroke="#444" stroke-width="0.55"/>
<ellipse cx="113.30" cy="407.50" rx="3.20" ry="4.50" fill="none" stroke="#c8c8c8" stroke-width="0.5" opacity="1.0" transform="rotate(-15 113.30 407.50)"/>
<ellipse cx="113.30" cy="407.50" rx="1.60" ry="2.25" fill="none" stroke="#c8c8c8" stroke-width="0.5" opacity="1.0" transform="rotate(-15 113.30 407.50)"/>
<ellipse cx="113.80" cy="413.50" rx="4.60" ry="5.80" fill="#000" fill-opacity="0.12" stroke="#555" stroke-width="0.8" transform="rotate(-15 113.80 413.50)"/>
<ellipse cx="113.80" cy="413.50" rx="3.59" ry="4.52" fill="#000" fill-opacity="0.12" stroke="#333" stroke-width="0.8" transform="rotate(-15 113.80 413.50)"/>
<ellipse cx="113.80" cy="413.50" rx="2.58" ry="3.25" fill="#000" fill-opacity="0.12" stroke="#222" stroke-width="0.8" transform="rotate(-15 113.80 413.50)"/>
<ellipse cx="113.80" cy="413.50" rx="1.56" ry="1.97" fill="#000" fill-opacity="0.12" stroke="#111" stroke-width="0.8" transform="rotate(-15 113.80 413.50)"/>
<circle cx="113.80" cy="413.80" r="0.6" fill="#fff"/>
<ellipse cx="125.40" cy="409.70" rx="4.50" ry="7.50" fill="#000" fill-opacity="0.05" stroke="#999" stroke-width="0.6"/>
<ellipse cx="125.40" cy="409.70" rx="3.60" ry="6.00" fill="#000" fill-opacity="0.05" stroke="#999" stroke-width="0.6"/>
<ellipse cx="125.40" cy="409.70" rx="2.70" ry="4.50" fill="#000" fill-opacity="0.05" stroke="#999" stroke-width="0.6"/>
<ellipse cx="125.40" cy="409.70" rx="1.80" ry="3.00" fill="#000" fill-opacity="0.05" stroke="#999" stroke-width="0.6"/>
<rect x="119.80" y="397.10" width="14.90" height="25.00" stroke="#f7941d" stroke-width="0.9" fill="none"/>
<text x="127.30" y="394.40" font-size="7.4" fill="#231f20" stroke="#231f20" stroke-width="0.3" text-anchor="middle">33.9</text>
<text x="44.80" y="413.80" font-size="7.4" fill="#231f20" stroke="#231f20" stroke-width="0.3" text-anchor="middle" textLength="13.5" lengthAdjust="spacingAndGlyphs" transform="rotate(-90 44.80 413.80)">FSC</text>
<line x1="43.50" y1="433.50" x2="43.50" y2="426.19" stroke="#231f20" stroke-width="1.0"/>
<polygon points="43.50,423.00 41.47,426.48 45.53,426.48" fill="#231f20"/>
<line x1="43.00" y1="433.50" x2="51.31" y2="433.50" stroke="#231f20" stroke-width="1.0"/>
<polygon points="54.50,433.50 51.02,431.47 51.02,435.53" fill="#231f20"/>
<text x="57.00" y="437.20" font-size="7.6" fill="#231f20" stroke="#231f20" stroke-width="0.3" textLength="21" lengthAdjust="spacingAndGlyphs">BRDU</text>
<line x1="189.50" y1="331.20" x2="189.50" y2="394.70" stroke="#231f20" stroke-width="1.0"/>
<line x1="186.80" y1="394.50" x2="189.40" y2="394.50" stroke="#231f20" stroke-width="1.0"/>
<text x="183.80" y="397.58" font-size="8.0" fill="#231f20" stroke="#231f20" stroke-width="0.3" text-anchor="end">0</text>
<line x1="186.80" y1="374.50" x2="189.40" y2="374.50" stroke="#231f20" stroke-width="1.0"/>
<text x="183.80" y="377.68" font-size="8.0" fill="#231f20" stroke="#231f20" stroke-width="0.3" text-anchor="end">20</text>
<line x1="186.80" y1="354.50" x2="189.40" y2="354.50" stroke="#231f20" stroke-width="1.0"/>
<text x="183.80" y="357.78" font-size="8.0" fill="#231f20" stroke="#231f20" stroke-width="0.3" text-anchor="end">40</text>
<line x1="186.80" y1="335.50" x2="189.40" y2="335.50" stroke="#231f20" stroke-width="1.0"/>
<text x="183.80" y="337.88" font-size="8.0" fill="#231f20" stroke="#231f20" stroke-width="0.3" text-anchor="end">60</text>
<line x1="189.40" y1="394.50" x2="277.60" y2="394.50" stroke="#231f20" stroke-width="1.0"/>
<line x1="231.50" y1="333.70" x2="231.50" y2="394.70" stroke="#231f20" stroke-width="1.0"/>
<text x="169.00" y="364.70" font-size="8.6" fill="#231f20" stroke="#231f20" stroke-width="0.3" text-anchor="middle" textLength="46" lengthAdjust="spacingAndGlyphs" transform="rotate(-90 169.00 364.70)">% BrdU<tspan font-size="5.5" dy="-3.3">+</tspan><tspan dy="3.3"> GCB</tspan></text>
<line x1="193.50" y1="394.70" x2="193.50" y2="397.30" stroke="#231f20" stroke-width="1.0"/>
<line x1="204.50" y1="394.70" x2="204.50" y2="397.30" stroke="#231f20" stroke-width="1.0"/>
<line x1="215.50" y1="394.70" x2="215.50" y2="397.30" stroke="#231f20" stroke-width="1.0"/>
<line x1="225.50" y1="394.70" x2="225.50" y2="397.30" stroke="#231f20" stroke-width="1.0"/>
<line x1="239.50" y1="394.70" x2="239.50" y2="397.30" stroke="#231f20" stroke-width="1.0"/>
<line x1="250.50" y1="394.70" x2="250.50" y2="397.30" stroke="#231f20" stroke-width="1.0"/>
<line x1="260.50" y1="394.70" x2="260.50" y2="397.30" stroke="#231f20" stroke-width="1.0"/>
<line x1="271.50" y1="394.70" x2="271.50" y2="397.30" stroke="#231f20" stroke-width="1.0"/>
<text x="194.90" y="405.80" font-size="7.6" fill="#231f20" stroke="#231f20" stroke-width="0.3" text-anchor="end" transform="rotate(-45 194.90 405.80)">CD45.1/2</text>
<text x="205.60" y="405.80" font-size="7.6" fill="#231f20" stroke="#231f20" stroke-width="0.3" text-anchor="end" transform="rotate(-45 205.60 405.80)">Control</text>
<text x="216.30" y="405.80" font-size="7.6" fill="#231f20" stroke="#231f20" stroke-width="0.3" text-anchor="end" transform="rotate(-45 216.30 405.80)">CD45.1/2</text>
<text x="226.80" y="405.80" font-size="7.6" fill="#f7941d" stroke="#f7941d" stroke-width="0.2" text-anchor="end" transform="rotate(-45 226.80 405.80)">Myd88/Cd79b/Prdm1</text>
<text x="240.50" y="405.80" font-size="7.6" fill="#231f20" stroke="#231f20" stroke-width="0.3" text-anchor="end" transform="rotate(-45 240.50 405.80)">CD45.1/2</text>
<text x="251.30" y="405.80" font-size="7.6" fill="#231f20" stroke="#231f20" stroke-width="0.3" text-anchor="end" transform="rotate(-45 251.30 405.80)">Control</text>
<text x="261.90" y="405.80" font-size="7.6" fill="#231f20" stroke="#231f20" stroke-width="0.3" text-anchor="end" transform="rotate(-45 261.90 405.80)">CD45.1/2</text>
<text x="272.60" y="405.80" font-size="7.6" fill="#f7941d" stroke="#f7941d" stroke-width="0.2" text-anchor="end" transform="rotate(-45 272.60 405.80)">Myd88/Cd79b/Prdm1</text>
<line x1="193.80" y1="358.88" x2="204.50" y2="356.59" stroke="#111" stroke-width="0.65"/>
<line x1="193.80" y1="359.88" x2="204.50" y2="360.87" stroke="#111" stroke-width="0.65"/>
<line x1="193.80" y1="360.87" x2="204.50" y2="358.88" stroke="#111" stroke-width="0.65"/>
<line x1="193.80" y1="361.37" x2="204.50" y2="363.86" stroke="#111" stroke-width="0.65"/>
<line x1="193.80" y1="361.87" x2="204.50" y2="361.87" stroke="#111" stroke-width="0.65"/>
<line x1="193.80" y1="362.86" x2="204.50" y2="364.85" stroke="#111" stroke-width="0.65"/>
<line x1="193.80" y1="363.86" x2="204.50" y2="359.88" stroke="#111" stroke-width="0.65"/>
<line x1="193.80" y1="364.85" x2="204.50" y2="365.35" stroke="#111" stroke-width="0.65"/>
<line x1="193.80" y1="365.84" x2="204.50" y2="362.86" stroke="#111" stroke-width="0.65"/>
<line x1="193.80" y1="366.84" x2="204.50" y2="364.35" stroke="#111" stroke-width="0.65"/>
<line x1="193.80" y1="370.62" x2="204.50" y2="363.36" stroke="#111" stroke-width="0.65"/>
<circle cx="193.80" cy="358.88" r="1.2" fill="#c8102e"/>
<circle cx="193.80" cy="359.88" r="1.2" fill="#c8102e"/>
<circle cx="193.80" cy="360.87" r="1.2" fill="#c8102e"/>
<circle cx="193.80" cy="361.37" r="1.2" fill="#c8102e"/>
<circle cx="193.80" cy="361.87" r="1.2" fill="#c8102e"/>
<circle cx="193.80" cy="362.86" r="1.2" fill="#c8102e"/>
<circle cx="193.80" cy="363.86" r="1.2" fill="#c8102e"/>
<circle cx="193.80" cy="364.85" r="1.2" fill="#c8102e"/>
<circle cx="193.80" cy="365.84" r="1.2" fill="#c8102e"/>
<circle cx="193.80" cy="366.84" r="1.2" fill="#c8102e"/>
<circle cx="193.80" cy="370.62" r="1.2" fill="#c8102e"/>
<circle cx="204.50" cy="356.59" r="1.2" fill="#0d4b8c"/>
<circle cx="204.50" cy="360.87" r="1.2" fill="#0d4b8c"/>
<circle cx="204.50" cy="358.88" r="1.2" fill="#0d4b8c"/>
<circle cx="204.50" cy="363.86" r="1.2" fill="#0d4b8c"/>
<circle cx="204.50" cy="361.87" r="1.2" fill="#0d4b8c"/>
<circle cx="204.50" cy="364.85" r="1.2" fill="#0d4b8c"/>
<circle cx="204.50" cy="359.88" r="1.2" fill="#0d4b8c"/>
<circle cx="204.50" cy="365.35" r="1.2" fill="#0d4b8c"/>
<circle cx="204.50" cy="362.86" r="1.2" fill="#0d4b8c"/>
<circle cx="204.50" cy="364.35" r="1.2" fill="#0d4b8c"/>
<circle cx="204.50" cy="363.36" r="1.2" fill="#0d4b8c"/>
<line x1="215.20" y1="357.59" x2="225.70" y2="345.65" stroke="#111" stroke-width="0.65"/>
<line x1="215.20" y1="359.88" x2="225.70" y2="347.94" stroke="#111" stroke-width="0.65"/>
<line x1="215.20" y1="360.87" x2="225.70" y2="351.91" stroke="#111" stroke-width="0.65"/>
<line x1="215.20" y1="361.87" x2="225.70" y2="353.90" stroke="#111" stroke-width="0.65"/>
<line x1="215.20" y1="362.86" x2="225.70" y2="354.90" stroke="#111" stroke-width="0.65"/>
<line x1="215.20" y1="363.86" x2="225.70" y2="355.40" stroke="#111" stroke-width="0.65"/>
<line x1="215.20" y1="364.85" x2="225.70" y2="356.89" stroke="#111" stroke-width="0.65"/>
<line x1="215.20" y1="365.84" x2="225.70" y2="357.88" stroke="#111" stroke-width="0.65"/>
<line x1="215.20" y1="366.84" x2="225.70" y2="358.38" stroke="#111" stroke-width="0.65"/>
<line x1="215.20" y1="367.83" x2="225.70" y2="358.88" stroke="#111" stroke-width="0.65"/>
<line x1="215.20" y1="368.83" x2="225.70" y2="359.88" stroke="#111" stroke-width="0.65"/>
<line x1="215.20" y1="369.82" x2="225.70" y2="360.87" stroke="#111" stroke-width="0.65"/>
<line x1="215.20" y1="370.62" x2="225.70" y2="362.36" stroke="#111" stroke-width="0.65"/>
<line x1="215.20" y1="364.35" x2="225.70" y2="361.87" stroke="#111" stroke-width="0.65"/>
<circle cx="215.20" cy="357.59" r="1.2" fill="#c8102e"/>
<circle cx="215.20" cy="359.88" r="1.2" fill="#c8102e"/>
<circle cx="215.20" cy="360.87" r="1.2" fill="#c8102e"/>
<circle cx="215.20" cy="361.87" r="1.2" fill="#c8102e"/>
<circle cx="215.20" cy="362.86" r="1.2" fill="#c8102e"/>
<circle cx="215.20" cy="363.86" r="1.2" fill="#c8102e"/>
<circle cx="215.20" cy="364.85" r="1.2" fill="#c8102e"/>
<circle cx="215.20" cy="365.84" r="1.2" fill="#c8102e"/>
<circle cx="215.20" cy="366.84" r="1.2" fill="#c8102e"/>
<circle cx="215.20" cy="367.83" r="1.2" fill="#c8102e"/>
<circle cx="215.20" cy="368.83" r="1.2" fill="#c8102e"/>
<circle cx="215.20" cy="369.82" r="1.2" fill="#c8102e"/>
<circle cx="215.20" cy="370.62" r="1.2" fill="#c8102e"/>
<circle cx="215.20" cy="364.35" r="1.2" fill="#c8102e"/>
<circle cx="225.70" cy="345.65" r="1.2" fill="#f7860f"/>
<circle cx="225.70" cy="347.94" r="1.2" fill="#f7860f"/>
<circle cx="225.70" cy="351.91" r="1.2" fill="#f7860f"/>
<circle cx="225.70" cy="353.90" r="1.2" fill="#f7860f"/>
<circle cx="225.70" cy="354.90" r="1.2" fill="#f7860f"/>
<circle cx="225.70" cy="355.40" r="1.2" fill="#f7860f"/>
<circle cx="225.70" cy="356.89" r="1.2" fill="#f7860f"/>
<circle cx="225.70" cy="357.88" r="1.2" fill="#f7860f"/>
<circle cx="225.70" cy="358.38" r="1.2" fill="#f7860f"/>
<circle cx="225.70" cy="358.88" r="1.2" fill="#f7860f"/>
<circle cx="225.70" cy="359.88" r="1.2" fill="#f7860f"/>
<circle cx="225.70" cy="360.87" r="1.2" fill="#f7860f"/>
<circle cx="225.70" cy="362.36" r="1.2" fill="#f7860f"/>
<circle cx="225.70" cy="361.87" r="1.2" fill="#f7860f"/>
<line x1="239.40" y1="352.91" x2="250.20" y2="343.36" stroke="#111" stroke-width="0.65"/>
<line x1="239.40" y1="356.89" x2="250.20" y2="352.91" stroke="#111" stroke-width="0.65"/>
<line x1="239.40" y1="358.88" x2="250.20" y2="358.88" stroke="#111" stroke-width="0.65"/>
<line x1="239.40" y1="359.88" x2="250.20" y2="361.87" stroke="#111" stroke-width="0.65"/>
<line x1="239.40" y1="360.87" x2="250.20" y2="364.35" stroke="#111" stroke-width="0.65"/>
<line x1="239.40" y1="361.87" x2="250.20" y2="359.88" stroke="#111" stroke-width="0.65"/>
<line x1="239.40" y1="362.86" x2="250.20" y2="365.84" stroke="#111" stroke-width="0.65"/>
<line x1="239.40" y1="364.85" x2="250.20" y2="362.36" stroke="#111" stroke-width="0.65"/>
<line x1="239.40" y1="365.84" x2="250.20" y2="367.83" stroke="#111" stroke-width="0.65"/>
<line x1="239.40" y1="367.83" x2="250.20" y2="360.87" stroke="#111" stroke-width="0.65"/>
<line x1="239.40" y1="369.23" x2="250.20" y2="371.02" stroke="#111" stroke-width="0.65"/>
<circle cx="239.40" cy="352.91" r="1.2" fill="#c8102e"/>
<circle cx="239.40" cy="356.89" r="1.2" fill="#c8102e"/>
<circle cx="239.40" cy="358.88" r="1.2" fill="#c8102e"/>
<circle cx="239.40" cy="359.88" r="1.2" fill="#c8102e"/>
<circle cx="239.40" cy="360.87" r="1.2" fill="#c8102e"/>
<circle cx="239.40" cy="361.87" r="1.2" fill="#c8102e"/>
<circle cx="239.40" cy="362.86" r="1.2" fill="#c8102e"/>
<circle cx="239.40" cy="364.85" r="1.2" fill="#c8102e"/>
<circle cx="239.40" cy="365.84" r="1.2" fill="#c8102e"/>
<circle cx="239.40" cy="367.83" r="1.2" fill="#c8102e"/>
<circle cx="239.40" cy="369.23" r="1.2" fill="#c8102e"/>
<circle cx="250.20" cy="343.36" r="1.2" fill="#0d4b8c"/>
<circle cx="250.20" cy="352.91" r="1.2" fill="#0d4b8c"/>
<circle cx="250.20" cy="358.88" r="1.2" fill="#0d4b8c"/>
<circle cx="250.20" cy="361.87" r="1.2" fill="#0d4b8c"/>
<circle cx="250.20" cy="364.35" r="1.2" fill="#0d4b8c"/>
<circle cx="250.20" cy="359.88" r="1.2" fill="#0d4b8c"/>
<circle cx="250.20" cy="365.84" r="1.2" fill="#0d4b8c"/>
<circle cx="250.20" cy="362.36" r="1.2" fill="#0d4b8c"/>
<circle cx="250.20" cy="367.83" r="1.2" fill="#0d4b8c"/>
<circle cx="250.20" cy="360.87" r="1.2" fill="#0d4b8c"/>
<circle cx="250.20" cy="371.02" r="1.2" fill="#0d4b8c"/>
<line x1="260.80" y1="353.41" x2="271.50" y2="349.93" stroke="#111" stroke-width="0.65"/>
<line x1="260.80" y1="356.89" x2="271.50" y2="350.92" stroke="#111" stroke-width="0.65"/>
<line x1="260.80" y1="358.88" x2="271.50" y2="353.90" stroke="#111" stroke-width="0.65"/>
<line x1="260.80" y1="359.88" x2="271.50" y2="355.89" stroke="#111" stroke-width="0.65"/>
<line x1="260.80" y1="360.87" x2="271.50" y2="356.89" stroke="#111" stroke-width="0.65"/>
<line x1="260.80" y1="361.87" x2="271.50" y2="357.88" stroke="#111" stroke-width="0.65"/>
<line x1="260.80" y1="363.86" x2="271.50" y2="358.88" stroke="#111" stroke-width="0.65"/>
<line x1="260.80" y1="364.85" x2="271.50" y2="359.88" stroke="#111" stroke-width="0.65"/>
<line x1="260.80" y1="365.84" x2="271.50" y2="360.87" stroke="#111" stroke-width="0.65"/>
<line x1="260.80" y1="367.83" x2="271.50" y2="361.87" stroke="#111" stroke-width="0.65"/>
<line x1="260.80" y1="368.83" x2="271.50" y2="362.86" stroke="#111" stroke-width="0.65"/>
<line x1="260.80" y1="370.82" x2="271.50" y2="363.36" stroke="#111" stroke-width="0.65"/>
<line x1="260.80" y1="371.81" x2="271.50" y2="364.35" stroke="#111" stroke-width="0.65"/>
<line x1="260.80" y1="372.81" x2="271.50" y2="364.85" stroke="#111" stroke-width="0.65"/>
<line x1="260.80" y1="374.00" x2="271.50" y2="364.35" stroke="#111" stroke-width="0.65"/>
<line x1="260.80" y1="363.36" x2="271.50" y2="356.39" stroke="#111" stroke-width="0.65"/>
<circle cx="260.80" cy="353.41" r="1.2" fill="#c8102e"/>
<circle cx="260.80" cy="356.89" r="1.2" fill="#c8102e"/>
<circle cx="260.80" cy="358.88" r="1.2" fill="#c8102e"/>
<circle cx="260.80" cy="359.88" r="1.2" fill="#c8102e"/>
<circle cx="260.80" cy="360.87" r="1.2" fill="#c8102e"/>
<circle cx="260.80" cy="361.87" r="1.2" fill="#c8102e"/>
<circle cx="260.80" cy="363.86" r="1.2" fill="#c8102e"/>
<circle cx="260.80" cy="364.85" r="1.2" fill="#c8102e"/>
<circle cx="260.80" cy="365.84" r="1.2" fill="#c8102e"/>
<circle cx="260.80" cy="367.83" r="1.2" fill="#c8102e"/>
<circle cx="260.80" cy="368.83" r="1.2" fill="#c8102e"/>
<circle cx="260.80" cy="370.82" r="1.2" fill="#c8102e"/>
<circle cx="260.80" cy="371.81" r="1.2" fill="#c8102e"/>
<circle cx="260.80" cy="372.81" r="1.2" fill="#c8102e"/>
<circle cx="260.80" cy="374.00" r="1.2" fill="#c8102e"/>
<circle cx="260.80" cy="363.36" r="1.2" fill="#c8102e"/>
<circle cx="271.50" cy="349.93" r="1.2" fill="#f7860f"/>
<circle cx="271.50" cy="350.92" r="1.2" fill="#f7860f"/>
<circle cx="271.50" cy="353.90" r="1.2" fill="#f7860f"/>
<circle cx="271.50" cy="355.89" r="1.2" fill="#f7860f"/>
<circle cx="271.50" cy="356.89" r="1.2" fill="#f7860f"/>
<circle cx="271.50" cy="357.88" r="1.2" fill="#f7860f"/>
<circle cx="271.50" cy="358.88" r="1.2" fill="#f7860f"/>
<circle cx="271.50" cy="359.88" r="1.2" fill="#f7860f"/>
<circle cx="271.50" cy="360.87" r="1.2" fill="#f7860f"/>
<circle cx="271.50" cy="361.87" r="1.2" fill="#f7860f"/>
<circle cx="271.50" cy="362.86" r="1.2" fill="#f7860f"/>
<circle cx="271.50" cy="363.36" r="1.2" fill="#f7860f"/>
<circle cx="271.50" cy="364.35" r="1.2" fill="#f7860f"/>
<circle cx="271.50" cy="364.85" r="1.2" fill="#f7860f"/>
<circle cx="271.50" cy="364.35" r="1.2" fill="#f7860f"/>
<circle cx="271.50" cy="356.39" r="1.2" fill="#f7860f"/>
<line x1="214.30" y1="343.50" x2="225.50" y2="343.50" stroke="#333" stroke-width="0.9"/>
<polygon points="214.65,337.75 215.18,338.67 216.22,338.89 215.51,339.68 215.62,340.73 214.65,340.31 213.68,340.73 213.79,339.68 213.08,338.89 214.12,338.67" fill="#222" stroke="#222" stroke-width="0.35" stroke-linejoin="round"/>
<polygon points="218.15,337.75 218.68,338.67 219.72,338.89 219.01,339.68 219.12,340.73 218.15,340.31 217.18,340.73 217.29,339.68 216.58,338.89 217.62,338.67" fill="#222" stroke="#222" stroke-width="0.35" stroke-linejoin="round"/>
<polygon points="221.65,337.75 222.18,338.67 223.22,338.89 222.51,339.68 222.62,340.73 221.65,340.31 220.68,340.73 220.79,339.68 220.08,338.89 221.12,338.67" fill="#222" stroke="#222" stroke-width="0.35" stroke-linejoin="round"/>
<polygon points="225.15,337.75 225.68,338.67 226.72,338.89 226.01,339.68 226.12,340.73 225.15,340.31 224.18,340.73 224.29,339.68 223.58,338.89 224.62,338.67" fill="#222" stroke="#222" stroke-width="0.35" stroke-linejoin="round"/>
<line x1="224.50" y1="332.50" x2="271.30" y2="332.50" stroke="#333" stroke-width="0.9"/>
<polygon points="247.90,326.75 248.43,327.67 249.47,327.89 248.76,328.68 248.87,329.73 247.90,329.31 246.93,329.73 247.04,328.68 246.33,327.89 247.37,327.67" fill="#222" stroke="#222" stroke-width="0.35" stroke-linejoin="round"/>
<line x1="260.00" y1="345.50" x2="272.00" y2="345.50" stroke="#333" stroke-width="0.9"/>
<polygon points="260.75,340.55 261.28,341.47 262.32,341.69 261.61,342.48 261.72,343.53 260.75,343.11 259.78,343.53 259.89,342.48 259.18,341.69 260.22,341.47" fill="#222" stroke="#222" stroke-width="0.35" stroke-linejoin="round"/>
<polygon points="264.25,340.55 264.78,341.47 265.82,341.69 265.11,342.48 265.22,343.53 264.25,343.11 263.28,343.53 263.39,342.48 262.68,341.69 263.72,341.47" fill="#222" stroke="#222" stroke-width="0.35" stroke-linejoin="round"/>
<polygon points="267.75,340.55 268.28,341.47 269.32,341.69 268.61,342.48 268.72,343.53 267.75,343.11 266.78,343.53 266.89,342.48 266.18,341.69 267.22,341.47" fill="#222" stroke="#222" stroke-width="0.35" stroke-linejoin="round"/>
<polygon points="271.25,340.55 271.78,341.47 272.82,341.69 272.11,342.48 272.22,343.53 271.25,343.11 270.28,343.53 270.39,342.48 269.68,341.69 270.72,341.47" fill="#222" stroke="#222" stroke-width="0.35" stroke-linejoin="round"/>
<line x1="159.70" y1="461.00" x2="195.70" y2="461.00" stroke="#555" stroke-width="1.3"/>
<line x1="203.00" y1="461.00" x2="239.20" y2="461.00" stroke="#555" stroke-width="1.3"/>
<text x="177.70" y="470.60" font-size="8.7" fill="#231f20" stroke="#231f20" stroke-width="0.3" text-anchor="middle" textLength="34.6" lengthAdjust="spacingAndGlyphs">IgM<tspan font-size="5.8" dy="-3.4">+</tspan><tspan dy="3.4"> GCB</tspan></text>
<text x="221.10" y="470.60" font-size="8.7" fill="#231f20" stroke="#231f20" stroke-width="0.3" text-anchor="middle" textLength="34.6" lengthAdjust="spacingAndGlyphs">IgM<tspan font-size="5.8" dy="-3.4">−</tspan><tspan dy="3.4"> GCB</tspan></text>
<text x="297.60" y="313.10" font-size="10.8" fill="#231f20" stroke="#231f20" stroke-width="0.5" font-weight="bold">F</text>
<text x="313.75" y="319.50" font-size="9.2" fill="#231f20" stroke="#231f20" stroke-width="0.3" textLength="190" lengthAdjust="spacingAndGlyphs">Spleen <tspan fill="#f7941d" stroke="#f7941d" stroke-width="0.2">Myd88/Cd79b/Prdm1</tspan> mixed chimera</text>
<text x="315.00" y="332.00" font-size="7.6" fill="#231f20" stroke="#231f20" stroke-width="0.3" textLength="36.2" lengthAdjust="spacingAndGlyphs">IgM<tspan font-size="5" dy="-3">+</tspan><tspan dy="3"> GCB</tspan></text>
<rect x="312.50" y="335.50" width="43.00" height="43.00" stroke="#404040" stroke-width="1.0" fill="none"/>
<line x1="310.50" y1="375.50" x2="312.50" y2="375.50" stroke="#444" stroke-width="0.55"/>
<line x1="311.40" y1="372.79" x2="312.50" y2="372.79" stroke="#444" stroke-width="0.55"/>
<line x1="311.40" y1="371.21" x2="312.50" y2="371.21" stroke="#444" stroke-width="0.55"/>
<line x1="311.40" y1="370.08" x2="312.50" y2="370.08" stroke="#444" stroke-width="0.55"/>
<line x1="311.40" y1="369.21" x2="312.50" y2="369.21" stroke="#444" stroke-width="0.55"/>
<line x1="311.40" y1="368.50" x2="312.50" y2="368.50" stroke="#444" stroke-width="0.55"/>
<line x1="311.40" y1="367.89" x2="312.50" y2="367.89" stroke="#444" stroke-width="0.55"/>
<line x1="311.40" y1="367.37" x2="312.50" y2="367.37" stroke="#444" stroke-width="0.55"/>
<line x1="311.40" y1="366.91" x2="312.50" y2="366.91" stroke="#444" stroke-width="0.55"/>
<line x1="310.50" y1="366.50" x2="312.50" y2="366.50" stroke="#444" stroke-width="0.55"/>
<line x1="311.40" y1="363.79" x2="312.50" y2="363.79" stroke="#444" stroke-width="0.55"/>
<line x1="311.40" y1="362.21" x2="312.50" y2="362.21" stroke="#444" stroke-width="0.55"/>
<line x1="311.40" y1="361.08" x2="312.50" y2="361.08" stroke="#444" stroke-width="0.55"/>
<line x1="311.40" y1="360.21" x2="312.50" y2="360.21" stroke="#444" stroke-width="0.55"/>
<line x1="311.40" y1="359.50" x2="312.50" y2="359.50" stroke="#444" stroke-width="0.55"/>
<line x1="311.40" y1="358.89" x2="312.50" y2="358.89" stroke="#444" stroke-width="0.55"/>
<line x1="311.40" y1="358.37" x2="312.50" y2="358.37" stroke="#444" stroke-width="0.55"/>
<line x1="311.40" y1="357.91" x2="312.50" y2="357.91" stroke="#444" stroke-width="0.55"/>
<line x1="310.50" y1="357.50" x2="312.50" y2="357.50" stroke="#444" stroke-width="0.55"/>
<line x1="311.40" y1="354.79" x2="312.50" y2="354.79" stroke="#444" stroke-width="0.55"/>
<line x1="311.40" y1="353.21" x2="312.50" y2="353.21" stroke="#444" stroke-width="0.55"/>
<line x1="311.40" y1="352.08" x2="312.50" y2="352.08" stroke="#444" stroke-width="0.55"/>
<line x1="311.40" y1="351.21" x2="312.50" y2="351.21" stroke="#444" stroke-width="0.55"/>
<line x1="311.40" y1="350.50" x2="312.50" y2="350.50" stroke="#444" stroke-width="0.55"/>
<line x1="311.40" y1="349.89" x2="312.50" y2="349.89" stroke="#444" stroke-width="0.55"/>
<line x1="311.40" y1="349.37" x2="312.50" y2="349.37" stroke="#444" stroke-width="0.55"/>
<line x1="311.40" y1="348.91" x2="312.50" y2="348.91" stroke="#444" stroke-width="0.55"/>
<line x1="310.50" y1="348.50" x2="312.50" y2="348.50" stroke="#444" stroke-width="0.55"/>
<line x1="311.40" y1="345.79" x2="312.50" y2="345.79" stroke="#444" stroke-width="0.55"/>
<line x1="311.40" y1="344.21" x2="312.50" y2="344.21" stroke="#444" stroke-width="0.55"/>
<line x1="311.40" y1="343.08" x2="312.50" y2="343.08" stroke="#444" stroke-width="0.55"/>
<line x1="311.40" y1="342.21" x2="312.50" y2="342.21" stroke="#444" stroke-width="0.55"/>
<line x1="311.40" y1="341.50" x2="312.50" y2="341.50" stroke="#444" stroke-width="0.55"/>
<line x1="311.40" y1="340.89" x2="312.50" y2="340.89" stroke="#444" stroke-width="0.55"/>
<line x1="311.40" y1="340.37" x2="312.50" y2="340.37" stroke="#444" stroke-width="0.55"/>
<line x1="311.40" y1="339.91" x2="312.50" y2="339.91" stroke="#444" stroke-width="0.55"/>
<line x1="310.50" y1="339.50" x2="312.50" y2="339.50" stroke="#444" stroke-width="0.55"/>
<line x1="315.50" y1="378.50" x2="315.50" y2="380.50" stroke="#444" stroke-width="0.55"/>
<line x1="318.21" y1="378.50" x2="318.21" y2="379.60" stroke="#444" stroke-width="0.55"/>
<line x1="319.79" y1="378.50" x2="319.79" y2="379.60" stroke="#444" stroke-width="0.55"/>
<line x1="320.92" y1="378.50" x2="320.92" y2="379.60" stroke="#444" stroke-width="0.55"/>
<line x1="321.79" y1="378.50" x2="321.79" y2="379.60" stroke="#444" stroke-width="0.55"/>
<line x1="322.50" y1="378.50" x2="322.50" y2="379.60" stroke="#444" stroke-width="0.55"/>
<line x1="323.11" y1="378.50" x2="323.11" y2="379.60" stroke="#444" stroke-width="0.55"/>
<line x1="323.63" y1="378.50" x2="323.63" y2="379.60" stroke="#444" stroke-width="0.55"/>
<line x1="324.09" y1="378.50" x2="324.09" y2="379.60" stroke="#444" stroke-width="0.55"/>
<line x1="324.50" y1="378.50" x2="324.50" y2="380.50" stroke="#444" stroke-width="0.55"/>
<line x1="327.21" y1="378.50" x2="327.21" y2="379.60" stroke="#444" stroke-width="0.55"/>
<line x1="328.79" y1="378.50" x2="328.79" y2="379.60" stroke="#444" stroke-width="0.55"/>
<line x1="329.92" y1="378.50" x2="329.92" y2="379.60" stroke="#444" stroke-width="0.55"/>
<line x1="330.79" y1="378.50" x2="330.79" y2="379.60" stroke="#444" stroke-width="0.55"/>
<line x1="331.50" y1="378.50" x2="331.50" y2="379.60" stroke="#444" stroke-width="0.55"/>
<line x1="332.11" y1="378.50" x2="332.11" y2="379.60" stroke="#444" stroke-width="0.55"/>
<line x1="332.63" y1="378.50" x2="332.63" y2="379.60" stroke="#444" stroke-width="0.55"/>
<line x1="333.09" y1="378.50" x2="333.09" y2="379.60" stroke="#444" stroke-width="0.55"/>
<line x1="333.50" y1="378.50" x2="333.50" y2="380.50" stroke="#444" stroke-width="0.55"/>
<line x1="336.21" y1="378.50" x2="336.21" y2="379.60" stroke="#444" stroke-width="0.55"/>
<line x1="337.79" y1="378.50" x2="337.79" y2="379.60" stroke="#444" stroke-width="0.55"/>
<line x1="338.92" y1="378.50" x2="338.92" y2="379.60" stroke="#444" stroke-width="0.55"/>
<line x1="339.79" y1="378.50" x2="339.79" y2="379.60" stroke="#444" stroke-width="0.55"/>
<line x1="340.50" y1="378.50" x2="340.50" y2="379.60" stroke="#444" stroke-width="0.55"/>
<line x1="341.11" y1="378.50" x2="341.11" y2="379.60" stroke="#444" stroke-width="0.55"/>
<line x1="341.63" y1="378.50" x2="341.63" y2="379.60" stroke="#444" stroke-width="0.55"/>
<line x1="342.09" y1="378.50" x2="342.09" y2="379.60" stroke="#444" stroke-width="0.55"/>
<line x1="342.50" y1="378.50" x2="342.50" y2="380.50" stroke="#444" stroke-width="0.55"/>
<line x1="345.21" y1="378.50" x2="345.21" y2="379.60" stroke="#444" stroke-width="0.55"/>
<line x1="346.79" y1="378.50" x2="346.79" y2="379.60" stroke="#444" stroke-width="0.55"/>
<line x1="347.92" y1="378.50" x2="347.92" y2="379.60" stroke="#444" stroke-width="0.55"/>
<line x1="348.79" y1="378.50" x2="348.79" y2="379.60" stroke="#444" stroke-width="0.55"/>
<line x1="349.50" y1="378.50" x2="349.50" y2="379.60" stroke="#444" stroke-width="0.55"/>
<line x1="350.11" y1="378.50" x2="350.11" y2="379.60" stroke="#444" stroke-width="0.55"/>
<line x1="350.63" y1="378.50" x2="350.63" y2="379.60" stroke="#444" stroke-width="0.55"/>
<line x1="351.09" y1="378.50" x2="351.09" y2="379.60" stroke="#444" stroke-width="0.55"/>
<line x1="351.50" y1="378.50" x2="351.50" y2="380.50" stroke="#444" stroke-width="0.55"/>
<path d="M312.50,377.20L312.50,377.20 L312.85,377.20 L313.19,377.20 L313.54,377.20 L313.89,377.20 L314.23,377.20 L314.58,377.20 L314.93,377.20 L315.27,377.20 L315.62,377.20 L315.97,377.20 L316.31,377.20 L316.66,377.20 L317.01,377.20 L317.35,377.20 L317.70,377.20 L318.05,377.20 L318.39,377.19 L318.74,377.19 L319.09,377.19 L319.43,377.18 L319.78,377.17 L320.13,377.15 L320.47,377.13 L320.82,377.08 L321.17,377.01 L321.51,376.89 L321.86,376.71 L322.21,376.44 L322.55,376.04 L322.90,375.48 L323.25,374.70 L323.59,373.65 L323.94,372.31 L324.29,370.63 L324.63,368.61 L324.98,366.25 L325.33,363.53 L325.67,360.40 L326.02,356.77 L326.37,352.59 L326.71,348.00 L327.06,343.55 L327.41,340.18 L327.75,338.84 L328.10,339.99 L328.45,343.30 L328.79,347.86 L329.14,352.63 L329.49,356.93 L329.83,360.52 L330.18,363.46 L330.53,365.87 L330.87,367.88 L331.22,369.53 L331.57,370.88 L331.91,371.95 L332.26,372.80 L332.61,373.45 L332.95,373.97 L333.30,374.37 L333.65,374.70 L333.99,374.97 L334.34,375.22 L334.69,375.43 L335.03,375.63 L335.38,375.82 L335.73,375.99 L336.07,376.15 L336.42,376.29 L336.77,376.43 L337.11,376.55 L337.46,376.65 L337.81,376.75 L338.15,376.83 L338.50,376.90 L338.85,376.96 L339.19,377.01 L339.54,377.05 L339.89,377.08 L340.23,377.11 L340.58,377.13 L340.93,377.15 L341.27,377.16 L341.62,377.17 L341.97,377.18 L342.31,377.18 L342.66,377.19 L343.01,377.19 L343.35,377.19 L343.70,377.20 L344.05,377.20 L344.39,377.20 L344.74,377.20 L345.09,377.20 L345.43,377.20 L345.78,377.20 L346.13,377.20 L346.47,377.20 L346.82,377.20 L347.17,377.20 L347.51,377.20 L347.86,377.20 L348.21,377.20 L348.55,377.20 L348.90,377.20 L349.25,377.20 L349.59,377.20 L349.94,377.20 L350.29,377.20 L350.63,377.20 L350.98,377.20 L351.33,377.20 L351.67,377.20 L352.02,377.20 L352.37,377.20 L352.71,377.20 L353.06,377.20 L353.41,377.20 L353.75,377.20 L354.10,377.20 L354.10,377.20Z" fill="#c98aa0" fill-opacity="0.55" stroke="none"/>
<path d="M322.21,376.44 L322.55,376.04 L322.90,375.48 L323.25,374.70 L323.59,373.65 L323.94,372.31 L324.29,370.63 L324.63,368.61 L324.98,366.25 L325.33,363.53 L325.67,360.40 L326.02,356.77 L326.37,352.59 L326.71,348.00 L327.06,343.55 L327.41,340.18 L327.75,338.84 L328.10,339.99 L328.45,343.30 L328.79,347.86 L329.14,352.63 L329.49,356.93 L329.83,360.52 L330.18,363.46 L330.53,365.87 L330.87,367.88 L331.22,369.53 L331.57,370.88 L331.91,371.95 L332.26,372.80 L332.61,373.45 L332.95,373.97 L333.30,374.37 L333.65,374.70 L333.99,374.97 L334.34,375.22 L334.69,375.43 L335.03,375.63 L335.38,375.82 L335.73,375.99 L336.07,376.15 L336.42,376.29 L336.77,376.43 L337.11,376.55 L337.46,376.65" fill="none" stroke="#e05a78" stroke-width="0.7" stroke-opacity="0.8"/>
<path d="M312.50,377.20L312.50,377.20 L312.85,377.20 L313.19,377.20 L313.54,377.20 L313.89,377.20 L314.23,377.20 L314.58,377.20 L314.93,377.20 L315.27,377.20 L315.62,377.20 L315.97,377.20 L316.31,377.20 L316.66,377.20 L317.01,377.19 L317.35,377.19 L317.70,377.18 L318.05,377.17 L318.39,377.15 L318.74,377.11 L319.09,377.07 L319.43,376.99 L319.78,376.89 L320.13,376.73 L320.47,376.52 L320.82,376.22 L321.17,375.82 L321.51,375.29 L321.86,374.61 L322.21,373.76 L322.55,372.71 L322.90,371.45 L323.25,369.97 L323.59,368.28 L323.94,366.40 L324.29,364.38 L324.63,362.26 L324.98,360.11 L325.33,358.03 L325.67,356.08 L326.02,354.37 L326.37,352.98 L326.71,351.98 L327.06,351.41 L327.41,351.31 L327.75,351.67 L328.10,352.46 L328.45,353.65 L328.79,355.15 L329.14,356.90 L329.49,358.80 L329.83,360.77 L330.18,362.73 L330.53,364.61 L330.87,366.38 L331.22,367.98 L331.57,369.40 L331.91,370.64 L332.26,371.70 L332.61,372.59 L332.95,373.33 L333.30,373.94 L333.65,374.44 L333.99,374.86 L334.34,375.20 L334.69,375.49 L335.03,375.73 L335.38,375.94 L335.73,376.12 L336.07,376.28 L336.42,376.42 L336.77,376.54 L337.11,376.65 L337.46,376.74 L337.81,376.82 L338.15,376.89 L338.50,376.95 L338.85,377.00 L339.19,377.04 L339.54,377.07 L339.89,377.10 L340.23,377.12 L340.58,377.14 L340.93,377.16 L341.27,377.17 L341.62,377.17 L341.97,377.18 L342.31,377.19 L342.66,377.19 L343.01,377.19 L343.35,377.20 L343.70,377.20 L344.05,377.20 L344.39,377.20 L344.74,377.20 L345.09,377.20 L345.43,377.20 L345.78,377.20 L346.13,377.20 L346.47,377.20 L346.82,377.20 L347.17,377.20 L347.51,377.20 L347.86,377.20 L348.21,377.20 L348.55,377.20 L348.90,377.20 L349.25,377.20 L349.59,377.20 L349.94,377.20 L350.29,377.20 L350.63,377.20 L350.98,377.20 L351.33,377.20 L351.67,377.20 L352.02,377.20 L352.37,377.20 L352.71,377.20 L353.06,377.20 L353.41,377.20 L353.75,377.20 L354.10,377.20 L354.10,377.20Z" fill="#8a8fc0" fill-opacity="0.5" stroke="none"/>
<path d="M320.47,376.52 L320.82,376.22 L321.17,375.82 L321.51,375.29 L321.86,374.61 L322.21,373.76 L322.55,372.71 L322.90,371.45 L323.25,369.97 L323.59,368.28 L323.94,366.40 L324.29,364.38 L324.63,362.26 L324.98,360.11 L325.33,358.03 L325.67,356.08 L326.02,354.37 L326.37,352.98 L326.71,351.98 L327.06,351.41 L327.41,351.31 L327.75,351.67 L328.10,352.46 L328.45,353.65 L328.79,355.15 L329.14,356.90 L329.49,358.80 L329.83,360.77 L330.18,362.73 L330.53,364.61 L330.87,366.38 L331.22,367.98 L331.57,369.40 L331.91,370.64 L332.26,371.70 L332.61,372.59 L332.95,373.33 L333.30,373.94 L333.65,374.44 L333.99,374.86 L334.34,375.20 L334.69,375.49 L335.03,375.73 L335.38,375.94 L335.73,376.12 L336.07,376.28 L336.42,376.42 L336.77,376.54 L337.11,376.65" fill="none" stroke="#5a7fb5" stroke-width="0.7" stroke-opacity="0.8"/>
<rect x="312.50" y="384.50" width="43.00" height="43.00" stroke="#404040" stroke-width="1.0" fill="none"/>
<line x1="310.50" y1="424.50" x2="312.50" y2="424.50" stroke="#444" stroke-width="0.55"/>
<line x1="311.40" y1="421.79" x2="312.50" y2="421.79" stroke="#444" stroke-width="0.55"/>
<line x1="311.40" y1="420.21" x2="312.50" y2="420.21" stroke="#444" stroke-width="0.55"/>
<line x1="311.40" y1="419.08" x2="312.50" y2="419.08" stroke="#444" stroke-width="0.55"/>
<line x1="311.40" y1="418.21" x2="312.50" y2="418.21" stroke="#444" stroke-width="0.55"/>
<line x1="311.40" y1="417.50" x2="312.50" y2="417.50" stroke="#444" stroke-width="0.55"/>
<line x1="311.40" y1="416.89" x2="312.50" y2="416.89" stroke="#444" stroke-width="0.55"/>
<line x1="311.40" y1="416.37" x2="312.50" y2="416.37" stroke="#444" stroke-width="0.55"/>
<line x1="311.40" y1="415.91" x2="312.50" y2="415.91" stroke="#444" stroke-width="0.55"/>
<line x1="310.50" y1="415.50" x2="312.50" y2="415.50" stroke="#444" stroke-width="0.55"/>
<line x1="311.40" y1="412.79" x2="312.50" y2="412.79" stroke="#444" stroke-width="0.55"/>
<line x1="311.40" y1="411.21" x2="312.50" y2="411.21" stroke="#444" stroke-width="0.55"/>
<line x1="311.40" y1="410.08" x2="312.50" y2="410.08" stroke="#444" stroke-width="0.55"/>
<line x1="311.40" y1="409.21" x2="312.50" y2="409.21" stroke="#444" stroke-width="0.55"/>
<line x1="311.40" y1="408.50" x2="312.50" y2="408.50" stroke="#444" stroke-width="0.55"/>
<line x1="311.40" y1="407.89" x2="312.50" y2="407.89" stroke="#444" stroke-width="0.55"/>
<line x1="311.40" y1="407.37" x2="312.50" y2="407.37" stroke="#444" stroke-width="0.55"/>
<line x1="311.40" y1="406.91" x2="312.50" y2="406.91" stroke="#444" stroke-width="0.55"/>
<line x1="310.50" y1="406.50" x2="312.50" y2="406.50" stroke="#444" stroke-width="0.55"/>
<line x1="311.40" y1="403.79" x2="312.50" y2="403.79" stroke="#444" stroke-width="0.55"/>
<line x1="311.40" y1="402.21" x2="312.50" y2="402.21" stroke="#444" stroke-width="0.55"/>
<line x1="311.40" y1="401.08" x2="312.50" y2="401.08" stroke="#444" stroke-width="0.55"/>
<line x1="311.40" y1="400.21" x2="312.50" y2="400.21" stroke="#444" stroke-width="0.55"/>
<line x1="311.40" y1="399.50" x2="312.50" y2="399.50" stroke="#444" stroke-width="0.55"/>
<line x1="311.40" y1="398.89" x2="312.50" y2="398.89" stroke="#444" stroke-width="0.55"/>
<line x1="311.40" y1="398.37" x2="312.50" y2="398.37" stroke="#444" stroke-width="0.55"/>
<line x1="311.40" y1="397.91" x2="312.50" y2="397.91" stroke="#444" stroke-width="0.55"/>
<line x1="310.50" y1="397.50" x2="312.50" y2="397.50" stroke="#444" stroke-width="0.55"/>
<line x1="311.40" y1="394.79" x2="312.50" y2="394.79" stroke="#444" stroke-width="0.55"/>
<line x1="311.40" y1="393.21" x2="312.50" y2="393.21" stroke="#444" stroke-width="0.55"/>
<line x1="311.40" y1="392.08" x2="312.50" y2="392.08" stroke="#444" stroke-width="0.55"/>
<line x1="311.40" y1="391.21" x2="312.50" y2="391.21" stroke="#444" stroke-width="0.55"/>
<line x1="311.40" y1="390.50" x2="312.50" y2="390.50" stroke="#444" stroke-width="0.55"/>
<line x1="311.40" y1="389.89" x2="312.50" y2="389.89" stroke="#444" stroke-width="0.55"/>
<line x1="311.40" y1="389.37" x2="312.50" y2="389.37" stroke="#444" stroke-width="0.55"/>
<line x1="311.40" y1="388.91" x2="312.50" y2="388.91" stroke="#444" stroke-width="0.55"/>
<line x1="310.50" y1="388.50" x2="312.50" y2="388.50" stroke="#444" stroke-width="0.55"/>
<line x1="315.50" y1="427.50" x2="315.50" y2="429.50" stroke="#444" stroke-width="0.55"/>
<line x1="318.21" y1="427.50" x2="318.21" y2="428.60" stroke="#444" stroke-width="0.55"/>
<line x1="319.79" y1="427.50" x2="319.79" y2="428.60" stroke="#444" stroke-width="0.55"/>
<line x1="320.92" y1="427.50" x2="320.92" y2="428.60" stroke="#444" stroke-width="0.55"/>
<line x1="321.79" y1="427.50" x2="321.79" y2="428.60" stroke="#444" stroke-width="0.55"/>
<line x1="322.50" y1="427.50" x2="322.50" y2="428.60" stroke="#444" stroke-width="0.55"/>
<line x1="323.11" y1="427.50" x2="323.11" y2="428.60" stroke="#444" stroke-width="0.55"/>
<line x1="323.63" y1="427.50" x2="323.63" y2="428.60" stroke="#444" stroke-width="0.55"/>
<line x1="324.09" y1="427.50" x2="324.09" y2="428.60" stroke="#444" stroke-width="0.55"/>
<line x1="324.50" y1="427.50" x2="324.50" y2="429.50" stroke="#444" stroke-width="0.55"/>
<line x1="327.21" y1="427.50" x2="327.21" y2="428.60" stroke="#444" stroke-width="0.55"/>
<line x1="328.79" y1="427.50" x2="328.79" y2="428.60" stroke="#444" stroke-width="0.55"/>
<line x1="329.92" y1="427.50" x2="329.92" y2="428.60" stroke="#444" stroke-width="0.55"/>
<line x1="330.79" y1="427.50" x2="330.79" y2="428.60" stroke="#444" stroke-width="0.55"/>
<line x1="331.50" y1="427.50" x2="331.50" y2="428.60" stroke="#444" stroke-width="0.55"/>
<line x1="332.11" y1="427.50" x2="332.11" y2="428.60" stroke="#444" stroke-width="0.55"/>
<line x1="332.63" y1="427.50" x2="332.63" y2="428.60" stroke="#444" stroke-width="0.55"/>
<line x1="333.09" y1="427.50" x2="333.09" y2="428.60" stroke="#444" stroke-width="0.55"/>
<line x1="333.50" y1="427.50" x2="333.50" y2="429.50" stroke="#444" stroke-width="0.55"/>
<line x1="336.21" y1="427.50" x2="336.21" y2="428.60" stroke="#444" stroke-width="0.55"/>
<line x1="337.79" y1="427.50" x2="337.79" y2="428.60" stroke="#444" stroke-width="0.55"/>
<line x1="338.92" y1="427.50" x2="338.92" y2="428.60" stroke="#444" stroke-width="0.55"/>
<line x1="339.79" y1="427.50" x2="339.79" y2="428.60" stroke="#444" stroke-width="0.55"/>
<line x1="340.50" y1="427.50" x2="340.50" y2="428.60" stroke="#444" stroke-width="0.55"/>
<line x1="341.11" y1="427.50" x2="341.11" y2="428.60" stroke="#444" stroke-width="0.55"/>
<line x1="341.63" y1="427.50" x2="341.63" y2="428.60" stroke="#444" stroke-width="0.55"/>
<line x1="342.09" y1="427.50" x2="342.09" y2="428.60" stroke="#444" stroke-width="0.55"/>
<line x1="342.50" y1="427.50" x2="342.50" y2="429.50" stroke="#444" stroke-width="0.55"/>
<line x1="345.21" y1="427.50" x2="345.21" y2="428.60" stroke="#444" stroke-width="0.55"/>
<line x1="346.79" y1="427.50" x2="346.79" y2="428.60" stroke="#444" stroke-width="0.55"/>
<line x1="347.92" y1="427.50" x2="347.92" y2="428.60" stroke="#444" stroke-width="0.55"/>
<line x1="348.79" y1="427.50" x2="348.79" y2="428.60" stroke="#444" stroke-width="0.55"/>
<line x1="349.50" y1="427.50" x2="349.50" y2="428.60" stroke="#444" stroke-width="0.55"/>
<line x1="350.11" y1="427.50" x2="350.11" y2="428.60" stroke="#444" stroke-width="0.55"/>
<line x1="350.63" y1="427.50" x2="350.63" y2="428.60" stroke="#444" stroke-width="0.55"/>
<line x1="351.09" y1="427.50" x2="351.09" y2="428.60" stroke="#444" stroke-width="0.55"/>
<line x1="351.50" y1="427.50" x2="351.50" y2="429.50" stroke="#444" stroke-width="0.55"/>
<path d="M312.50,426.60L312.50,426.60 L312.85,426.60 L313.19,426.60 L313.54,426.60 L313.89,426.60 L314.23,426.60 L314.58,426.60 L314.93,426.60 L315.27,426.60 L315.62,426.60 L315.97,426.60 L316.31,426.60 L316.66,426.60 L317.01,426.60 L317.35,426.60 L317.70,426.60 L318.05,426.60 L318.39,426.60 L318.74,426.60 L319.09,426.60 L319.43,426.60 L319.78,426.60 L320.13,426.60 L320.47,426.60 L320.82,426.60 L321.17,426.60 L321.51,426.60 L321.86,426.60 L322.21,426.60 L322.55,426.59 L322.90,426.59 L323.25,426.57 L323.59,426.55 L323.94,426.51 L324.29,426.43 L324.63,426.30 L324.98,426.08 L325.33,425.71 L325.67,425.12 L326.02,424.22 L326.37,422.88 L326.71,421.04 L327.06,418.66 L327.41,415.81 L327.75,412.66 L328.10,409.46 L328.45,406.50 L328.79,403.96 L329.14,401.87 L329.49,400.08 L329.83,398.26 L330.18,396.23 L330.53,394.23 L330.87,393.00 L331.22,393.42 L331.57,395.84 L331.91,399.74 L332.26,404.14 L332.61,408.18 L332.95,411.52 L333.30,414.18 L333.65,416.34 L333.99,418.13 L334.34,419.62 L334.69,420.86 L335.03,421.87 L335.38,422.70 L335.73,423.38 L336.07,423.93 L336.42,424.39 L336.77,424.78 L337.11,425.10 L337.46,425.38 L337.81,425.62 L338.15,425.83 L338.50,426.00 L338.85,426.14 L339.19,426.25 L339.54,426.34 L339.89,426.41 L340.23,426.47 L340.58,426.51 L340.93,426.54 L341.27,426.56 L341.62,426.57 L341.97,426.58 L342.31,426.59 L342.66,426.59 L343.01,426.60 L343.35,426.60 L343.70,426.60 L344.05,426.60 L344.39,426.60 L344.74,426.60 L345.09,426.60 L345.43,426.60 L345.78,426.60 L346.13,426.60 L346.47,426.60 L346.82,426.60 L347.17,426.60 L347.51,426.60 L347.86,426.60 L348.21,426.60 L348.55,426.60 L348.90,426.60 L349.25,426.60 L349.59,426.60 L349.94,426.60 L350.29,426.60 L350.63,426.60 L350.98,426.60 L351.33,426.60 L351.67,426.60 L352.02,426.60 L352.37,426.60 L352.71,426.60 L353.06,426.60 L353.41,426.60 L353.75,426.60 L354.10,426.60 L354.10,426.60Z" fill="#f7a860" fill-opacity="0.6" stroke="none"/>
<path d="M324.98,426.08 L325.33,425.71 L325.67,425.12 L326.02,424.22 L326.37,422.88 L326.71,421.04 L327.06,418.66 L327.41,415.81 L327.75,412.66 L328.10,409.46 L328.45,406.50 L328.79,403.96 L329.14,401.87 L329.49,400.08 L329.83,398.26 L330.18,396.23 L330.53,394.23 L330.87,393.00 L331.22,393.42 L331.57,395.84 L331.91,399.74 L332.26,404.14 L332.61,408.18 L332.95,411.52 L333.30,414.18 L333.65,416.34 L333.99,418.13 L334.34,419.62 L334.69,420.86 L335.03,421.87 L335.38,422.70 L335.73,423.38 L336.07,423.93 L336.42,424.39 L336.77,424.78 L337.11,425.10 L337.46,425.38 L337.81,425.62 L338.15,425.83 L338.50,426.00" fill="none" stroke="#f7941d" stroke-width="0.7" stroke-opacity="0.8"/>
<path d="M312.50,426.60L312.50,426.60 L312.85,426.60 L313.19,426.60 L313.54,426.60 L313.89,426.60 L314.23,426.60 L314.58,426.60 L314.93,426.60 L315.27,426.60 L315.62,426.60 L315.97,426.60 L316.31,426.60 L316.66,426.60 L317.01,426.60 L317.35,426.60 L317.70,426.60 L318.05,426.60 L318.39,426.60 L318.74,426.60 L319.09,426.60 L319.43,426.60 L319.78,426.60 L320.13,426.59 L320.47,426.59 L320.82,426.58 L321.17,426.55 L321.51,426.50 L321.86,426.41 L322.21,426.25 L322.55,425.98 L322.90,425.54 L323.25,424.87 L323.59,423.88 L323.94,422.50 L324.29,420.65 L324.63,418.31 L324.98,415.46 L325.33,412.08 L325.67,408.14 L326.02,403.65 L326.37,398.85 L326.71,394.46 L327.06,391.53 L327.41,391.00 L327.75,393.04 L328.10,396.89 L328.45,401.42 L328.79,405.74 L329.14,409.47 L329.49,412.58 L329.83,415.15 L330.18,417.24 L330.53,418.91 L330.87,420.22 L331.22,421.24 L331.57,422.02 L331.91,422.66 L332.26,423.18 L332.61,423.64 L332.95,424.05 L333.30,424.42 L333.65,424.77 L333.99,425.08 L334.34,425.37 L334.69,425.61 L335.03,425.83 L335.38,426.00 L335.73,426.15 L336.07,426.27 L336.42,426.36 L336.77,426.43 L337.11,426.48 L337.46,426.52 L337.81,426.54 L338.15,426.56 L338.50,426.58 L338.85,426.58 L339.19,426.59 L339.54,426.59 L339.89,426.60 L340.23,426.60 L340.58,426.60 L340.93,426.60 L341.27,426.60 L341.62,426.60 L341.97,426.60 L342.31,426.60 L342.66,426.60 L343.01,426.60 L343.35,426.60 L343.70,426.60 L344.05,426.60 L344.39,426.60 L344.74,426.60 L345.09,426.60 L345.43,426.60 L345.78,426.60 L346.13,426.60 L346.47,426.60 L346.82,426.60 L347.17,426.60 L347.51,426.60 L347.86,426.60 L348.21,426.60 L348.55,426.60 L348.90,426.60 L349.25,426.60 L349.59,426.60 L349.94,426.60 L350.29,426.60 L350.63,426.60 L350.98,426.60 L351.33,426.60 L351.67,426.60 L352.02,426.60 L352.37,426.60 L352.71,426.60 L353.06,426.60 L353.41,426.60 L353.75,426.60 L354.10,426.60 L354.10,426.60Z" fill="#e87878" fill-opacity="0.5" stroke="none"/>
<path d="M322.55,425.98 L322.90,425.54 L323.25,424.87 L323.59,423.88 L323.94,422.50 L324.29,420.65 L324.63,418.31 L324.98,415.46 L325.33,412.08 L325.67,408.14 L326.02,403.65 L326.37,398.85 L326.71,394.46 L327.06,391.53 L327.41,391.00 L327.75,393.04 L328.10,396.89 L328.45,401.42 L328.79,405.74 L329.14,409.47 L329.49,412.58 L329.83,415.15 L330.18,417.24 L330.53,418.91 L330.87,420.22 L331.22,421.24 L331.57,422.02 L331.91,422.66 L332.26,423.18 L332.61,423.64 L332.95,424.05 L333.30,424.42 L333.65,424.77 L333.99,425.08 L334.34,425.37 L334.69,425.61 L335.03,425.83 L335.38,426.00" fill="none" stroke="#e05a78" stroke-width="0.7" stroke-opacity="0.8"/>
<text x="358.00" y="340.00" font-size="7.6" fill="#2e5f95" stroke="#2e5f95" stroke-width="0.2" textLength="29" lengthAdjust="spacingAndGlyphs">Control<tspan fill="#231f20" stroke="#231f20" stroke-width="0.3">:</tspan></text>
<text x="358.00" y="348.20" font-size="7.6" fill="#c8102e" stroke="#c8102e" stroke-width="0.2" textLength="34" lengthAdjust="spacingAndGlyphs">CD45.1/2</text>
<text x="358.00" y="388.30" font-size="7.6" fill="#f7941d" stroke="#f7941d" stroke-width="0.2" textLength="26" lengthAdjust="spacingAndGlyphs">Myd88/</text>
<text x="358.00" y="397.00" font-size="7.6" fill="#f7941d" stroke="#f7941d" stroke-width="0.2" textLength="26" lengthAdjust="spacingAndGlyphs">Cd79b/</text>
<text x="358.00" y="405.80" font-size="7.6" fill="#f7941d" stroke="#f7941d" stroke-width="0.2" textLength="25" lengthAdjust="spacingAndGlyphs">Prdm1<tspan fill="#231f20" stroke="#231f20" stroke-width="0.3">:</tspan></text>
<text x="358.00" y="415.00" font-size="7.6" fill="#c8102e" stroke="#c8102e" stroke-width="0.2" textLength="34" lengthAdjust="spacingAndGlyphs">CD45.1/2</text>
<text x="306.00" y="383.00" font-size="7.6" fill="#231f20" stroke="#231f20" stroke-width="0.3" text-anchor="middle" textLength="76" lengthAdjust="spacingAndGlyphs" transform="rotate(-90 306.00 383.00)">Relative cell number</text>
<line x1="303.50" y1="438.50" x2="303.50" y2="428.19" stroke="#231f20" stroke-width="1.0"/>
<polygon points="303.50,425.00 301.47,428.48 305.53,428.48" fill="#231f20"/>
<line x1="303.00" y1="438.50" x2="313.31" y2="438.50" stroke="#231f20" stroke-width="1.0"/>
<polygon points="316.50,438.50 313.02,436.47 313.02,440.53" fill="#231f20"/>
<text x="319.50" y="441.30" font-size="7.6" fill="#231f20" stroke="#231f20" stroke-width="0.3" textLength="15.5" lengthAdjust="spacingAndGlyphs">IRF4</text>
<line x1="427.50" y1="331.10" x2="427.50" y2="395.20" stroke="#231f20" stroke-width="1.0"/>
<line x1="424.80" y1="395.50" x2="427.40" y2="395.50" stroke="#231f20" stroke-width="1.0"/>
<text x="421.60" y="398.01" font-size="7.8" fill="#231f20" stroke="#231f20" stroke-width="0.3" text-anchor="end">0</text>
<line x1="424.80" y1="383.50" x2="427.40" y2="383.50" stroke="#231f20" stroke-width="1.0"/>
<text x="421.60" y="386.03" font-size="7.8" fill="#231f20" stroke="#231f20" stroke-width="0.3" text-anchor="end">1</text>
<line x1="424.80" y1="371.50" x2="427.40" y2="371.50" stroke="#231f20" stroke-width="1.0"/>
<text x="421.60" y="374.05" font-size="7.8" fill="#231f20" stroke="#231f20" stroke-width="0.3" text-anchor="end">2</text>
<line x1="424.80" y1="359.50" x2="427.40" y2="359.50" stroke="#231f20" stroke-width="1.0"/>
<text x="421.60" y="362.07" font-size="7.8" fill="#231f20" stroke="#231f20" stroke-width="0.3" text-anchor="end">3</text>
<line x1="424.80" y1="347.50" x2="427.40" y2="347.50" stroke="#231f20" stroke-width="1.0"/>
<text x="421.60" y="350.09" font-size="7.8" fill="#231f20" stroke="#231f20" stroke-width="0.3" text-anchor="end">4</text>
<line x1="424.80" y1="335.50" x2="427.40" y2="335.50" stroke="#231f20" stroke-width="1.0"/>
<text x="421.60" y="338.11" font-size="7.8" fill="#231f20" stroke="#231f20" stroke-width="0.3" text-anchor="end">5</text>
<line x1="427.40" y1="395.50" x2="515.60" y2="395.50" stroke="#231f20" stroke-width="1.0"/>
<line x1="471.50" y1="335.00" x2="471.50" y2="395.20" stroke="#231f20" stroke-width="1.0"/>
<text x="410.50" y="364.40" font-size="8.4" fill="#231f20" stroke="#231f20" stroke-width="0.3" text-anchor="middle" textLength="55" lengthAdjust="spacingAndGlyphs" transform="rotate(-90 410.50 364.40)">IRF4 MFI (×10<tspan font-size="5.5" dy="-3.3">4</tspan><tspan dy="3.3">)</tspan></text>
<line x1="431.50" y1="395.20" x2="431.50" y2="397.80" stroke="#231f20" stroke-width="1.0"/>
<line x1="442.50" y1="395.20" x2="442.50" y2="397.80" stroke="#231f20" stroke-width="1.0"/>
<line x1="453.50" y1="395.20" x2="453.50" y2="397.80" stroke="#231f20" stroke-width="1.0"/>
<line x1="463.50" y1="395.20" x2="463.50" y2="397.80" stroke="#231f20" stroke-width="1.0"/>
<line x1="477.50" y1="395.20" x2="477.50" y2="397.80" stroke="#231f20" stroke-width="1.0"/>
<line x1="488.50" y1="395.20" x2="488.50" y2="397.80" stroke="#231f20" stroke-width="1.0"/>
<line x1="498.50" y1="395.20" x2="498.50" y2="397.80" stroke="#231f20" stroke-width="1.0"/>
<line x1="509.50" y1="395.20" x2="509.50" y2="397.80" stroke="#231f20" stroke-width="1.0"/>
<text x="432.90" y="406.50" font-size="7.6" fill="#231f20" stroke="#231f20" stroke-width="0.3" text-anchor="end" transform="rotate(-45 432.90 406.50)">CD45.1/2</text>
<text x="443.50" y="406.50" font-size="7.6" fill="#231f20" stroke="#231f20" stroke-width="0.3" text-anchor="end" transform="rotate(-45 443.50 406.50)">Control</text>
<text x="454.30" y="406.50" font-size="7.6" fill="#231f20" stroke="#231f20" stroke-width="0.3" text-anchor="end" transform="rotate(-45 454.30 406.50)">CD45.1/2</text>
<text x="464.90" y="406.50" font-size="7.6" fill="#f7941d" stroke="#f7941d" stroke-width="0.2" text-anchor="end" transform="rotate(-45 464.90 406.50)">Myd88/Cd79b/Prdm1</text>
<text x="478.60" y="406.50" font-size="7.6" fill="#231f20" stroke="#231f20" stroke-width="0.3" text-anchor="end" transform="rotate(-45 478.60 406.50)">CD45.1/2</text>
<text x="489.40" y="406.50" font-size="7.6" fill="#231f20" stroke="#231f20" stroke-width="0.3" text-anchor="end" transform="rotate(-45 489.40 406.50)">Control</text>
<text x="499.80" y="406.50" font-size="7.6" fill="#231f20" stroke="#231f20" stroke-width="0.3" text-anchor="end" transform="rotate(-45 499.80 406.50)">CD45.1/2</text>
<text x="510.70" y="406.50" font-size="7.6" fill="#f7941d" stroke="#f7941d" stroke-width="0.2" text-anchor="end" transform="rotate(-45 510.70 406.50)">Myd88/Cd79b/Prdm1</text>
<line x1="431.70" y1="350.04" x2="442.30" y2="358.78" stroke="#111" stroke-width="0.65"/>
<line x1="431.70" y1="358.78" x2="442.30" y2="365.61" stroke="#111" stroke-width="0.65"/>
<line x1="431.70" y1="367.05" x2="442.30" y2="367.41" stroke="#111" stroke-width="0.65"/>
<line x1="431.70" y1="368.84" x2="442.30" y2="367.41" stroke="#111" stroke-width="0.65"/>
<line x1="431.70" y1="370.28" x2="442.30" y2="372.44" stroke="#111" stroke-width="0.65"/>
<line x1="431.70" y1="373.40" x2="442.30" y2="372.44" stroke="#111" stroke-width="0.65"/>
<line x1="431.70" y1="379.75" x2="442.30" y2="383.10" stroke="#111" stroke-width="0.65"/>
<circle cx="431.70" cy="350.04" r="1.2" fill="#c8102e"/>
<circle cx="431.70" cy="358.78" r="1.2" fill="#c8102e"/>
<circle cx="431.70" cy="367.05" r="1.2" fill="#c8102e"/>
<circle cx="431.70" cy="368.84" r="1.2" fill="#c8102e"/>
<circle cx="431.70" cy="370.28" r="1.2" fill="#c8102e"/>
<circle cx="431.70" cy="373.40" r="1.2" fill="#c8102e"/>
<circle cx="431.70" cy="379.75" r="1.2" fill="#c8102e"/>
<circle cx="442.30" cy="358.78" r="1.2" fill="#0d4b8c"/>
<circle cx="442.30" cy="365.61" r="1.2" fill="#0d4b8c"/>
<circle cx="442.30" cy="367.41" r="1.2" fill="#0d4b8c"/>
<circle cx="442.30" cy="367.41" r="1.2" fill="#0d4b8c"/>
<circle cx="442.30" cy="372.44" r="1.2" fill="#0d4b8c"/>
<circle cx="442.30" cy="372.44" r="1.2" fill="#0d4b8c"/>
<circle cx="442.30" cy="383.10" r="1.2" fill="#0d4b8c"/>
<line x1="453.10" y1="354.47" x2="463.70" y2="349.08" stroke="#111" stroke-width="0.65"/>
<line x1="453.10" y1="356.26" x2="463.70" y2="355.67" stroke="#111" stroke-width="0.65"/>
<line x1="453.10" y1="359.26" x2="463.70" y2="358.06" stroke="#111" stroke-width="0.65"/>
<line x1="453.10" y1="361.66" x2="463.70" y2="356.86" stroke="#111" stroke-width="0.65"/>
<line x1="453.10" y1="364.05" x2="463.70" y2="361.66" stroke="#111" stroke-width="0.65"/>
<line x1="453.10" y1="365.25" x2="463.70" y2="365.25" stroke="#111" stroke-width="0.65"/>
<line x1="453.10" y1="367.65" x2="463.70" y2="360.46" stroke="#111" stroke-width="0.65"/>
<line x1="453.10" y1="368.84" x2="463.70" y2="366.45" stroke="#111" stroke-width="0.65"/>
<line x1="453.10" y1="371.24" x2="463.70" y2="364.05" stroke="#111" stroke-width="0.65"/>
<line x1="453.10" y1="372.44" x2="463.70" y2="367.65" stroke="#111" stroke-width="0.65"/>
<line x1="453.10" y1="374.83" x2="463.70" y2="365.85" stroke="#111" stroke-width="0.65"/>
<line x1="453.10" y1="377.23" x2="463.70" y2="371.24" stroke="#111" stroke-width="0.65"/>
<line x1="453.10" y1="379.03" x2="463.70" y2="369.44" stroke="#111" stroke-width="0.65"/>
<line x1="453.10" y1="380.82" x2="463.70" y2="367.65" stroke="#111" stroke-width="0.65"/>
<line x1="453.10" y1="360.46" x2="463.70" y2="359.26" stroke="#111" stroke-width="0.65"/>
<line x1="453.10" y1="370.04" x2="463.70" y2="364.05" stroke="#111" stroke-width="0.65"/>
<circle cx="453.10" cy="354.47" r="1.2" fill="#c8102e"/>
<circle cx="453.10" cy="356.26" r="1.2" fill="#c8102e"/>
<circle cx="453.10" cy="359.26" r="1.2" fill="#c8102e"/>
<circle cx="453.10" cy="361.66" r="1.2" fill="#c8102e"/>
<circle cx="453.10" cy="364.05" r="1.2" fill="#c8102e"/>
<circle cx="453.10" cy="365.25" r="1.2" fill="#c8102e"/>
<circle cx="453.10" cy="367.65" r="1.2" fill="#c8102e"/>
<circle cx="453.10" cy="368.84" r="1.2" fill="#c8102e"/>
<circle cx="453.10" cy="371.24" r="1.2" fill="#c8102e"/>
<circle cx="453.10" cy="372.44" r="1.2" fill="#c8102e"/>
<circle cx="453.10" cy="374.83" r="1.2" fill="#c8102e"/>
<circle cx="453.10" cy="377.23" r="1.2" fill="#c8102e"/>
<circle cx="453.10" cy="379.03" r="1.2" fill="#c8102e"/>
<circle cx="453.10" cy="380.82" r="1.2" fill="#c8102e"/>
<circle cx="453.10" cy="360.46" r="1.2" fill="#c8102e"/>
<circle cx="453.10" cy="370.04" r="1.2" fill="#c8102e"/>
<circle cx="463.70" cy="349.08" r="1.2" fill="#f7860f"/>
<circle cx="463.70" cy="355.67" r="1.2" fill="#f7860f"/>
<circle cx="463.70" cy="358.06" r="1.2" fill="#f7860f"/>
<circle cx="463.70" cy="356.86" r="1.2" fill="#f7860f"/>
<circle cx="463.70" cy="361.66" r="1.2" fill="#f7860f"/>
<circle cx="463.70" cy="365.25" r="1.2" fill="#f7860f"/>
<circle cx="463.70" cy="360.46" r="1.2" fill="#f7860f"/>
<circle cx="463.70" cy="366.45" r="1.2" fill="#f7860f"/>
<circle cx="463.70" cy="364.05" r="1.2" fill="#f7860f"/>
<circle cx="463.70" cy="367.65" r="1.2" fill="#f7860f"/>
<circle cx="463.70" cy="365.85" r="1.2" fill="#f7860f"/>
<circle cx="463.70" cy="371.24" r="1.2" fill="#f7860f"/>
<circle cx="463.70" cy="369.44" r="1.2" fill="#f7860f"/>
<circle cx="463.70" cy="367.65" r="1.2" fill="#f7860f"/>
<circle cx="463.70" cy="359.26" r="1.2" fill="#f7860f"/>
<circle cx="463.70" cy="364.05" r="1.2" fill="#f7860f"/>
<line x1="477.40" y1="365.61" x2="488.20" y2="365.25" stroke="#111" stroke-width="0.65"/>
<line x1="477.40" y1="367.65" x2="488.20" y2="370.64" stroke="#111" stroke-width="0.65"/>
<line x1="477.40" y1="371.84" x2="488.20" y2="371.24" stroke="#111" stroke-width="0.65"/>
<line x1="477.40" y1="373.64" x2="488.20" y2="374.24" stroke="#111" stroke-width="0.65"/>
<line x1="477.40" y1="374.83" x2="488.20" y2="376.63" stroke="#111" stroke-width="0.65"/>
<line x1="477.40" y1="376.03" x2="488.20" y2="379.63" stroke="#111" stroke-width="0.65"/>
<line x1="477.40" y1="383.22" x2="488.20" y2="384.42" stroke="#111" stroke-width="0.65"/>
<line x1="477.40" y1="373.04" x2="488.20" y2="377.83" stroke="#111" stroke-width="0.65"/>
<circle cx="477.40" cy="365.61" r="1.2" fill="#c8102e"/>
<circle cx="477.40" cy="367.65" r="1.2" fill="#c8102e"/>
<circle cx="477.40" cy="371.84" r="1.2" fill="#c8102e"/>
<circle cx="477.40" cy="373.64" r="1.2" fill="#c8102e"/>
<circle cx="477.40" cy="374.83" r="1.2" fill="#c8102e"/>
<circle cx="477.40" cy="376.03" r="1.2" fill="#c8102e"/>
<circle cx="477.40" cy="383.22" r="1.2" fill="#c8102e"/>
<circle cx="477.40" cy="373.04" r="1.2" fill="#c8102e"/>
<circle cx="488.20" cy="365.25" r="1.2" fill="#0d4b8c"/>
<circle cx="488.20" cy="370.64" r="1.2" fill="#0d4b8c"/>
<circle cx="488.20" cy="371.24" r="1.2" fill="#0d4b8c"/>
<circle cx="488.20" cy="374.24" r="1.2" fill="#0d4b8c"/>
<circle cx="488.20" cy="376.63" r="1.2" fill="#0d4b8c"/>
<circle cx="488.20" cy="379.63" r="1.2" fill="#0d4b8c"/>
<circle cx="488.20" cy="384.42" r="1.2" fill="#0d4b8c"/>
<circle cx="488.20" cy="377.83" r="1.2" fill="#0d4b8c"/>
<line x1="498.60" y1="358.66" x2="509.50" y2="367.65" stroke="#111" stroke-width="0.65"/>
<line x1="498.60" y1="361.66" x2="509.50" y2="368.84" stroke="#111" stroke-width="0.65"/>
<line x1="498.60" y1="364.05" x2="509.50" y2="372.44" stroke="#111" stroke-width="0.65"/>
<line x1="498.60" y1="365.25" x2="509.50" y2="367.05" stroke="#111" stroke-width="0.65"/>
<line x1="498.60" y1="367.65" x2="509.50" y2="374.24" stroke="#111" stroke-width="0.65"/>
<line x1="498.60" y1="370.04" x2="509.50" y2="376.03" stroke="#111" stroke-width="0.65"/>
<line x1="498.60" y1="371.24" x2="509.50" y2="371.24" stroke="#111" stroke-width="0.65"/>
<line x1="498.60" y1="373.64" x2="509.50" y2="377.23" stroke="#111" stroke-width="0.65"/>
<line x1="498.60" y1="376.03" x2="509.50" y2="374.83" stroke="#111" stroke-width="0.65"/>
<line x1="498.60" y1="377.23" x2="509.50" y2="379.03" stroke="#111" stroke-width="0.65"/>
<line x1="498.60" y1="378.43" x2="509.50" y2="372.44" stroke="#111" stroke-width="0.65"/>
<line x1="498.60" y1="379.63" x2="509.50" y2="380.22" stroke="#111" stroke-width="0.65"/>
<line x1="498.60" y1="380.82" x2="509.50" y2="377.83" stroke="#111" stroke-width="0.65"/>
<line x1="498.60" y1="382.02" x2="509.50" y2="383.22" stroke="#111" stroke-width="0.65"/>
<line x1="498.60" y1="383.22" x2="509.50" y2="377.23" stroke="#111" stroke-width="0.65"/>
<line x1="498.60" y1="365.85" x2="509.50" y2="370.04" stroke="#111" stroke-width="0.65"/>
<circle cx="498.60" cy="358.66" r="1.2" fill="#c8102e"/>
<circle cx="498.60" cy="361.66" r="1.2" fill="#c8102e"/>
<circle cx="498.60" cy="364.05" r="1.2" fill="#c8102e"/>
<circle cx="498.60" cy="365.25" r="1.2" fill="#c8102e"/>
<circle cx="498.60" cy="367.65" r="1.2" fill="#c8102e"/>
<circle cx="498.60" cy="370.04" r="1.2" fill="#c8102e"/>
<circle cx="498.60" cy="371.24" r="1.2" fill="#c8102e"/>
<circle cx="498.60" cy="373.64" r="1.2" fill="#c8102e"/>
<circle cx="498.60" cy="376.03" r="1.2" fill="#c8102e"/>
<circle cx="498.60" cy="377.23" r="1.2" fill="#c8102e"/>
<circle cx="498.60" cy="378.43" r="1.2" fill="#c8102e"/>
<circle cx="498.60" cy="379.63" r="1.2" fill="#c8102e"/>
<circle cx="498.60" cy="380.82" r="1.2" fill="#c8102e"/>
<circle cx="498.60" cy="382.02" r="1.2" fill="#c8102e"/>
<circle cx="498.60" cy="383.22" r="1.2" fill="#c8102e"/>
<circle cx="498.60" cy="365.85" r="1.2" fill="#c8102e"/>
<circle cx="509.50" cy="367.65" r="1.2" fill="#f7860f"/>
<circle cx="509.50" cy="368.84" r="1.2" fill="#f7860f"/>
<circle cx="509.50" cy="372.44" r="1.2" fill="#f7860f"/>
<circle cx="509.50" cy="367.05" r="1.2" fill="#f7860f"/>
<circle cx="509.50" cy="374.24" r="1.2" fill="#f7860f"/>
<circle cx="509.50" cy="376.03" r="1.2" fill="#f7860f"/>
<circle cx="509.50" cy="371.24" r="1.2" fill="#f7860f"/>
<circle cx="509.50" cy="377.23" r="1.2" fill="#f7860f"/>
<circle cx="509.50" cy="374.83" r="1.2" fill="#f7860f"/>
<circle cx="509.50" cy="379.03" r="1.2" fill="#f7860f"/>
<circle cx="509.50" cy="372.44" r="1.2" fill="#f7860f"/>
<circle cx="509.50" cy="380.22" r="1.2" fill="#f7860f"/>
<circle cx="509.50" cy="377.83" r="1.2" fill="#f7860f"/>
<circle cx="509.50" cy="383.22" r="1.2" fill="#f7860f"/>
<circle cx="509.50" cy="377.23" r="1.2" fill="#f7860f"/>
<circle cx="509.50" cy="370.04" r="1.2" fill="#f7860f"/>
<line x1="462.50" y1="332.50" x2="508.80" y2="332.50" stroke="#333" stroke-width="0.9"/>
<polygon points="480.40,327.25 480.93,328.17 481.97,328.39 481.26,329.18 481.37,330.23 480.40,329.81 479.43,330.23 479.54,329.18 478.83,328.39 479.87,328.17" fill="#222" stroke="#222" stroke-width="0.35" stroke-linejoin="round"/>
<polygon points="483.90,327.25 484.43,328.17 485.47,328.39 484.76,329.18 484.87,330.23 483.90,329.81 482.93,330.23 483.04,329.18 482.33,328.39 483.37,328.17" fill="#222" stroke="#222" stroke-width="0.35" stroke-linejoin="round"/>
<polygon points="487.40,327.25 487.93,328.17 488.97,328.39 488.26,329.18 488.37,330.23 487.40,329.81 486.43,330.23 486.54,329.18 485.83,328.39 486.87,328.17" fill="#222" stroke="#222" stroke-width="0.35" stroke-linejoin="round"/>
<polygon points="490.90,327.25 491.43,328.17 492.47,328.39 491.76,329.18 491.87,330.23 490.90,329.81 489.93,330.23 490.04,329.18 489.33,328.39 490.37,328.17" fill="#222" stroke="#222" stroke-width="0.35" stroke-linejoin="round"/>
<polygon points="455.85,342.85 456.38,343.77 457.42,343.99 456.71,344.78 456.82,345.83 455.85,345.41 454.88,345.83 454.99,344.78 454.28,343.99 455.32,343.77" fill="#222" stroke="#222" stroke-width="0.35" stroke-linejoin="round"/>
<polygon points="459.35,342.85 459.88,343.77 460.92,343.99 460.21,344.78 460.32,345.83 459.35,345.41 458.38,345.83 458.49,344.78 457.78,343.99 458.82,343.77" fill="#222" stroke="#222" stroke-width="0.35" stroke-linejoin="round"/>
<line x1="405.00" y1="460.80" x2="441.50" y2="460.80" stroke="#555" stroke-width="1.3"/>
<line x1="448.50" y1="460.80" x2="484.70" y2="460.80" stroke="#555" stroke-width="1.3"/>
<text x="423.50" y="470.20" font-size="8.7" fill="#231f20" stroke="#231f20" stroke-width="0.3" text-anchor="middle" textLength="34.6" lengthAdjust="spacingAndGlyphs">IgM<tspan font-size="5.8" dy="-3.4">+</tspan><tspan dy="3.4"> GCB</tspan></text>
<text x="466.60" y="470.20" font-size="8.7" fill="#231f20" stroke="#231f20" stroke-width="0.3" text-anchor="middle" textLength="34.6" lengthAdjust="spacingAndGlyphs">IgM<tspan font-size="5.8" dy="-3.4">−</tspan><tspan dy="3.4"> GCB</tspan></text>
<text x="11.40" y="504.30" font-size="10.8" fill="#231f20" stroke="#231f20" stroke-width="0.5" font-weight="bold">G</text>
<line x1="44.50" y1="524.70" x2="44.50" y2="586.90" stroke="#231f20" stroke-width="1.0"/>
<line x1="41.60" y1="586.50" x2="44.20" y2="586.50" stroke="#231f20" stroke-width="1.0"/>
<text x="39.40" y="589.56" font-size="7.4" fill="#231f20" stroke="#231f20" stroke-width="0.3" text-anchor="end">0</text>
<line x1="41.60" y1="574.50" x2="44.20" y2="574.50" stroke="#231f20" stroke-width="1.0"/>
<text x="39.40" y="577.54" font-size="7.4" fill="#231f20" stroke="#231f20" stroke-width="0.3" text-anchor="end">20</text>
<line x1="41.60" y1="562.50" x2="44.20" y2="562.50" stroke="#231f20" stroke-width="1.0"/>
<text x="39.40" y="565.52" font-size="7.4" fill="#231f20" stroke="#231f20" stroke-width="0.3" text-anchor="end">40</text>
<line x1="41.60" y1="550.50" x2="44.20" y2="550.50" stroke="#231f20" stroke-width="1.0"/>
<text x="39.40" y="553.50" font-size="7.4" fill="#231f20" stroke="#231f20" stroke-width="0.3" text-anchor="end">60</text>
<line x1="41.60" y1="538.50" x2="44.20" y2="538.50" stroke="#231f20" stroke-width="1.0"/>
<text x="39.40" y="541.48" font-size="7.4" fill="#231f20" stroke="#231f20" stroke-width="0.3" text-anchor="end">80</text>
<line x1="41.60" y1="526.50" x2="44.20" y2="526.50" stroke="#231f20" stroke-width="1.0"/>
<text x="39.40" y="529.46" font-size="7.4" fill="#231f20" stroke="#231f20" stroke-width="0.3" text-anchor="end">100</text>
<line x1="44.20" y1="586.50" x2="87.50" y2="586.50" stroke="#231f20" stroke-width="1.0"/>
<line x1="66.50" y1="527.00" x2="66.50" y2="586.90" stroke="#231f20" stroke-width="1.0"/>
<line x1="53.50" y1="586.90" x2="53.50" y2="589.50" stroke="#231f20" stroke-width="1.0"/>
<line x1="78.50" y1="586.90" x2="78.50" y2="589.50" stroke="#231f20" stroke-width="1.0"/>
<text x="20.00" y="556.00" font-size="8.6" fill="#231f20" stroke="#231f20" stroke-width="0.3" text-anchor="middle" textLength="34" lengthAdjust="spacingAndGlyphs" transform="rotate(-90 20.00 556.00)">% CD45.2</text>
<text x="53.40" y="598.80" font-size="8.4" fill="#231f20" stroke="#231f20" stroke-width="0.3" text-anchor="middle" textLength="17.5" lengthAdjust="spacingAndGlyphs">IgM<tspan font-size="5.5" dy="-3.3">+</tspan></text>
<text x="53.40" y="608.80" font-size="8.4" fill="#231f20" stroke="#231f20" stroke-width="0.3" text-anchor="middle" textLength="16.5" lengthAdjust="spacingAndGlyphs">GCB</text>
<text x="78.80" y="598.80" font-size="8.4" fill="#231f20" stroke="#231f20" stroke-width="0.3" text-anchor="middle" textLength="17.5" lengthAdjust="spacingAndGlyphs">IgM<tspan font-size="5.5" dy="-3.3">−</tspan></text>
<text x="78.80" y="608.80" font-size="8.4" fill="#231f20" stroke="#231f20" stroke-width="0.3" text-anchor="middle" textLength="16.5" lengthAdjust="spacingAndGlyphs">GCB</text>
<circle cx="50.00" cy="574.64" r="1.25" fill="#0d4b8c"/>
<circle cx="49.50" cy="578.19" r="1.25" fill="#0d4b8c"/>
<circle cx="51.50" cy="578.79" r="1.25" fill="#0d4b8c"/>
<circle cx="48.50" cy="579.39" r="1.25" fill="#0d4b8c"/>
<circle cx="50.50" cy="579.81" r="1.25" fill="#0d4b8c"/>
<circle cx="52.50" cy="580.29" r="1.25" fill="#0d4b8c"/>
<circle cx="48.00" cy="580.89" r="1.25" fill="#0d4b8c"/>
<circle cx="50.00" cy="581.19" r="1.25" fill="#0d4b8c"/>
<circle cx="51.80" cy="581.79" r="1.25" fill="#0d4b8c"/>
<circle cx="49.00" cy="582.69" r="1.25" fill="#0d4b8c"/>
<circle cx="51.00" cy="583.29" r="1.25" fill="#0d4b8c"/>
<circle cx="47.80" cy="583.17" r="1.25" fill="#0d4b8c"/>
<circle cx="52.80" cy="583.59" r="1.25" fill="#0d4b8c"/>
<line x1="47.00" y1="580.50" x2="53.00" y2="580.50" stroke="#0d4b8c" stroke-width="0.9"/>
<circle cx="58.60" cy="536.42" r="1.3" fill="#f7860f"/>
<circle cx="58.80" cy="537.62" r="1.3" fill="#f7860f"/>
<circle cx="59.00" cy="541.82" r="1.3" fill="#f7860f"/>
<circle cx="58.00" cy="543.03" r="1.3" fill="#f7860f"/>
<circle cx="60.00" cy="543.93" r="1.3" fill="#f7860f"/>
<circle cx="57.50" cy="545.43" r="1.3" fill="#f7860f"/>
<circle cx="59.50" cy="546.03" r="1.3" fill="#f7860f"/>
<circle cx="56.80" cy="548.44" r="1.3" fill="#f7860f"/>
<circle cx="60.30" cy="549.04" r="1.3" fill="#f7860f"/>
<circle cx="58.40" cy="549.64" r="1.3" fill="#f7860f"/>
<circle cx="59.30" cy="550.84" r="1.3" fill="#f7860f"/>
<circle cx="58.60" cy="551.74" r="1.3" fill="#f7860f"/>
<circle cx="58.80" cy="553.48" r="1.3" fill="#f7860f"/>
<circle cx="58.20" cy="562.44" r="1.3" fill="#f7860f"/>
<circle cx="59.60" cy="562.62" r="1.3" fill="#f7860f"/>
<circle cx="58.80" cy="568.09" r="1.3" fill="#f7860f"/>
<circle cx="57.60" cy="547.23" r="1.3" fill="#f7860f"/>
<line x1="55.20" y1="548.50" x2="62.20" y2="548.50" stroke="#444" stroke-width="0.9"/>
<circle cx="73.70" cy="568.63" r="1.25" fill="#0d4b8c"/>
<circle cx="74.00" cy="574.88" r="1.25" fill="#0d4b8c"/>
<circle cx="72.50" cy="575.48" r="1.25" fill="#0d4b8c"/>
<circle cx="75.20" cy="576.08" r="1.25" fill="#0d4b8c"/>
<circle cx="73.00" cy="576.68" r="1.25" fill="#0d4b8c"/>
<circle cx="74.50" cy="577.16" r="1.25" fill="#0d4b8c"/>
<circle cx="72.00" cy="577.70" r="1.25" fill="#0d4b8c"/>
<circle cx="75.50" cy="578.49" r="1.25" fill="#0d4b8c"/>
<circle cx="73.50" cy="579.09" r="1.25" fill="#0d4b8c"/>
<circle cx="72.20" cy="580.29" r="1.25" fill="#0d4b8c"/>
<circle cx="74.80" cy="580.89" r="1.25" fill="#0d4b8c"/>
<circle cx="73.20" cy="581.79" r="1.25" fill="#0d4b8c"/>
<circle cx="75.50" cy="581.49" r="1.25" fill="#0d4b8c"/>
<circle cx="72.50" cy="582.69" r="1.25" fill="#0d4b8c"/>
<line x1="70.70" y1="577.50" x2="76.70" y2="577.50" stroke="#0d4b8c" stroke-width="0.9"/>
<circle cx="82.70" cy="532.21" r="1.3" fill="#f7860f"/>
<circle cx="81.00" cy="539.42" r="1.3" fill="#f7860f"/>
<circle cx="84.20" cy="540.32" r="1.3" fill="#f7860f"/>
<circle cx="82.50" cy="541.40" r="1.3" fill="#f7860f"/>
<circle cx="81.20" cy="543.03" r="1.3" fill="#f7860f"/>
<circle cx="83.50" cy="544.83" r="1.3" fill="#f7860f"/>
<circle cx="82.50" cy="546.63" r="1.3" fill="#f7860f"/>
<circle cx="80.80" cy="546.93" r="1.3" fill="#f7860f"/>
<circle cx="84.00" cy="547.23" r="1.3" fill="#f7860f"/>
<circle cx="81.50" cy="551.86" r="1.3" fill="#f7860f"/>
<circle cx="84.00" cy="553.48" r="1.3" fill="#f7860f"/>
<circle cx="82.50" cy="555.05" r="1.3" fill="#f7860f"/>
<circle cx="82.60" cy="556.61" r="1.3" fill="#f7860f"/>
<circle cx="81.80" cy="559.67" r="1.3" fill="#f7860f"/>
<circle cx="83.30" cy="559.86" r="1.3" fill="#f7860f"/>
<circle cx="82.50" cy="568.09" r="1.3" fill="#f7860f"/>
<line x1="79.20" y1="547.50" x2="86.20" y2="547.50" stroke="#444" stroke-width="0.9"/>
<text x="94.50" y="531.30" font-size="8.0" fill="#231f20" stroke="#231f20" stroke-width="0.3" textLength="26.5" lengthAdjust="spacingAndGlyphs">CD45.2</text>
<circle cx="96.00" cy="538.60" r="1.5" fill="#0d4b8c"/>
<text x="99.50" y="541.30" font-size="8.0" fill="#231f20" stroke="#231f20" stroke-width="0.3" textLength="25.5" lengthAdjust="spacingAndGlyphs">Control</text>
<circle cx="96.00" cy="548.60" r="1.5" fill="#f7860f"/>
<text x="99.50" y="551.30" font-size="8.3" fill="#f7941d" stroke="#f7941d" stroke-width="0.2" textLength="26" lengthAdjust="spacingAndGlyphs">Myd88/</text>
<text x="99.50" y="560.50" font-size="8.3" fill="#f7941d" stroke="#f7941d" stroke-width="0.2" textLength="26" lengthAdjust="spacingAndGlyphs">Cd79b/</text>
<text x="99.50" y="569.30" font-size="8.3" fill="#f7941d" stroke="#f7941d" stroke-width="0.2" textLength="22" lengthAdjust="spacingAndGlyphs">Prdm1</text>
<text x="133.20" y="504.30" font-size="10.8" fill="#231f20" stroke="#231f20" stroke-width="0.5" font-weight="bold">H</text>
<text x="146.30" y="510.00" font-size="9.2" fill="#231f20" stroke="#231f20" stroke-width="0.3" textLength="210.7" lengthAdjust="spacingAndGlyphs">Spleen <tspan fill="#f7941d" stroke="#f7941d" stroke-width="0.2">Myd88/Cd79b/Prdm1</tspan> (CD45.2): CD45.1/2</text>
<text x="180.30" y="523.00" font-size="7.6" fill="#231f20" stroke="#231f20" stroke-width="0.3" text-anchor="middle" textLength="46.5" lengthAdjust="spacingAndGlyphs">Donor B cells</text>
<rect x="160.50" y="526.50" width="43.00" height="43.00" stroke="#404040" stroke-width="1.0" fill="none"/>
<line x1="158.50" y1="566.50" x2="160.50" y2="566.50" stroke="#444" stroke-width="0.55"/>
<line x1="159.40" y1="563.79" x2="160.50" y2="563.79" stroke="#444" stroke-width="0.55"/>
<line x1="159.40" y1="562.21" x2="160.50" y2="562.21" stroke="#444" stroke-width="0.55"/>
<line x1="159.40" y1="561.08" x2="160.50" y2="561.08" stroke="#444" stroke-width="0.55"/>
<line x1="159.40" y1="560.21" x2="160.50" y2="560.21" stroke="#444" stroke-width="0.55"/>
<line x1="159.40" y1="559.50" x2="160.50" y2="559.50" stroke="#444" stroke-width="0.55"/>
<line x1="159.40" y1="558.89" x2="160.50" y2="558.89" stroke="#444" stroke-width="0.55"/>
<line x1="159.40" y1="558.37" x2="160.50" y2="558.37" stroke="#444" stroke-width="0.55"/>
<line x1="159.40" y1="557.91" x2="160.50" y2="557.91" stroke="#444" stroke-width="0.55"/>
<line x1="158.50" y1="557.50" x2="160.50" y2="557.50" stroke="#444" stroke-width="0.55"/>
<line x1="159.40" y1="554.79" x2="160.50" y2="554.79" stroke="#444" stroke-width="0.55"/>
<line x1="159.40" y1="553.21" x2="160.50" y2="553.21" stroke="#444" stroke-width="0.55"/>
<line x1="159.40" y1="552.08" x2="160.50" y2="552.08" stroke="#444" stroke-width="0.55"/>
<line x1="159.40" y1="551.21" x2="160.50" y2="551.21" stroke="#444" stroke-width="0.55"/>
<line x1="159.40" y1="550.50" x2="160.50" y2="550.50" stroke="#444" stroke-width="0.55"/>
<line x1="159.40" y1="549.89" x2="160.50" y2="549.89" stroke="#444" stroke-width="0.55"/>
<line x1="159.40" y1="549.37" x2="160.50" y2="549.37" stroke="#444" stroke-width="0.55"/>
<line x1="159.40" y1="548.91" x2="160.50" y2="548.91" stroke="#444" stroke-width="0.55"/>
<line x1="158.50" y1="548.50" x2="160.50" y2="548.50" stroke="#444" stroke-width="0.55"/>
<line x1="159.40" y1="545.79" x2="160.50" y2="545.79" stroke="#444" stroke-width="0.55"/>
<line x1="159.40" y1="544.21" x2="160.50" y2="544.21" stroke="#444" stroke-width="0.55"/>
<line x1="159.40" y1="543.08" x2="160.50" y2="543.08" stroke="#444" stroke-width="0.55"/>
<line x1="159.40" y1="542.21" x2="160.50" y2="542.21" stroke="#444" stroke-width="0.55"/>
<line x1="159.40" y1="541.50" x2="160.50" y2="541.50" stroke="#444" stroke-width="0.55"/>
<line x1="159.40" y1="540.89" x2="160.50" y2="540.89" stroke="#444" stroke-width="0.55"/>
<line x1="159.40" y1="540.37" x2="160.50" y2="540.37" stroke="#444" stroke-width="0.55"/>
<line x1="159.40" y1="539.91" x2="160.50" y2="539.91" stroke="#444" stroke-width="0.55"/>
<line x1="158.50" y1="539.50" x2="160.50" y2="539.50" stroke="#444" stroke-width="0.55"/>
<line x1="159.40" y1="536.79" x2="160.50" y2="536.79" stroke="#444" stroke-width="0.55"/>
<line x1="159.40" y1="535.21" x2="160.50" y2="535.21" stroke="#444" stroke-width="0.55"/>
<line x1="159.40" y1="534.08" x2="160.50" y2="534.08" stroke="#444" stroke-width="0.55"/>
<line x1="159.40" y1="533.21" x2="160.50" y2="533.21" stroke="#444" stroke-width="0.55"/>
<line x1="159.40" y1="532.50" x2="160.50" y2="532.50" stroke="#444" stroke-width="0.55"/>
<line x1="159.40" y1="531.89" x2="160.50" y2="531.89" stroke="#444" stroke-width="0.55"/>
<line x1="159.40" y1="531.37" x2="160.50" y2="531.37" stroke="#444" stroke-width="0.55"/>
<line x1="159.40" y1="530.91" x2="160.50" y2="530.91" stroke="#444" stroke-width="0.55"/>
<line x1="158.50" y1="530.50" x2="160.50" y2="530.50" stroke="#444" stroke-width="0.55"/>
<line x1="163.50" y1="569.50" x2="163.50" y2="571.50" stroke="#444" stroke-width="0.55"/>
<line x1="166.21" y1="569.50" x2="166.21" y2="570.60" stroke="#444" stroke-width="0.55"/>
<line x1="167.79" y1="569.50" x2="167.79" y2="570.60" stroke="#444" stroke-width="0.55"/>
<line x1="168.92" y1="569.50" x2="168.92" y2="570.60" stroke="#444" stroke-width="0.55"/>
<line x1="169.79" y1="569.50" x2="169.79" y2="570.60" stroke="#444" stroke-width="0.55"/>
<line x1="170.50" y1="569.50" x2="170.50" y2="570.60" stroke="#444" stroke-width="0.55"/>
<line x1="171.11" y1="569.50" x2="171.11" y2="570.60" stroke="#444" stroke-width="0.55"/>
<line x1="171.63" y1="569.50" x2="171.63" y2="570.60" stroke="#444" stroke-width="0.55"/>
<line x1="172.09" y1="569.50" x2="172.09" y2="570.60" stroke="#444" stroke-width="0.55"/>
<line x1="172.50" y1="569.50" x2="172.50" y2="571.50" stroke="#444" stroke-width="0.55"/>
<line x1="175.21" y1="569.50" x2="175.21" y2="570.60" stroke="#444" stroke-width="0.55"/>
<line x1="176.79" y1="569.50" x2="176.79" y2="570.60" stroke="#444" stroke-width="0.55"/>
<line x1="177.92" y1="569.50" x2="177.92" y2="570.60" stroke="#444" stroke-width="0.55"/>
<line x1="178.79" y1="569.50" x2="178.79" y2="570.60" stroke="#444" stroke-width="0.55"/>
<line x1="179.50" y1="569.50" x2="179.50" y2="570.60" stroke="#444" stroke-width="0.55"/>
<line x1="180.11" y1="569.50" x2="180.11" y2="570.60" stroke="#444" stroke-width="0.55"/>
<line x1="180.63" y1="569.50" x2="180.63" y2="570.60" stroke="#444" stroke-width="0.55"/>
<line x1="181.09" y1="569.50" x2="181.09" y2="570.60" stroke="#444" stroke-width="0.55"/>
<line x1="181.50" y1="569.50" x2="181.50" y2="571.50" stroke="#444" stroke-width="0.55"/>
<line x1="184.21" y1="569.50" x2="184.21" y2="570.60" stroke="#444" stroke-width="0.55"/>
<line x1="185.79" y1="569.50" x2="185.79" y2="570.60" stroke="#444" stroke-width="0.55"/>
<line x1="186.92" y1="569.50" x2="186.92" y2="570.60" stroke="#444" stroke-width="0.55"/>
<line x1="187.79" y1="569.50" x2="187.79" y2="570.60" stroke="#444" stroke-width="0.55"/>
<line x1="188.50" y1="569.50" x2="188.50" y2="570.60" stroke="#444" stroke-width="0.55"/>
<line x1="189.11" y1="569.50" x2="189.11" y2="570.60" stroke="#444" stroke-width="0.55"/>
<line x1="189.63" y1="569.50" x2="189.63" y2="570.60" stroke="#444" stroke-width="0.55"/>
<line x1="190.09" y1="569.50" x2="190.09" y2="570.60" stroke="#444" stroke-width="0.55"/>
<line x1="190.50" y1="569.50" x2="190.50" y2="571.50" stroke="#444" stroke-width="0.55"/>
<line x1="193.21" y1="569.50" x2="193.21" y2="570.60" stroke="#444" stroke-width="0.55"/>
<line x1="194.79" y1="569.50" x2="194.79" y2="570.60" stroke="#444" stroke-width="0.55"/>
<line x1="195.92" y1="569.50" x2="195.92" y2="570.60" stroke="#444" stroke-width="0.55"/>
<line x1="196.79" y1="569.50" x2="196.79" y2="570.60" stroke="#444" stroke-width="0.55"/>
<line x1="197.50" y1="569.50" x2="197.50" y2="570.60" stroke="#444" stroke-width="0.55"/>
<line x1="198.11" y1="569.50" x2="198.11" y2="570.60" stroke="#444" stroke-width="0.55"/>
<line x1="198.63" y1="569.50" x2="198.63" y2="570.60" stroke="#444" stroke-width="0.55"/>
<line x1="199.09" y1="569.50" x2="199.09" y2="570.60" stroke="#444" stroke-width="0.55"/>
<line x1="199.50" y1="569.50" x2="199.50" y2="571.50" stroke="#444" stroke-width="0.55"/>
<ellipse cx="171.50" cy="545.50" rx="8.50" ry="2.60" fill="#999" fill-opacity="0.3" transform="rotate(-18 171.50 545.50)"/>
<ellipse cx="171.50" cy="545.50" rx="6.80" ry="2.08" fill="none" stroke="#aaa" stroke-width="0.5" transform="rotate(-18 171.50 545.50)"/>
<circle cx="173.64" cy="549.09" r="0.45" fill="#999" opacity="0.35"/>
<circle cx="173.67" cy="548.06" r="0.45" fill="#999" opacity="0.35"/>
<circle cx="170.12" cy="543.38" r="0.45" fill="#999" opacity="0.35"/>
<circle cx="162.60" cy="548.95" r="0.45" fill="#999" opacity="0.35"/>
<circle cx="161.42" cy="549.82" r="0.45" fill="#999" opacity="0.35"/>
<circle cx="168.10" cy="546.95" r="0.45" fill="#999" opacity="0.35"/>
<circle cx="165.32" cy="546.61" r="0.45" fill="#999" opacity="0.35"/>
<circle cx="166.95" cy="547.53" r="0.45" fill="#999" opacity="0.35"/>
<circle cx="169.02" cy="546.17" r="0.45" fill="#999" opacity="0.35"/>
<circle cx="168.98" cy="550.11" r="0.45" fill="#999" opacity="0.35"/>
<circle cx="169.70" cy="549.88" r="0.45" fill="#999" opacity="0.35"/>
<circle cx="170.13" cy="543.56" r="0.45" fill="#999" opacity="0.35"/>
<circle cx="175.78" cy="548.75" r="0.45" fill="#999" opacity="0.35"/>
<circle cx="175.70" cy="550.03" r="0.45" fill="#999" opacity="0.35"/>
<circle cx="165.32" cy="550.05" r="0.45" fill="#999" opacity="0.35"/>
<circle cx="170.57" cy="542.80" r="0.45" fill="#999" opacity="0.35"/>
<circle cx="168.46" cy="545.72" r="0.45" fill="#999" opacity="0.35"/>
<circle cx="174.94" cy="550.22" r="0.45" fill="#999" opacity="0.35"/>
<circle cx="160.71" cy="546.63" r="0.45" fill="#999" opacity="0.35"/>
<circle cx="172.14" cy="546.69" r="0.45" fill="#999" opacity="0.35"/>
<circle cx="163.99" cy="550.50" r="0.45" fill="#999" opacity="0.35"/>
<circle cx="159.78" cy="551.81" r="0.45" fill="#999" opacity="0.35"/>
<circle cx="174.63" cy="548.26" r="0.45" fill="#999" opacity="0.35"/>
<circle cx="176.04" cy="541.91" r="0.45" fill="#999" opacity="0.35"/>
<circle cx="166.58" cy="547.92" r="0.45" fill="#999" opacity="0.35"/>
<circle cx="166.69" cy="546.57" r="0.45" fill="#999" opacity="0.35"/>
<circle cx="168.64" cy="545.41" r="0.45" fill="#999" opacity="0.35"/>
<circle cx="172.14" cy="551.73" r="0.45" fill="#999" opacity="0.35"/>
<circle cx="170.70" cy="544.55" r="0.45" fill="#999" opacity="0.35"/>
<circle cx="165.12" cy="545.85" r="0.45" fill="#999" opacity="0.35"/>
<circle cx="169.51" cy="547.95" r="0.45" fill="#999" opacity="0.35"/>
<circle cx="163.63" cy="552.38" r="0.45" fill="#999" opacity="0.35"/>
<circle cx="162.15" cy="547.62" r="0.45" fill="#999" opacity="0.35"/>
<circle cx="171.19" cy="547.77" r="0.45" fill="#999" opacity="0.35"/>
<circle cx="169.28" cy="544.56" r="0.45" fill="#999" opacity="0.35"/>
<circle cx="173.16" cy="548.03" r="0.45" fill="#999" opacity="0.35"/>
<circle cx="165.00" cy="548.14" r="0.45" fill="#999" opacity="0.35"/>
<circle cx="172.90" cy="545.96" r="0.45" fill="#999" opacity="0.35"/>
<circle cx="171.08" cy="545.00" r="0.45" fill="#999" opacity="0.35"/>
<circle cx="181.58" cy="545.12" r="0.45" fill="#999" opacity="0.35"/>
<circle cx="174.37" cy="552.71" r="0.45" fill="#999" opacity="0.35"/>
<circle cx="173.09" cy="549.77" r="0.45" fill="#999" opacity="0.35"/>
<circle cx="173.61" cy="545.89" r="0.45" fill="#999" opacity="0.35"/>
<circle cx="170.44" cy="548.04" r="0.45" fill="#999" opacity="0.35"/>
<circle cx="178.88" cy="547.52" r="0.45" fill="#999" opacity="0.35"/>
<circle cx="174.00" cy="547.39" r="0.45" fill="#999" opacity="0.35"/>
<circle cx="167.67" cy="552.29" r="0.45" fill="#999" opacity="0.35"/>
<circle cx="175.80" cy="549.23" r="0.45" fill="#999" opacity="0.35"/>
<circle cx="171.64" cy="549.59" r="0.45" fill="#999" opacity="0.35"/>
<circle cx="170.14" cy="545.79" r="0.45" fill="#999" opacity="0.35"/>
<circle cx="176.68" cy="547.69" r="0.45" fill="#999" opacity="0.35"/>
<circle cx="164.78" cy="545.47" r="0.45" fill="#999" opacity="0.35"/>
<circle cx="170.76" cy="555.53" r="0.45" fill="#999" opacity="0.35"/>
<circle cx="179.51" cy="549.63" r="0.45" fill="#999" opacity="0.35"/>
<circle cx="164.02" cy="547.16" r="0.45" fill="#999" opacity="0.35"/>
<circle cx="165.71" cy="547.19" r="0.45" fill="#999" opacity="0.35"/>
<circle cx="172.11" cy="550.42" r="0.45" fill="#999" opacity="0.35"/>
<circle cx="167.53" cy="546.00" r="0.45" fill="#999" opacity="0.35"/>
<circle cx="171.96" cy="543.58" r="0.45" fill="#999" opacity="0.35"/>
<circle cx="171.95" cy="548.25" r="0.45" fill="#999" opacity="0.35"/>
<ellipse cx="181.10" cy="544.90" rx="3.60" ry="2.80" fill="#666" fill-opacity="0.5" transform="rotate(0 181.10 544.90)"/>
<ellipse cx="181.10" cy="544.90" rx="3.00" ry="2.20" fill="#1a1a1a" transform="rotate(0 181.10 544.90)"/>
<ellipse cx="181.10" cy="544.90" rx="1.05" ry="0.77" fill="#777" transform="rotate(0 181.10 544.90)"/>
<rect x="160.20" y="548.30" width="15.20" height="20.70" stroke="#231f20" stroke-width="0.9" fill="none"/>
<text x="181.40" y="537.90" font-size="7.4" fill="#231f20" stroke="#231f20" stroke-width="0.3" text-anchor="middle">62</text>
<text x="168.50" y="564.80" font-size="7.4" fill="#231f20" stroke="#231f20" stroke-width="0.3" text-anchor="middle">3</text>
<line x1="183.50" y1="544.50" x2="211.92" y2="544.50" stroke="#231f20" stroke-width="1.0"/>
<polygon points="215.00,544.60 211.64,542.64 211.64,546.56" fill="#231f20"/>
<text x="155.00" y="550.30" font-size="7.4" fill="#231f20" stroke="#231f20" stroke-width="0.3" text-anchor="middle" textLength="15.5" lengthAdjust="spacingAndGlyphs" transform="rotate(-90 155.00 550.30)">CD38</text>
<line x1="152.50" y1="577.50" x2="152.50" y2="565.19" stroke="#231f20" stroke-width="1.0"/>
<polygon points="152.50,562.00 150.47,565.48 154.53,565.48" fill="#231f20"/>
<line x1="152.00" y1="577.50" x2="165.31" y2="577.50" stroke="#231f20" stroke-width="1.0"/>
<polygon points="168.50,577.50 165.02,575.47 165.02,579.53" fill="#231f20"/>
<text x="170.30" y="579.30" font-size="7.4" fill="#231f20" stroke="#231f20" stroke-width="0.3" textLength="11" lengthAdjust="spacingAndGlyphs">IgD</text>
<line x1="162.50" y1="569.50" x2="162.50" y2="588.92" stroke="#231f20" stroke-width="1.0"/>
<polygon points="162.70,592.00 164.66,588.64 160.74,588.64" fill="#231f20"/>
<text x="252.40" y="523.10" font-size="7.6" fill="#231f20" stroke="#231f20" stroke-width="0.3" text-anchor="middle" textLength="14.5" lengthAdjust="spacingAndGlyphs">FoB</text>
<rect x="230.50" y="526.50" width="43.00" height="44.00" stroke="#404040" stroke-width="1.0" fill="none"/>
<line x1="228.50" y1="567.50" x2="230.50" y2="567.50" stroke="#444" stroke-width="0.55"/>
<line x1="229.40" y1="564.79" x2="230.50" y2="564.79" stroke="#444" stroke-width="0.55"/>
<line x1="229.40" y1="563.21" x2="230.50" y2="563.21" stroke="#444" stroke-width="0.55"/>
<line x1="229.40" y1="562.08" x2="230.50" y2="562.08" stroke="#444" stroke-width="0.55"/>
<line x1="229.40" y1="561.21" x2="230.50" y2="561.21" stroke="#444" stroke-width="0.55"/>
<line x1="229.40" y1="560.50" x2="230.50" y2="560.50" stroke="#444" stroke-width="0.55"/>
<line x1="229.40" y1="559.89" x2="230.50" y2="559.89" stroke="#444" stroke-width="0.55"/>
<line x1="229.40" y1="559.37" x2="230.50" y2="559.37" stroke="#444" stroke-width="0.55"/>
<line x1="229.40" y1="558.91" x2="230.50" y2="558.91" stroke="#444" stroke-width="0.55"/>
<line x1="228.50" y1="558.50" x2="230.50" y2="558.50" stroke="#444" stroke-width="0.55"/>
<line x1="229.40" y1="555.79" x2="230.50" y2="555.79" stroke="#444" stroke-width="0.55"/>
<line x1="229.40" y1="554.21" x2="230.50" y2="554.21" stroke="#444" stroke-width="0.55"/>
<line x1="229.40" y1="553.08" x2="230.50" y2="553.08" stroke="#444" stroke-width="0.55"/>
<line x1="229.40" y1="552.21" x2="230.50" y2="552.21" stroke="#444" stroke-width="0.55"/>
<line x1="229.40" y1="551.50" x2="230.50" y2="551.50" stroke="#444" stroke-width="0.55"/>
<line x1="229.40" y1="550.89" x2="230.50" y2="550.89" stroke="#444" stroke-width="0.55"/>
<line x1="229.40" y1="550.37" x2="230.50" y2="550.37" stroke="#444" stroke-width="0.55"/>
<line x1="229.40" y1="549.91" x2="230.50" y2="549.91" stroke="#444" stroke-width="0.55"/>
<line x1="228.50" y1="549.50" x2="230.50" y2="549.50" stroke="#444" stroke-width="0.55"/>
<line x1="229.40" y1="546.79" x2="230.50" y2="546.79" stroke="#444" stroke-width="0.55"/>
<line x1="229.40" y1="545.21" x2="230.50" y2="545.21" stroke="#444" stroke-width="0.55"/>
<line x1="229.40" y1="544.08" x2="230.50" y2="544.08" stroke="#444" stroke-width="0.55"/>
<line x1="229.40" y1="543.21" x2="230.50" y2="543.21" stroke="#444" stroke-width="0.55"/>
<line x1="229.40" y1="542.50" x2="230.50" y2="542.50" stroke="#444" stroke-width="0.55"/>
<line x1="229.40" y1="541.89" x2="230.50" y2="541.89" stroke="#444" stroke-width="0.55"/>
<line x1="229.40" y1="541.37" x2="230.50" y2="541.37" stroke="#444" stroke-width="0.55"/>
<line x1="229.40" y1="540.91" x2="230.50" y2="540.91" stroke="#444" stroke-width="0.55"/>
<line x1="228.50" y1="540.50" x2="230.50" y2="540.50" stroke="#444" stroke-width="0.55"/>
<line x1="229.40" y1="537.79" x2="230.50" y2="537.79" stroke="#444" stroke-width="0.55"/>
<line x1="229.40" y1="536.21" x2="230.50" y2="536.21" stroke="#444" stroke-width="0.55"/>
<line x1="229.40" y1="535.08" x2="230.50" y2="535.08" stroke="#444" stroke-width="0.55"/>
<line x1="229.40" y1="534.21" x2="230.50" y2="534.21" stroke="#444" stroke-width="0.55"/>
<line x1="229.40" y1="533.50" x2="230.50" y2="533.50" stroke="#444" stroke-width="0.55"/>
<line x1="229.40" y1="532.89" x2="230.50" y2="532.89" stroke="#444" stroke-width="0.55"/>
<line x1="229.40" y1="532.37" x2="230.50" y2="532.37" stroke="#444" stroke-width="0.55"/>
<line x1="229.40" y1="531.91" x2="230.50" y2="531.91" stroke="#444" stroke-width="0.55"/>
<line x1="228.50" y1="531.50" x2="230.50" y2="531.50" stroke="#444" stroke-width="0.55"/>
<line x1="229.40" y1="528.79" x2="230.50" y2="528.79" stroke="#444" stroke-width="0.55"/>
<line x1="233.50" y1="570.50" x2="233.50" y2="572.50" stroke="#444" stroke-width="0.55"/>
<line x1="236.21" y1="570.50" x2="236.21" y2="571.60" stroke="#444" stroke-width="0.55"/>
<line x1="237.79" y1="570.50" x2="237.79" y2="571.60" stroke="#444" stroke-width="0.55"/>
<line x1="238.92" y1="570.50" x2="238.92" y2="571.60" stroke="#444" stroke-width="0.55"/>
<line x1="239.79" y1="570.50" x2="239.79" y2="571.60" stroke="#444" stroke-width="0.55"/>
<line x1="240.50" y1="570.50" x2="240.50" y2="571.60" stroke="#444" stroke-width="0.55"/>
<line x1="241.11" y1="570.50" x2="241.11" y2="571.60" stroke="#444" stroke-width="0.55"/>
<line x1="241.63" y1="570.50" x2="241.63" y2="571.60" stroke="#444" stroke-width="0.55"/>
<line x1="242.09" y1="570.50" x2="242.09" y2="571.60" stroke="#444" stroke-width="0.55"/>
<line x1="242.50" y1="570.50" x2="242.50" y2="572.50" stroke="#444" stroke-width="0.55"/>
<line x1="245.21" y1="570.50" x2="245.21" y2="571.60" stroke="#444" stroke-width="0.55"/>
<line x1="246.79" y1="570.50" x2="246.79" y2="571.60" stroke="#444" stroke-width="0.55"/>
<line x1="247.92" y1="570.50" x2="247.92" y2="571.60" stroke="#444" stroke-width="0.55"/>
<line x1="248.79" y1="570.50" x2="248.79" y2="571.60" stroke="#444" stroke-width="0.55"/>
<line x1="249.50" y1="570.50" x2="249.50" y2="571.60" stroke="#444" stroke-width="0.55"/>
<line x1="250.11" y1="570.50" x2="250.11" y2="571.60" stroke="#444" stroke-width="0.55"/>
<line x1="250.63" y1="570.50" x2="250.63" y2="571.60" stroke="#444" stroke-width="0.55"/>
<line x1="251.09" y1="570.50" x2="251.09" y2="571.60" stroke="#444" stroke-width="0.55"/>
<line x1="251.50" y1="570.50" x2="251.50" y2="572.50" stroke="#444" stroke-width="0.55"/>
<line x1="254.21" y1="570.50" x2="254.21" y2="571.60" stroke="#444" stroke-width="0.55"/>
<line x1="255.79" y1="570.50" x2="255.79" y2="571.60" stroke="#444" stroke-width="0.55"/>
<line x1="256.92" y1="570.50" x2="256.92" y2="571.60" stroke="#444" stroke-width="0.55"/>
<line x1="257.79" y1="570.50" x2="257.79" y2="571.60" stroke="#444" stroke-width="0.55"/>
<line x1="258.50" y1="570.50" x2="258.50" y2="571.60" stroke="#444" stroke-width="0.55"/>
<line x1="259.11" y1="570.50" x2="259.11" y2="571.60" stroke="#444" stroke-width="0.55"/>
<line x1="259.63" y1="570.50" x2="259.63" y2="571.60" stroke="#444" stroke-width="0.55"/>
<line x1="260.09" y1="570.50" x2="260.09" y2="571.60" stroke="#444" stroke-width="0.55"/>
<line x1="260.50" y1="570.50" x2="260.50" y2="572.50" stroke="#444" stroke-width="0.55"/>
<line x1="263.21" y1="570.50" x2="263.21" y2="571.60" stroke="#444" stroke-width="0.55"/>
<line x1="264.79" y1="570.50" x2="264.79" y2="571.60" stroke="#444" stroke-width="0.55"/>
<line x1="265.92" y1="570.50" x2="265.92" y2="571.60" stroke="#444" stroke-width="0.55"/>
<line x1="266.79" y1="570.50" x2="266.79" y2="571.60" stroke="#444" stroke-width="0.55"/>
<line x1="267.50" y1="570.50" x2="267.50" y2="571.60" stroke="#444" stroke-width="0.55"/>
<line x1="268.11" y1="570.50" x2="268.11" y2="571.60" stroke="#444" stroke-width="0.55"/>
<line x1="268.63" y1="570.50" x2="268.63" y2="571.60" stroke="#444" stroke-width="0.55"/>
<line x1="269.09" y1="570.50" x2="269.09" y2="571.60" stroke="#444" stroke-width="0.55"/>
<line x1="269.50" y1="570.50" x2="269.50" y2="572.50" stroke="#444" stroke-width="0.55"/>
<ellipse cx="257.50" cy="553.00" rx="1.60" ry="6.50" fill="#888" fill-opacity="0.35" transform="rotate(-5 257.50 553.00)"/>
<circle cx="257.19" cy="544.83" r="0.4" fill="#777" opacity="0.4"/>
<circle cx="256.16" cy="553.79" r="0.4" fill="#777" opacity="0.4"/>
<circle cx="255.24" cy="540.18" r="0.4" fill="#777" opacity="0.4"/>
<circle cx="254.37" cy="556.28" r="0.4" fill="#777" opacity="0.4"/>
<circle cx="258.79" cy="553.38" r="0.4" fill="#777" opacity="0.4"/>
<circle cx="257.52" cy="557.57" r="0.4" fill="#777" opacity="0.4"/>
<circle cx="254.74" cy="545.67" r="0.4" fill="#777" opacity="0.4"/>
<circle cx="254.01" cy="550.55" r="0.4" fill="#777" opacity="0.4"/>
<circle cx="256.64" cy="554.32" r="0.4" fill="#777" opacity="0.4"/>
<circle cx="254.68" cy="553.73" r="0.4" fill="#777" opacity="0.4"/>
<circle cx="256.89" cy="550.68" r="0.4" fill="#777" opacity="0.4"/>
<circle cx="257.01" cy="555.83" r="0.4" fill="#777" opacity="0.4"/>
<circle cx="254.06" cy="553.77" r="0.4" fill="#777" opacity="0.4"/>
<circle cx="256.94" cy="553.52" r="0.4" fill="#777" opacity="0.4"/>
<circle cx="259.43" cy="545.97" r="0.4" fill="#777" opacity="0.4"/>
<circle cx="257.05" cy="550.61" r="0.4" fill="#777" opacity="0.4"/>
<circle cx="256.94" cy="555.11" r="0.4" fill="#777" opacity="0.4"/>
<circle cx="257.67" cy="550.69" r="0.4" fill="#777" opacity="0.4"/>
<circle cx="257.74" cy="554.54" r="0.4" fill="#777" opacity="0.4"/>
<circle cx="257.25" cy="548.79" r="0.4" fill="#777" opacity="0.4"/>
<circle cx="258.28" cy="551.55" r="0.4" fill="#777" opacity="0.4"/>
<circle cx="256.42" cy="549.36" r="0.4" fill="#777" opacity="0.4"/>
<circle cx="256.22" cy="561.67" r="0.4" fill="#777" opacity="0.4"/>
<circle cx="258.12" cy="551.94" r="0.4" fill="#777" opacity="0.4"/>
<circle cx="256.70" cy="553.39" r="0.4" fill="#777" opacity="0.4"/>
<circle cx="257.50" cy="556.63" r="0.4" fill="#777" opacity="0.4"/>
<circle cx="255.06" cy="551.14" r="0.4" fill="#777" opacity="0.4"/>
<circle cx="256.49" cy="554.38" r="0.4" fill="#777" opacity="0.4"/>
<circle cx="255.69" cy="550.41" r="0.4" fill="#777" opacity="0.4"/>
<circle cx="254.73" cy="563.12" r="0.4" fill="#777" opacity="0.4"/>
<circle cx="256.78" cy="551.54" r="0.4" fill="#777" opacity="0.4"/>
<circle cx="260.82" cy="548.48" r="0.4" fill="#777" opacity="0.4"/>
<circle cx="253.78" cy="560.90" r="0.4" fill="#777" opacity="0.4"/>
<circle cx="259.65" cy="558.87" r="0.4" fill="#777" opacity="0.4"/>
<circle cx="258.46" cy="560.72" r="0.4" fill="#777" opacity="0.4"/>
<circle cx="255.33" cy="540.68" r="0.4" fill="#777" opacity="0.4"/>
<circle cx="256.30" cy="558.89" r="0.4" fill="#777" opacity="0.4"/>
<circle cx="257.73" cy="551.04" r="0.4" fill="#777" opacity="0.4"/>
<circle cx="257.76" cy="557.86" r="0.4" fill="#777" opacity="0.4"/>
<circle cx="257.34" cy="553.25" r="0.4" fill="#777" opacity="0.4"/>
<ellipse cx="256.00" cy="543.90" rx="2.10" ry="2.80" fill="#666" fill-opacity="0.5" transform="rotate(30 256.00 543.90)"/>
<ellipse cx="256.00" cy="543.90" rx="1.50" ry="2.20" fill="#1a1a1a" transform="rotate(30 256.00 543.90)"/>
<ellipse cx="256.00" cy="543.90" rx="0.52" ry="0.77" fill="#777" transform="rotate(30 256.00 543.90)"/>
<polygon points="248.00,550.70 256.00,538.00 262.00,538.50 252.50,553.00" fill="none" stroke="#231f20" stroke-width="0.9" stroke-linejoin="round"/>
<polygon points="252.50,553.00 262.00,541.50 265.00,542.50 266.50,552.00 265.50,562.00 260.00,567.00 251.50,566.50 251.00,556.00" fill="none" stroke="#f7941d" stroke-width="0.9" stroke-linejoin="round"/>
<text x="243.00" y="541.20" font-size="7.4" fill="#231f20" stroke="#231f20" stroke-width="0.3" textLength="6.3" lengthAdjust="spacingAndGlyphs">91</text>
<text x="241.60" y="563.20" font-size="7.4" fill="#f7941d" stroke="#f7941d" stroke-width="0.2" textLength="8.7" lengthAdjust="spacingAndGlyphs">8.6</text>
<text x="226.20" y="549.60" font-size="7.4" fill="#231f20" stroke="#231f20" stroke-width="0.3" text-anchor="middle" textLength="18.5" lengthAdjust="spacingAndGlyphs" transform="rotate(-90 226.20 549.60)">CD45.1</text>
<line x1="223.50" y1="577.50" x2="223.50" y2="564.49" stroke="#231f20" stroke-width="1.0"/>
<polygon points="223.50,561.30 221.47,564.78 225.53,564.78" fill="#231f20"/>
<line x1="223.00" y1="577.50" x2="235.81" y2="577.50" stroke="#231f20" stroke-width="1.0"/>
<polygon points="239.00,577.50 235.52,575.47 235.52,579.53" fill="#231f20"/>
<text x="241.90" y="579.30" font-size="7.4" fill="#231f20" stroke="#231f20" stroke-width="0.3" textLength="21" lengthAdjust="spacingAndGlyphs">CD45.2</text>
<text x="297.70" y="523.10" font-size="7.6" fill="#231f20" stroke="#231f20" stroke-width="0.3" textLength="53.6" lengthAdjust="spacingAndGlyphs">CD45.1/2 GCB</text>
<rect x="302.50" y="526.50" width="44.00" height="44.00" stroke="#404040" stroke-width="1.0" fill="none"/>
<line x1="300.50" y1="567.50" x2="302.50" y2="567.50" stroke="#444" stroke-width="0.55"/>
<line x1="301.40" y1="564.79" x2="302.50" y2="564.79" stroke="#444" stroke-width="0.55"/>
<line x1="301.40" y1="563.21" x2="302.50" y2="563.21" stroke="#444" stroke-width="0.55"/>
<line x1="301.40" y1="562.08" x2="302.50" y2="562.08" stroke="#444" stroke-width="0.55"/>
<line x1="301.40" y1="561.21" x2="302.50" y2="561.21" stroke="#444" stroke-width="0.55"/>
<line x1="301.40" y1="560.50" x2="302.50" y2="560.50" stroke="#444" stroke-width="0.55"/>
<line x1="301.40" y1="559.89" x2="302.50" y2="559.89" stroke="#444" stroke-width="0.55"/>
<line x1="301.40" y1="559.37" x2="302.50" y2="559.37" stroke="#444" stroke-width="0.55"/>
<line x1="301.40" y1="558.91" x2="302.50" y2="558.91" stroke="#444" stroke-width="0.55"/>
<line x1="300.50" y1="558.50" x2="302.50" y2="558.50" stroke="#444" stroke-width="0.55"/>
<line x1="301.40" y1="555.79" x2="302.50" y2="555.79" stroke="#444" stroke-width="0.55"/>
<line x1="301.40" y1="554.21" x2="302.50" y2="554.21" stroke="#444" stroke-width="0.55"/>
<line x1="301.40" y1="553.08" x2="302.50" y2="553.08" stroke="#444" stroke-width="0.55"/>
<line x1="301.40" y1="552.21" x2="302.50" y2="552.21" stroke="#444" stroke-width="0.55"/>
<line x1="301.40" y1="551.50" x2="302.50" y2="551.50" stroke="#444" stroke-width="0.55"/>
<line x1="301.40" y1="550.89" x2="302.50" y2="550.89" stroke="#444" stroke-width="0.55"/>
<line x1="301.40" y1="550.37" x2="302.50" y2="550.37" stroke="#444" stroke-width="0.55"/>
<line x1="301.40" y1="549.91" x2="302.50" y2="549.91" stroke="#444" stroke-width="0.55"/>
<line x1="300.50" y1="549.50" x2="302.50" y2="549.50" stroke="#444" stroke-width="0.55"/>
<line x1="301.40" y1="546.79" x2="302.50" y2="546.79" stroke="#444" stroke-width="0.55"/>
<line x1="301.40" y1="545.21" x2="302.50" y2="545.21" stroke="#444" stroke-width="0.55"/>
<line x1="301.40" y1="544.08" x2="302.50" y2="544.08" stroke="#444" stroke-width="0.55"/>
<line x1="301.40" y1="543.21" x2="302.50" y2="543.21" stroke="#444" stroke-width="0.55"/>
<line x1="301.40" y1="542.50" x2="302.50" y2="542.50" stroke="#444" stroke-width="0.55"/>
<line x1="301.40" y1="541.89" x2="302.50" y2="541.89" stroke="#444" stroke-width="0.55"/>
<line x1="301.40" y1="541.37" x2="302.50" y2="541.37" stroke="#444" stroke-width="0.55"/>
<line x1="301.40" y1="540.91" x2="302.50" y2="540.91" stroke="#444" stroke-width="0.55"/>
<line x1="300.50" y1="540.50" x2="302.50" y2="540.50" stroke="#444" stroke-width="0.55"/>
<line x1="301.40" y1="537.79" x2="302.50" y2="537.79" stroke="#444" stroke-width="0.55"/>
<line x1="301.40" y1="536.21" x2="302.50" y2="536.21" stroke="#444" stroke-width="0.55"/>
<line x1="301.40" y1="535.08" x2="302.50" y2="535.08" stroke="#444" stroke-width="0.55"/>
<line x1="301.40" y1="534.21" x2="302.50" y2="534.21" stroke="#444" stroke-width="0.55"/>
<line x1="301.40" y1="533.50" x2="302.50" y2="533.50" stroke="#444" stroke-width="0.55"/>
<line x1="301.40" y1="532.89" x2="302.50" y2="532.89" stroke="#444" stroke-width="0.55"/>
<line x1="301.40" y1="532.37" x2="302.50" y2="532.37" stroke="#444" stroke-width="0.55"/>
<line x1="301.40" y1="531.91" x2="302.50" y2="531.91" stroke="#444" stroke-width="0.55"/>
<line x1="300.50" y1="531.50" x2="302.50" y2="531.50" stroke="#444" stroke-width="0.55"/>
<line x1="301.40" y1="528.79" x2="302.50" y2="528.79" stroke="#444" stroke-width="0.55"/>
<line x1="305.50" y1="570.50" x2="305.50" y2="572.50" stroke="#444" stroke-width="0.55"/>
<line x1="308.21" y1="570.50" x2="308.21" y2="571.60" stroke="#444" stroke-width="0.55"/>
<line x1="309.79" y1="570.50" x2="309.79" y2="571.60" stroke="#444" stroke-width="0.55"/>
<line x1="310.92" y1="570.50" x2="310.92" y2="571.60" stroke="#444" stroke-width="0.55"/>
<line x1="311.79" y1="570.50" x2="311.79" y2="571.60" stroke="#444" stroke-width="0.55"/>
<line x1="312.50" y1="570.50" x2="312.50" y2="571.60" stroke="#444" stroke-width="0.55"/>
<line x1="313.11" y1="570.50" x2="313.11" y2="571.60" stroke="#444" stroke-width="0.55"/>
<line x1="313.63" y1="570.50" x2="313.63" y2="571.60" stroke="#444" stroke-width="0.55"/>
<line x1="314.09" y1="570.50" x2="314.09" y2="571.60" stroke="#444" stroke-width="0.55"/>
<line x1="314.50" y1="570.50" x2="314.50" y2="572.50" stroke="#444" stroke-width="0.55"/>
<line x1="317.21" y1="570.50" x2="317.21" y2="571.60" stroke="#444" stroke-width="0.55"/>
<line x1="318.79" y1="570.50" x2="318.79" y2="571.60" stroke="#444" stroke-width="0.55"/>
<line x1="319.92" y1="570.50" x2="319.92" y2="571.60" stroke="#444" stroke-width="0.55"/>
<line x1="320.79" y1="570.50" x2="320.79" y2="571.60" stroke="#444" stroke-width="0.55"/>
<line x1="321.50" y1="570.50" x2="321.50" y2="571.60" stroke="#444" stroke-width="0.55"/>
<line x1="322.11" y1="570.50" x2="322.11" y2="571.60" stroke="#444" stroke-width="0.55"/>
<line x1="322.63" y1="570.50" x2="322.63" y2="571.60" stroke="#444" stroke-width="0.55"/>
<line x1="323.09" y1="570.50" x2="323.09" y2="571.60" stroke="#444" stroke-width="0.55"/>
<line x1="323.50" y1="570.50" x2="323.50" y2="572.50" stroke="#444" stroke-width="0.55"/>
<line x1="326.21" y1="570.50" x2="326.21" y2="571.60" stroke="#444" stroke-width="0.55"/>
<line x1="327.79" y1="570.50" x2="327.79" y2="571.60" stroke="#444" stroke-width="0.55"/>
<line x1="328.92" y1="570.50" x2="328.92" y2="571.60" stroke="#444" stroke-width="0.55"/>
<line x1="329.79" y1="570.50" x2="329.79" y2="571.60" stroke="#444" stroke-width="0.55"/>
<line x1="330.50" y1="570.50" x2="330.50" y2="571.60" stroke="#444" stroke-width="0.55"/>
<line x1="331.11" y1="570.50" x2="331.11" y2="571.60" stroke="#444" stroke-width="0.55"/>
<line x1="331.63" y1="570.50" x2="331.63" y2="571.60" stroke="#444" stroke-width="0.55"/>
<line x1="332.09" y1="570.50" x2="332.09" y2="571.60" stroke="#444" stroke-width="0.55"/>
<line x1="332.50" y1="570.50" x2="332.50" y2="572.50" stroke="#444" stroke-width="0.55"/>
<line x1="335.21" y1="570.50" x2="335.21" y2="571.60" stroke="#444" stroke-width="0.55"/>
<line x1="336.79" y1="570.50" x2="336.79" y2="571.60" stroke="#444" stroke-width="0.55"/>
<line x1="337.92" y1="570.50" x2="337.92" y2="571.60" stroke="#444" stroke-width="0.55"/>
<line x1="338.79" y1="570.50" x2="338.79" y2="571.60" stroke="#444" stroke-width="0.55"/>
<line x1="339.50" y1="570.50" x2="339.50" y2="571.60" stroke="#444" stroke-width="0.55"/>
<line x1="340.11" y1="570.50" x2="340.11" y2="571.60" stroke="#444" stroke-width="0.55"/>
<line x1="340.63" y1="570.50" x2="340.63" y2="571.60" stroke="#444" stroke-width="0.55"/>
<line x1="341.09" y1="570.50" x2="341.09" y2="571.60" stroke="#444" stroke-width="0.55"/>
<line x1="341.50" y1="570.50" x2="341.50" y2="572.50" stroke="#444" stroke-width="0.55"/>
<line x1="344.21" y1="570.50" x2="344.21" y2="571.60" stroke="#444" stroke-width="0.55"/>
<ellipse cx="313.50" cy="553.00" rx="3.30" ry="8.50" fill="#999" fill-opacity="0.35" transform="rotate(25 313.50 553.00)"/>
<ellipse cx="313.50" cy="553.00" rx="2.64" ry="6.80" fill="none" stroke="#999" stroke-width="0.5" transform="rotate(25 313.50 553.00)"/>
<circle cx="317.04" cy="557.19" r="0.45" fill="#888" opacity="0.35"/>
<circle cx="311.60" cy="549.96" r="0.45" fill="#888" opacity="0.35"/>
<circle cx="313.62" cy="545.40" r="0.45" fill="#888" opacity="0.35"/>
<circle cx="314.62" cy="545.93" r="0.45" fill="#888" opacity="0.35"/>
<circle cx="312.28" cy="543.48" r="0.45" fill="#888" opacity="0.35"/>
<circle cx="312.37" cy="553.86" r="0.45" fill="#888" opacity="0.35"/>
<circle cx="314.00" cy="550.50" r="0.45" fill="#888" opacity="0.35"/>
<circle cx="305.78" cy="546.62" r="0.45" fill="#888" opacity="0.35"/>
<circle cx="311.85" cy="555.14" r="0.45" fill="#888" opacity="0.35"/>
<circle cx="311.76" cy="554.26" r="0.45" fill="#888" opacity="0.35"/>
<circle cx="313.00" cy="547.79" r="0.45" fill="#888" opacity="0.35"/>
<circle cx="316.01" cy="554.99" r="0.45" fill="#888" opacity="0.35"/>
<circle cx="312.91" cy="555.14" r="0.45" fill="#888" opacity="0.35"/>
<circle cx="317.75" cy="553.01" r="0.45" fill="#888" opacity="0.35"/>
<circle cx="310.57" cy="556.70" r="0.45" fill="#888" opacity="0.35"/>
<circle cx="307.99" cy="553.22" r="0.45" fill="#888" opacity="0.35"/>
<circle cx="316.23" cy="554.91" r="0.45" fill="#888" opacity="0.35"/>
<circle cx="313.98" cy="548.43" r="0.45" fill="#888" opacity="0.35"/>
<circle cx="310.93" cy="553.83" r="0.45" fill="#888" opacity="0.35"/>
<circle cx="310.30" cy="562.78" r="0.45" fill="#888" opacity="0.35"/>
<circle cx="313.55" cy="560.11" r="0.45" fill="#888" opacity="0.35"/>
<circle cx="317.19" cy="554.39" r="0.45" fill="#888" opacity="0.35"/>
<circle cx="316.86" cy="556.27" r="0.45" fill="#888" opacity="0.35"/>
<circle cx="314.59" cy="553.40" r="0.45" fill="#888" opacity="0.35"/>
<circle cx="312.82" cy="556.05" r="0.45" fill="#888" opacity="0.35"/>
<circle cx="313.50" cy="546.16" r="0.45" fill="#888" opacity="0.35"/>
<circle cx="314.52" cy="552.90" r="0.45" fill="#888" opacity="0.35"/>
<circle cx="309.56" cy="555.84" r="0.45" fill="#888" opacity="0.35"/>
<circle cx="311.19" cy="547.58" r="0.45" fill="#888" opacity="0.35"/>
<circle cx="315.14" cy="540.69" r="0.45" fill="#888" opacity="0.35"/>
<circle cx="320.33" cy="547.18" r="0.45" fill="#888" opacity="0.35"/>
<circle cx="319.39" cy="544.90" r="0.45" fill="#888" opacity="0.35"/>
<circle cx="312.20" cy="544.49" r="0.45" fill="#888" opacity="0.35"/>
<circle cx="310.84" cy="549.51" r="0.45" fill="#888" opacity="0.35"/>
<circle cx="314.28" cy="547.81" r="0.45" fill="#888" opacity="0.35"/>
<circle cx="315.24" cy="548.99" r="0.45" fill="#888" opacity="0.35"/>
<circle cx="317.80" cy="553.35" r="0.45" fill="#888" opacity="0.35"/>
<circle cx="312.76" cy="552.05" r="0.45" fill="#888" opacity="0.35"/>
<circle cx="314.84" cy="543.91" r="0.45" fill="#888" opacity="0.35"/>
<circle cx="314.99" cy="548.08" r="0.45" fill="#888" opacity="0.35"/>
<circle cx="313.86" cy="555.04" r="0.45" fill="#888" opacity="0.35"/>
<circle cx="309.37" cy="550.26" r="0.45" fill="#888" opacity="0.35"/>
<circle cx="311.26" cy="550.69" r="0.45" fill="#888" opacity="0.35"/>
<circle cx="317.03" cy="562.79" r="0.45" fill="#888" opacity="0.35"/>
<circle cx="318.94" cy="551.84" r="0.45" fill="#888" opacity="0.35"/>
<circle cx="312.00" cy="551.75" r="0.45" fill="#888" opacity="0.35"/>
<circle cx="313.58" cy="558.24" r="0.45" fill="#888" opacity="0.35"/>
<circle cx="315.66" cy="546.41" r="0.45" fill="#888" opacity="0.35"/>
<circle cx="317.33" cy="559.00" r="0.45" fill="#888" opacity="0.35"/>
<circle cx="311.33" cy="547.88" r="0.45" fill="#888" opacity="0.35"/>
<ellipse cx="312.00" cy="557.80" rx="2.60" ry="5.20" fill="#666" fill-opacity="0.5" transform="rotate(25 312.00 557.80)"/>
<ellipse cx="312.00" cy="557.80" rx="2.00" ry="4.60" fill="#1a1a1a" transform="rotate(25 312.00 557.80)"/>
<ellipse cx="312.00" cy="557.80" rx="0.70" ry="1.61" fill="#777" transform="rotate(25 312.00 557.80)"/>
<polygon points="321.60,548.40 331.30,549.30 331.30,564.80 328.50,566.40 319.60,565.90 317.60,564.10 318.70,555.40" fill="none" stroke="#231f20" stroke-width="0.9" stroke-linejoin="round"/>
<text x="332.40" y="558.70" font-size="7.4" fill="#231f20" stroke="#231f20" stroke-width="0.3" textLength="11.5" lengthAdjust="spacingAndGlyphs">0.97</text>
<text x="298.40" y="553.70" font-size="7.4" fill="#231f20" stroke="#231f20" stroke-width="0.3" text-anchor="middle" textLength="11.4" lengthAdjust="spacingAndGlyphs" transform="rotate(-90 298.40 553.70)">SSC</text>
<line x1="295.50" y1="577.50" x2="295.50" y2="564.49" stroke="#231f20" stroke-width="1.0"/>
<polygon points="295.50,561.30 293.47,564.78 297.53,564.78" fill="#231f20"/>
<line x1="295.00" y1="577.50" x2="308.91" y2="577.50" stroke="#231f20" stroke-width="1.0"/>
<polygon points="312.10,577.50 308.62,575.47 308.62,579.53" fill="#231f20"/>
<text x="314.60" y="579.30" font-size="7.4" fill="#231f20" stroke="#231f20" stroke-width="0.3" textLength="29.3" lengthAdjust="spacingAndGlyphs">Act-Casp3</text>
<text x="157.80" y="602.80" font-size="7.6" fill="#231f20" stroke="#231f20" stroke-width="0.3" textLength="44.8" lengthAdjust="spacingAndGlyphs">IgD<tspan font-size="5" dy="-3">lo</tspan><tspan dy="3"> CD38</tspan><tspan font-size="5" dy="-3">lo</tspan></text>
<rect x="159.50" y="605.50" width="44.00" height="43.00" stroke="#404040" stroke-width="1.0" fill="none"/>
<line x1="157.50" y1="645.50" x2="159.50" y2="645.50" stroke="#444" stroke-width="0.55"/>
<line x1="158.40" y1="642.79" x2="159.50" y2="642.79" stroke="#444" stroke-width="0.55"/>
<line x1="158.40" y1="641.21" x2="159.50" y2="641.21" stroke="#444" stroke-width="0.55"/>
<line x1="158.40" y1="640.08" x2="159.50" y2="640.08" stroke="#444" stroke-width="0.55"/>
<line x1="158.40" y1="639.21" x2="159.50" y2="639.21" stroke="#444" stroke-width="0.55"/>
<line x1="158.40" y1="638.50" x2="159.50" y2="638.50" stroke="#444" stroke-width="0.55"/>
<line x1="158.40" y1="637.89" x2="159.50" y2="637.89" stroke="#444" stroke-width="0.55"/>
<line x1="158.40" y1="637.37" x2="159.50" y2="637.37" stroke="#444" stroke-width="0.55"/>
<line x1="158.40" y1="636.91" x2="159.50" y2="636.91" stroke="#444" stroke-width="0.55"/>
<line x1="157.50" y1="636.50" x2="159.50" y2="636.50" stroke="#444" stroke-width="0.55"/>
<line x1="158.40" y1="633.79" x2="159.50" y2="633.79" stroke="#444" stroke-width="0.55"/>
<line x1="158.40" y1="632.21" x2="159.50" y2="632.21" stroke="#444" stroke-width="0.55"/>
<line x1="158.40" y1="631.08" x2="159.50" y2="631.08" stroke="#444" stroke-width="0.55"/>
<line x1="158.40" y1="630.21" x2="159.50" y2="630.21" stroke="#444" stroke-width="0.55"/>
<line x1="158.40" y1="629.50" x2="159.50" y2="629.50" stroke="#444" stroke-width="0.55"/>
<line x1="158.40" y1="628.89" x2="159.50" y2="628.89" stroke="#444" stroke-width="0.55"/>
<line x1="158.40" y1="628.37" x2="159.50" y2="628.37" stroke="#444" stroke-width="0.55"/>
<line x1="158.40" y1="627.91" x2="159.50" y2="627.91" stroke="#444" stroke-width="0.55"/>
<line x1="157.50" y1="627.50" x2="159.50" y2="627.50" stroke="#444" stroke-width="0.55"/>
<line x1="158.40" y1="624.79" x2="159.50" y2="624.79" stroke="#444" stroke-width="0.55"/>
<line x1="158.40" y1="623.21" x2="159.50" y2="623.21" stroke="#444" stroke-width="0.55"/>
<line x1="158.40" y1="622.08" x2="159.50" y2="622.08" stroke="#444" stroke-width="0.55"/>
<line x1="158.40" y1="621.21" x2="159.50" y2="621.21" stroke="#444" stroke-width="0.55"/>
<line x1="158.40" y1="620.50" x2="159.50" y2="620.50" stroke="#444" stroke-width="0.55"/>
<line x1="158.40" y1="619.89" x2="159.50" y2="619.89" stroke="#444" stroke-width="0.55"/>
<line x1="158.40" y1="619.37" x2="159.50" y2="619.37" stroke="#444" stroke-width="0.55"/>
<line x1="158.40" y1="618.91" x2="159.50" y2="618.91" stroke="#444" stroke-width="0.55"/>
<line x1="157.50" y1="618.50" x2="159.50" y2="618.50" stroke="#444" stroke-width="0.55"/>
<line x1="158.40" y1="615.79" x2="159.50" y2="615.79" stroke="#444" stroke-width="0.55"/>
<line x1="158.40" y1="614.21" x2="159.50" y2="614.21" stroke="#444" stroke-width="0.55"/>
<line x1="158.40" y1="613.08" x2="159.50" y2="613.08" stroke="#444" stroke-width="0.55"/>
<line x1="158.40" y1="612.21" x2="159.50" y2="612.21" stroke="#444" stroke-width="0.55"/>
<line x1="158.40" y1="611.50" x2="159.50" y2="611.50" stroke="#444" stroke-width="0.55"/>
<line x1="158.40" y1="610.89" x2="159.50" y2="610.89" stroke="#444" stroke-width="0.55"/>
<line x1="158.40" y1="610.37" x2="159.50" y2="610.37" stroke="#444" stroke-width="0.55"/>
<line x1="158.40" y1="609.91" x2="159.50" y2="609.91" stroke="#444" stroke-width="0.55"/>
<line x1="157.50" y1="609.50" x2="159.50" y2="609.50" stroke="#444" stroke-width="0.55"/>
<line x1="162.50" y1="648.50" x2="162.50" y2="650.50" stroke="#444" stroke-width="0.55"/>
<line x1="165.21" y1="648.50" x2="165.21" y2="649.60" stroke="#444" stroke-width="0.55"/>
<line x1="166.79" y1="648.50" x2="166.79" y2="649.60" stroke="#444" stroke-width="0.55"/>
<line x1="167.92" y1="648.50" x2="167.92" y2="649.60" stroke="#444" stroke-width="0.55"/>
<line x1="168.79" y1="648.50" x2="168.79" y2="649.60" stroke="#444" stroke-width="0.55"/>
<line x1="169.50" y1="648.50" x2="169.50" y2="649.60" stroke="#444" stroke-width="0.55"/>
<line x1="170.11" y1="648.50" x2="170.11" y2="649.60" stroke="#444" stroke-width="0.55"/>
<line x1="170.63" y1="648.50" x2="170.63" y2="649.60" stroke="#444" stroke-width="0.55"/>
<line x1="171.09" y1="648.50" x2="171.09" y2="649.60" stroke="#444" stroke-width="0.55"/>
<line x1="171.50" y1="648.50" x2="171.50" y2="650.50" stroke="#444" stroke-width="0.55"/>
<line x1="174.21" y1="648.50" x2="174.21" y2="649.60" stroke="#444" stroke-width="0.55"/>
<line x1="175.79" y1="648.50" x2="175.79" y2="649.60" stroke="#444" stroke-width="0.55"/>
<line x1="176.92" y1="648.50" x2="176.92" y2="649.60" stroke="#444" stroke-width="0.55"/>
<line x1="177.79" y1="648.50" x2="177.79" y2="649.60" stroke="#444" stroke-width="0.55"/>
<line x1="178.50" y1="648.50" x2="178.50" y2="649.60" stroke="#444" stroke-width="0.55"/>
<line x1="179.11" y1="648.50" x2="179.11" y2="649.60" stroke="#444" stroke-width="0.55"/>
<line x1="179.63" y1="648.50" x2="179.63" y2="649.60" stroke="#444" stroke-width="0.55"/>
<line x1="180.09" y1="648.50" x2="180.09" y2="649.60" stroke="#444" stroke-width="0.55"/>
<line x1="180.50" y1="648.50" x2="180.50" y2="650.50" stroke="#444" stroke-width="0.55"/>
<line x1="183.21" y1="648.50" x2="183.21" y2="649.60" stroke="#444" stroke-width="0.55"/>
<line x1="184.79" y1="648.50" x2="184.79" y2="649.60" stroke="#444" stroke-width="0.55"/>
<line x1="185.92" y1="648.50" x2="185.92" y2="649.60" stroke="#444" stroke-width="0.55"/>
<line x1="186.79" y1="648.50" x2="186.79" y2="649.60" stroke="#444" stroke-width="0.55"/>
<line x1="187.50" y1="648.50" x2="187.50" y2="649.60" stroke="#444" stroke-width="0.55"/>
<line x1="188.11" y1="648.50" x2="188.11" y2="649.60" stroke="#444" stroke-width="0.55"/>
<line x1="188.63" y1="648.50" x2="188.63" y2="649.60" stroke="#444" stroke-width="0.55"/>
<line x1="189.09" y1="648.50" x2="189.09" y2="649.60" stroke="#444" stroke-width="0.55"/>
<line x1="189.50" y1="648.50" x2="189.50" y2="650.50" stroke="#444" stroke-width="0.55"/>
<line x1="192.21" y1="648.50" x2="192.21" y2="649.60" stroke="#444" stroke-width="0.55"/>
<line x1="193.79" y1="648.50" x2="193.79" y2="649.60" stroke="#444" stroke-width="0.55"/>
<line x1="194.92" y1="648.50" x2="194.92" y2="649.60" stroke="#444" stroke-width="0.55"/>
<line x1="195.79" y1="648.50" x2="195.79" y2="649.60" stroke="#444" stroke-width="0.55"/>
<line x1="196.50" y1="648.50" x2="196.50" y2="649.60" stroke="#444" stroke-width="0.55"/>
<line x1="197.11" y1="648.50" x2="197.11" y2="649.60" stroke="#444" stroke-width="0.55"/>
<line x1="197.63" y1="648.50" x2="197.63" y2="649.60" stroke="#444" stroke-width="0.55"/>
<line x1="198.09" y1="648.50" x2="198.09" y2="649.60" stroke="#444" stroke-width="0.55"/>
<line x1="198.50" y1="648.50" x2="198.50" y2="650.50" stroke="#444" stroke-width="0.55"/>
<line x1="201.21" y1="648.50" x2="201.21" y2="649.60" stroke="#444" stroke-width="0.55"/>
<ellipse cx="174.00" cy="638.50" rx="10.00" ry="4.00" fill="#999" fill-opacity="0.3" transform="rotate(-5 174.00 638.50)"/>
<circle cx="172.98" cy="638.77" r="0.45" fill="#999" opacity="0.35"/>
<circle cx="172.23" cy="637.19" r="0.45" fill="#999" opacity="0.35"/>
<circle cx="169.64" cy="638.30" r="0.45" fill="#999" opacity="0.35"/>
<circle cx="173.84" cy="636.34" r="0.45" fill="#999" opacity="0.35"/>
<circle cx="177.28" cy="637.76" r="0.45" fill="#999" opacity="0.35"/>
<circle cx="183.18" cy="639.86" r="0.45" fill="#999" opacity="0.35"/>
<circle cx="186.87" cy="637.40" r="0.45" fill="#999" opacity="0.35"/>
<circle cx="176.55" cy="636.47" r="0.45" fill="#999" opacity="0.35"/>
<circle cx="176.60" cy="640.37" r="0.45" fill="#999" opacity="0.35"/>
<circle cx="175.30" cy="639.83" r="0.45" fill="#999" opacity="0.35"/>
<circle cx="173.04" cy="640.75" r="0.45" fill="#999" opacity="0.35"/>
<circle cx="170.15" cy="642.88" r="0.45" fill="#999" opacity="0.35"/>
<circle cx="176.63" cy="636.61" r="0.45" fill="#999" opacity="0.35"/>
<circle cx="165.38" cy="637.34" r="0.45" fill="#999" opacity="0.35"/>
<circle cx="189.07" cy="639.58" r="0.45" fill="#999" opacity="0.35"/>
<circle cx="169.03" cy="636.67" r="0.45" fill="#999" opacity="0.35"/>
<circle cx="164.32" cy="641.65" r="0.45" fill="#999" opacity="0.35"/>
<circle cx="168.65" cy="637.42" r="0.45" fill="#999" opacity="0.35"/>
<circle cx="178.65" cy="637.45" r="0.45" fill="#999" opacity="0.35"/>
<circle cx="161.63" cy="639.51" r="0.45" fill="#999" opacity="0.35"/>
<circle cx="180.51" cy="633.58" r="0.45" fill="#999" opacity="0.35"/>
<circle cx="177.03" cy="636.64" r="0.45" fill="#999" opacity="0.35"/>
<circle cx="171.69" cy="634.85" r="0.45" fill="#999" opacity="0.35"/>
<circle cx="191.31" cy="637.92" r="0.45" fill="#999" opacity="0.35"/>
<circle cx="166.38" cy="641.34" r="0.45" fill="#999" opacity="0.35"/>
<circle cx="171.00" cy="640.33" r="0.45" fill="#999" opacity="0.35"/>
<circle cx="172.60" cy="631.90" r="0.45" fill="#999" opacity="0.35"/>
<circle cx="175.79" cy="636.08" r="0.45" fill="#999" opacity="0.35"/>
<circle cx="188.18" cy="640.89" r="0.45" fill="#999" opacity="0.35"/>
<circle cx="167.33" cy="637.09" r="0.45" fill="#999" opacity="0.35"/>
<circle cx="170.76" cy="631.14" r="0.45" fill="#999" opacity="0.35"/>
<circle cx="173.80" cy="633.89" r="0.45" fill="#999" opacity="0.35"/>
<circle cx="166.19" cy="639.27" r="0.45" fill="#999" opacity="0.35"/>
<circle cx="174.20" cy="634.15" r="0.45" fill="#999" opacity="0.35"/>
<circle cx="180.62" cy="637.39" r="0.45" fill="#999" opacity="0.35"/>
<circle cx="191.54" cy="631.73" r="0.45" fill="#999" opacity="0.35"/>
<circle cx="174.53" cy="634.96" r="0.45" fill="#999" opacity="0.35"/>
<circle cx="169.31" cy="637.46" r="0.45" fill="#999" opacity="0.35"/>
<circle cx="178.28" cy="633.14" r="0.45" fill="#999" opacity="0.35"/>
<circle cx="177.52" cy="640.63" r="0.45" fill="#999" opacity="0.35"/>
<circle cx="175.24" cy="636.22" r="0.45" fill="#999" opacity="0.35"/>
<circle cx="175.01" cy="634.16" r="0.45" fill="#999" opacity="0.35"/>
<circle cx="177.87" cy="640.46" r="0.45" fill="#999" opacity="0.35"/>
<circle cx="177.33" cy="637.13" r="0.45" fill="#999" opacity="0.35"/>
<circle cx="157.50" cy="639.30" r="0.45" fill="#999" opacity="0.35"/>
<circle cx="172.39" cy="643.13" r="0.45" fill="#999" opacity="0.35"/>
<circle cx="163.43" cy="641.83" r="0.45" fill="#999" opacity="0.35"/>
<circle cx="184.19" cy="636.10" r="0.45" fill="#999" opacity="0.35"/>
<circle cx="178.96" cy="644.68" r="0.45" fill="#999" opacity="0.35"/>
<circle cx="168.96" cy="642.49" r="0.45" fill="#999" opacity="0.35"/>
<circle cx="170.79" cy="634.43" r="0.45" fill="#999" opacity="0.35"/>
<circle cx="167.03" cy="641.18" r="0.45" fill="#999" opacity="0.35"/>
<circle cx="187.02" cy="637.24" r="0.45" fill="#999" opacity="0.35"/>
<circle cx="177.22" cy="635.97" r="0.45" fill="#999" opacity="0.35"/>
<circle cx="175.25" cy="642.96" r="0.45" fill="#999" opacity="0.35"/>
<circle cx="162.72" cy="639.62" r="0.45" fill="#999" opacity="0.35"/>
<circle cx="159.44" cy="637.92" r="0.45" fill="#999" opacity="0.35"/>
<circle cx="188.78" cy="638.61" r="0.45" fill="#999" opacity="0.35"/>
<circle cx="172.43" cy="642.79" r="0.45" fill="#999" opacity="0.35"/>
<circle cx="167.81" cy="635.71" r="0.45" fill="#999" opacity="0.35"/>
<circle cx="165.40" cy="639.77" r="0.45" fill="#999" opacity="0.35"/>
<circle cx="178.64" cy="635.84" r="0.45" fill="#999" opacity="0.35"/>
<circle cx="173.60" cy="634.35" r="0.45" fill="#999" opacity="0.35"/>
<circle cx="171.47" cy="634.85" r="0.45" fill="#999" opacity="0.35"/>
<circle cx="173.46" cy="636.35" r="0.45" fill="#999" opacity="0.35"/>
<circle cx="165.24" cy="641.26" r="0.45" fill="#999" opacity="0.35"/>
<circle cx="179.23" cy="642.27" r="0.45" fill="#999" opacity="0.35"/>
<circle cx="168.38" cy="638.92" r="0.45" fill="#999" opacity="0.35"/>
<circle cx="174.41" cy="642.84" r="0.45" fill="#999" opacity="0.35"/>
<circle cx="177.87" cy="640.37" r="0.45" fill="#999" opacity="0.35"/>
<circle cx="180.50" cy="639.83" r="0.45" fill="#999" opacity="0.35"/>
<circle cx="181.75" cy="639.48" r="0.45" fill="#999" opacity="0.35"/>
<circle cx="171.98" cy="637.94" r="0.45" fill="#999" opacity="0.35"/>
<circle cx="179.83" cy="639.71" r="0.45" fill="#999" opacity="0.35"/>
<circle cx="181.35" cy="636.33" r="0.45" fill="#999" opacity="0.35"/>
<circle cx="171.95" cy="636.72" r="0.45" fill="#999" opacity="0.35"/>
<circle cx="175.25" cy="636.79" r="0.45" fill="#999" opacity="0.35"/>
<circle cx="183.10" cy="637.32" r="0.45" fill="#999" opacity="0.35"/>
<circle cx="164.80" cy="641.27" r="0.45" fill="#999" opacity="0.35"/>
<circle cx="176.96" cy="640.67" r="0.45" fill="#999" opacity="0.35"/>
<ellipse cx="167.90" cy="639.50" rx="2.90" ry="2.80" fill="#666" fill-opacity="0.5" transform="rotate(0 167.90 639.50)"/>
<ellipse cx="167.90" cy="639.50" rx="2.30" ry="2.20" fill="#1a1a1a" transform="rotate(0 167.90 639.50)"/>
<ellipse cx="167.90" cy="639.50" rx="0.80" ry="0.77" fill="#777" transform="rotate(0 167.90 639.50)"/>
<ellipse cx="178.00" cy="640.50" rx="4.30" ry="2.40" fill="#666" fill-opacity="0.5" transform="rotate(0 178.00 640.50)"/>
<ellipse cx="178.00" cy="640.50" rx="3.70" ry="1.80" fill="#1a1a1a" transform="rotate(0 178.00 640.50)"/>
<ellipse cx="178.00" cy="640.50" rx="1.29" ry="0.63" fill="#777" transform="rotate(0 178.00 640.50)"/>
<ellipse cx="184.70" cy="632.80" rx="3.30" ry="2.30" fill="#666" fill-opacity="0.5" transform="rotate(-30 184.70 632.80)"/>
<ellipse cx="184.70" cy="632.80" rx="2.70" ry="1.70" fill="#1a1a1a" transform="rotate(-30 184.70 632.80)"/>
<ellipse cx="184.70" cy="632.80" rx="0.94" ry="0.59" fill="#777" transform="rotate(-30 184.70 632.80)"/>
<rect x="179.30" y="626.60" width="11.20" height="10.80" stroke="#231f20" stroke-width="0.9" fill="none"/>
<text x="184.70" y="623.60" font-size="7.4" fill="#231f20" stroke="#231f20" stroke-width="0.3" text-anchor="middle" textLength="12.2" lengthAdjust="spacingAndGlyphs">23.3</text>
<line x1="190.50" y1="632.50" x2="211.22" y2="632.50" stroke="#231f20" stroke-width="1.0"/>
<polygon points="214.30,632.00 210.94,630.04 210.94,633.96" fill="#231f20"/>
<text x="155.00" y="633.40" font-size="7.4" fill="#231f20" stroke="#231f20" stroke-width="0.3" text-anchor="middle" textLength="9" lengthAdjust="spacingAndGlyphs" transform="rotate(-90 155.00 633.40)">Fas</text>
<line x1="151.50" y1="656.50" x2="151.50" y2="644.19" stroke="#231f20" stroke-width="1.0"/>
<polygon points="151.50,641.00 149.47,644.48 153.53,644.48" fill="#231f20"/>
<line x1="151.00" y1="656.50" x2="165.21" y2="656.50" stroke="#231f20" stroke-width="1.0"/>
<polygon points="168.40,656.50 164.92,654.47 164.92,658.53" fill="#231f20"/>
<text x="171.20" y="658.00" font-size="7.4" fill="#231f20" stroke="#231f20" stroke-width="0.3" textLength="10.4" lengthAdjust="spacingAndGlyphs">GL7</text>
<text x="252.40" y="602.40" font-size="7.6" fill="#231f20" stroke="#231f20" stroke-width="0.3" text-anchor="middle" textLength="16" lengthAdjust="spacingAndGlyphs">GCB</text>
<rect x="230.50" y="605.50" width="43.00" height="44.00" stroke="#404040" stroke-width="1.0" fill="none"/>
<line x1="228.50" y1="646.50" x2="230.50" y2="646.50" stroke="#444" stroke-width="0.55"/>
<line x1="229.40" y1="643.79" x2="230.50" y2="643.79" stroke="#444" stroke-width="0.55"/>
<line x1="229.40" y1="642.21" x2="230.50" y2="642.21" stroke="#444" stroke-width="0.55"/>
<line x1="229.40" y1="641.08" x2="230.50" y2="641.08" stroke="#444" stroke-width="0.55"/>
<line x1="229.40" y1="640.21" x2="230.50" y2="640.21" stroke="#444" stroke-width="0.55"/>
<line x1="229.40" y1="639.50" x2="230.50" y2="639.50" stroke="#444" stroke-width="0.55"/>
<line x1="229.40" y1="638.89" x2="230.50" y2="638.89" stroke="#444" stroke-width="0.55"/>
<line x1="229.40" y1="638.37" x2="230.50" y2="638.37" stroke="#444" stroke-width="0.55"/>
<line x1="229.40" y1="637.91" x2="230.50" y2="637.91" stroke="#444" stroke-width="0.55"/>
<line x1="228.50" y1="637.50" x2="230.50" y2="637.50" stroke="#444" stroke-width="0.55"/>
<line x1="229.40" y1="634.79" x2="230.50" y2="634.79" stroke="#444" stroke-width="0.55"/>
<line x1="229.40" y1="633.21" x2="230.50" y2="633.21" stroke="#444" stroke-width="0.55"/>
<line x1="229.40" y1="632.08" x2="230.50" y2="632.08" stroke="#444" stroke-width="0.55"/>
<line x1="229.40" y1="631.21" x2="230.50" y2="631.21" stroke="#444" stroke-width="0.55"/>
<line x1="229.40" y1="630.50" x2="230.50" y2="630.50" stroke="#444" stroke-width="0.55"/>
<line x1="229.40" y1="629.89" x2="230.50" y2="629.89" stroke="#444" stroke-width="0.55"/>
<line x1="229.40" y1="629.37" x2="230.50" y2="629.37" stroke="#444" stroke-width="0.55"/>
<line x1="229.40" y1="628.91" x2="230.50" y2="628.91" stroke="#444" stroke-width="0.55"/>
<line x1="228.50" y1="628.50" x2="230.50" y2="628.50" stroke="#444" stroke-width="0.55"/>
<line x1="229.40" y1="625.79" x2="230.50" y2="625.79" stroke="#444" stroke-width="0.55"/>
<line x1="229.40" y1="624.21" x2="230.50" y2="624.21" stroke="#444" stroke-width="0.55"/>
<line x1="229.40" y1="623.08" x2="230.50" y2="623.08" stroke="#444" stroke-width="0.55"/>
<line x1="229.40" y1="622.21" x2="230.50" y2="622.21" stroke="#444" stroke-width="0.55"/>
<line x1="229.40" y1="621.50" x2="230.50" y2="621.50" stroke="#444" stroke-width="0.55"/>
<line x1="229.40" y1="620.89" x2="230.50" y2="620.89" stroke="#444" stroke-width="0.55"/>
<line x1="229.40" y1="620.37" x2="230.50" y2="620.37" stroke="#444" stroke-width="0.55"/>
<line x1="229.40" y1="619.91" x2="230.50" y2="619.91" stroke="#444" stroke-width="0.55"/>
<line x1="228.50" y1="619.50" x2="230.50" y2="619.50" stroke="#444" stroke-width="0.55"/>
<line x1="229.40" y1="616.79" x2="230.50" y2="616.79" stroke="#444" stroke-width="0.55"/>
<line x1="229.40" y1="615.21" x2="230.50" y2="615.21" stroke="#444" stroke-width="0.55"/>
<line x1="229.40" y1="614.08" x2="230.50" y2="614.08" stroke="#444" stroke-width="0.55"/>
<line x1="229.40" y1="613.21" x2="230.50" y2="613.21" stroke="#444" stroke-width="0.55"/>
<line x1="229.40" y1="612.50" x2="230.50" y2="612.50" stroke="#444" stroke-width="0.55"/>
<line x1="229.40" y1="611.89" x2="230.50" y2="611.89" stroke="#444" stroke-width="0.55"/>
<line x1="229.40" y1="611.37" x2="230.50" y2="611.37" stroke="#444" stroke-width="0.55"/>
<line x1="229.40" y1="610.91" x2="230.50" y2="610.91" stroke="#444" stroke-width="0.55"/>
<line x1="228.50" y1="610.50" x2="230.50" y2="610.50" stroke="#444" stroke-width="0.55"/>
<line x1="229.40" y1="607.79" x2="230.50" y2="607.79" stroke="#444" stroke-width="0.55"/>
<line x1="233.50" y1="649.50" x2="233.50" y2="651.50" stroke="#444" stroke-width="0.55"/>
<line x1="236.21" y1="649.50" x2="236.21" y2="650.60" stroke="#444" stroke-width="0.55"/>
<line x1="237.79" y1="649.50" x2="237.79" y2="650.60" stroke="#444" stroke-width="0.55"/>
<line x1="238.92" y1="649.50" x2="238.92" y2="650.60" stroke="#444" stroke-width="0.55"/>
<line x1="239.79" y1="649.50" x2="239.79" y2="650.60" stroke="#444" stroke-width="0.55"/>
<line x1="240.50" y1="649.50" x2="240.50" y2="650.60" stroke="#444" stroke-width="0.55"/>
<line x1="241.11" y1="649.50" x2="241.11" y2="650.60" stroke="#444" stroke-width="0.55"/>
<line x1="241.63" y1="649.50" x2="241.63" y2="650.60" stroke="#444" stroke-width="0.55"/>
<line x1="242.09" y1="649.50" x2="242.09" y2="650.60" stroke="#444" stroke-width="0.55"/>
<line x1="242.50" y1="649.50" x2="242.50" y2="651.50" stroke="#444" stroke-width="0.55"/>
<line x1="245.21" y1="649.50" x2="245.21" y2="650.60" stroke="#444" stroke-width="0.55"/>
<line x1="246.79" y1="649.50" x2="246.79" y2="650.60" stroke="#444" stroke-width="0.55"/>
<line x1="247.92" y1="649.50" x2="247.92" y2="650.60" stroke="#444" stroke-width="0.55"/>
<line x1="248.79" y1="649.50" x2="248.79" y2="650.60" stroke="#444" stroke-width="0.55"/>
<line x1="249.50" y1="649.50" x2="249.50" y2="650.60" stroke="#444" stroke-width="0.55"/>
<line x1="250.11" y1="649.50" x2="250.11" y2="650.60" stroke="#444" stroke-width="0.55"/>
<line x1="250.63" y1="649.50" x2="250.63" y2="650.60" stroke="#444" stroke-width="0.55"/>
<line x1="251.09" y1="649.50" x2="251.09" y2="650.60" stroke="#444" stroke-width="0.55"/>
<line x1="251.50" y1="649.50" x2="251.50" y2="651.50" stroke="#444" stroke-width="0.55"/>
<line x1="254.21" y1="649.50" x2="254.21" y2="650.60" stroke="#444" stroke-width="0.55"/>
<line x1="255.79" y1="649.50" x2="255.79" y2="650.60" stroke="#444" stroke-width="0.55"/>
<line x1="256.92" y1="649.50" x2="256.92" y2="650.60" stroke="#444" stroke-width="0.55"/>
<line x1="257.79" y1="649.50" x2="257.79" y2="650.60" stroke="#444" stroke-width="0.55"/>
<line x1="258.50" y1="649.50" x2="258.50" y2="650.60" stroke="#444" stroke-width="0.55"/>
<line x1="259.11" y1="649.50" x2="259.11" y2="650.60" stroke="#444" stroke-width="0.55"/>
<line x1="259.63" y1="649.50" x2="259.63" y2="650.60" stroke="#444" stroke-width="0.55"/>
<line x1="260.09" y1="649.50" x2="260.09" y2="650.60" stroke="#444" stroke-width="0.55"/>
<line x1="260.50" y1="649.50" x2="260.50" y2="651.50" stroke="#444" stroke-width="0.55"/>
<line x1="263.21" y1="649.50" x2="263.21" y2="650.60" stroke="#444" stroke-width="0.55"/>
<line x1="264.79" y1="649.50" x2="264.79" y2="650.60" stroke="#444" stroke-width="0.55"/>
<line x1="265.92" y1="649.50" x2="265.92" y2="650.60" stroke="#444" stroke-width="0.55"/>
<line x1="266.79" y1="649.50" x2="266.79" y2="650.60" stroke="#444" stroke-width="0.55"/>
<line x1="267.50" y1="649.50" x2="267.50" y2="650.60" stroke="#444" stroke-width="0.55"/>
<line x1="268.11" y1="649.50" x2="268.11" y2="650.60" stroke="#444" stroke-width="0.55"/>
<line x1="268.63" y1="649.50" x2="268.63" y2="650.60" stroke="#444" stroke-width="0.55"/>
<line x1="269.09" y1="649.50" x2="269.09" y2="650.60" stroke="#444" stroke-width="0.55"/>
<line x1="269.50" y1="649.50" x2="269.50" y2="651.50" stroke="#444" stroke-width="0.55"/>
<ellipse cx="258.50" cy="633.00" rx="3.50" ry="8.00" fill="#999" fill-opacity="0.3" transform="rotate(0 258.50 633.00)"/>
<circle cx="252.59" cy="635.22" r="0.45" fill="#999" opacity="0.35"/>
<circle cx="253.57" cy="630.68" r="0.45" fill="#999" opacity="0.35"/>
<circle cx="258.02" cy="628.86" r="0.45" fill="#999" opacity="0.35"/>
<circle cx="260.58" cy="631.08" r="0.45" fill="#999" opacity="0.35"/>
<circle cx="260.99" cy="636.76" r="0.45" fill="#999" opacity="0.35"/>
<circle cx="258.09" cy="645.31" r="0.45" fill="#999" opacity="0.35"/>
<circle cx="256.18" cy="628.92" r="0.45" fill="#999" opacity="0.35"/>
<circle cx="259.57" cy="630.98" r="0.45" fill="#999" opacity="0.35"/>
<circle cx="257.32" cy="631.84" r="0.45" fill="#999" opacity="0.35"/>
<circle cx="255.75" cy="638.70" r="0.45" fill="#999" opacity="0.35"/>
<circle cx="256.54" cy="636.45" r="0.45" fill="#999" opacity="0.35"/>
<circle cx="260.25" cy="636.15" r="0.45" fill="#999" opacity="0.35"/>
<circle cx="258.46" cy="628.50" r="0.45" fill="#999" opacity="0.35"/>
<circle cx="255.26" cy="626.55" r="0.45" fill="#999" opacity="0.35"/>
<circle cx="253.92" cy="616.47" r="0.45" fill="#999" opacity="0.35"/>
<circle cx="254.22" cy="630.88" r="0.45" fill="#999" opacity="0.35"/>
<circle cx="252.31" cy="633.10" r="0.45" fill="#999" opacity="0.35"/>
<circle cx="265.61" cy="631.85" r="0.45" fill="#999" opacity="0.35"/>
<circle cx="256.56" cy="634.11" r="0.45" fill="#999" opacity="0.35"/>
<circle cx="258.93" cy="630.91" r="0.45" fill="#999" opacity="0.35"/>
<circle cx="256.29" cy="629.44" r="0.45" fill="#999" opacity="0.35"/>
<circle cx="252.19" cy="631.91" r="0.45" fill="#999" opacity="0.35"/>
<circle cx="259.71" cy="630.62" r="0.45" fill="#999" opacity="0.35"/>
<circle cx="252.16" cy="636.12" r="0.45" fill="#999" opacity="0.35"/>
<circle cx="255.57" cy="631.73" r="0.45" fill="#999" opacity="0.35"/>
<circle cx="255.82" cy="635.13" r="0.45" fill="#999" opacity="0.35"/>
<circle cx="257.21" cy="624.79" r="0.45" fill="#999" opacity="0.35"/>
<circle cx="260.02" cy="635.04" r="0.45" fill="#999" opacity="0.35"/>
<circle cx="257.83" cy="622.55" r="0.45" fill="#999" opacity="0.35"/>
<circle cx="256.35" cy="625.48" r="0.45" fill="#999" opacity="0.35"/>
<circle cx="249.63" cy="633.11" r="0.45" fill="#999" opacity="0.35"/>
<circle cx="254.75" cy="632.83" r="0.45" fill="#999" opacity="0.35"/>
<circle cx="256.08" cy="636.60" r="0.45" fill="#999" opacity="0.35"/>
<circle cx="255.01" cy="634.21" r="0.45" fill="#999" opacity="0.35"/>
<circle cx="252.76" cy="638.97" r="0.45" fill="#999" opacity="0.35"/>
<circle cx="257.91" cy="634.17" r="0.45" fill="#999" opacity="0.35"/>
<circle cx="257.26" cy="635.03" r="0.45" fill="#999" opacity="0.35"/>
<circle cx="262.65" cy="631.03" r="0.45" fill="#999" opacity="0.35"/>
<circle cx="257.08" cy="631.73" r="0.45" fill="#999" opacity="0.35"/>
<circle cx="254.71" cy="624.87" r="0.45" fill="#999" opacity="0.35"/>
<circle cx="257.75" cy="635.71" r="0.45" fill="#999" opacity="0.35"/>
<circle cx="253.97" cy="631.66" r="0.45" fill="#999" opacity="0.35"/>
<circle cx="253.96" cy="635.42" r="0.45" fill="#999" opacity="0.35"/>
<circle cx="258.15" cy="623.65" r="0.45" fill="#999" opacity="0.35"/>
<circle cx="260.85" cy="625.48" r="0.45" fill="#999" opacity="0.35"/>
<circle cx="258.58" cy="638.47" r="0.45" fill="#999" opacity="0.35"/>
<circle cx="257.17" cy="638.30" r="0.45" fill="#999" opacity="0.35"/>
<circle cx="252.39" cy="640.24" r="0.45" fill="#999" opacity="0.35"/>
<circle cx="253.67" cy="633.29" r="0.45" fill="#999" opacity="0.35"/>
<circle cx="256.00" cy="637.74" r="0.45" fill="#999" opacity="0.35"/>
<ellipse cx="257.40" cy="621.60" rx="2.00" ry="2.20" fill="#666" fill-opacity="0.5" transform="rotate(0 257.40 621.60)"/>
<ellipse cx="257.40" cy="621.60" rx="1.40" ry="1.60" fill="#1a1a1a" transform="rotate(0 257.40 621.60)"/>
<ellipse cx="257.40" cy="621.60" rx="0.49" ry="0.56" fill="#777" transform="rotate(0 257.40 621.60)"/>
<ellipse cx="258.70" cy="633.10" rx="1.90" ry="4.40" fill="#666" fill-opacity="0.5" transform="rotate(0 258.70 633.10)"/>
<ellipse cx="258.70" cy="633.10" rx="1.30" ry="3.80" fill="#1a1a1a" transform="rotate(0 258.70 633.10)"/>
<ellipse cx="258.70" cy="633.10" rx="0.45" ry="1.33" fill="#777" transform="rotate(0 258.70 633.10)"/>
<polygon points="248.00,629.70 255.40,618.90 260.80,617.60 261.80,618.90 252.40,631.00" fill="none" stroke="#231f20" stroke-width="0.9" stroke-linejoin="round"/>
<polygon points="252.00,632.80 260.80,622.30 262.80,623.00 265.10,629.00 265.10,636.40 262.10,643.20 258.10,645.20 251.30,644.90 250.70,633.10" fill="none" stroke="#f7941d" stroke-width="0.9" stroke-linejoin="round"/>
<text x="246.60" y="619.30" font-size="7.4" fill="#231f20" stroke="#231f20" stroke-width="0.3" textLength="6.8" lengthAdjust="spacingAndGlyphs">31</text>
<text x="243.30" y="642.50" font-size="7.4" fill="#f7941d" stroke="#f7941d" stroke-width="0.2" textLength="7" lengthAdjust="spacingAndGlyphs">69</text>
<line x1="261.00" y1="618.30" x2="292.34" y2="583.39" stroke="#231f20" stroke-width="1.0"/>
<polygon points="294.40,581.10 290.70,582.29 293.61,584.91" fill="#231f20"/>
<line x1="265.10" y1="637.50" x2="281.92" y2="637.50" stroke="#f7941d" stroke-width="1.0"/>
<polygon points="285.00,637.40 281.64,635.44 281.64,639.36" fill="#f7941d"/>
<text x="226.00" y="627.00" font-size="7.4" fill="#231f20" stroke="#231f20" stroke-width="0.3" text-anchor="middle" textLength="18.5" lengthAdjust="spacingAndGlyphs" transform="rotate(-90 226.00 627.00)">CD45.1</text>
<line x1="223.50" y1="656.50" x2="223.50" y2="644.19" stroke="#231f20" stroke-width="1.0"/>
<polygon points="223.50,641.00 221.47,644.48 225.53,644.48" fill="#231f20"/>
<line x1="223.00" y1="656.50" x2="236.51" y2="656.50" stroke="#231f20" stroke-width="1.0"/>
<polygon points="239.70,656.50 236.22,654.47 236.22,658.53" fill="#231f20"/>
<text x="241.90" y="658.00" font-size="7.4" fill="#231f20" stroke="#231f20" stroke-width="0.3" textLength="21" lengthAdjust="spacingAndGlyphs">CD45.2</text>
<text x="297.10" y="593.20" font-size="7.6" fill="#f7941d" stroke="#f7941d" stroke-width="0.2" textLength="53.9" lengthAdjust="spacingAndGlyphs">Myd88/Cd79b/</text>
<text x="303.20" y="601.90" font-size="7.6" fill="#f7941d" stroke="#f7941d" stroke-width="0.2" textLength="22.2" lengthAdjust="spacingAndGlyphs">Prdm1</text>
<text x="328.70" y="601.90" font-size="7.6" fill="#231f20" stroke="#231f20" stroke-width="0.3" textLength="16.2" lengthAdjust="spacingAndGlyphs">GCB</text>
<rect x="302.50" y="605.50" width="44.00" height="43.00" stroke="#404040" stroke-width="1.0" fill="none"/>
<line x1="300.50" y1="645.50" x2="302.50" y2="645.50" stroke="#444" stroke-width="0.55"/>
<line x1="301.40" y1="642.79" x2="302.50" y2="642.79" stroke="#444" stroke-width="0.55"/>
<line x1="301.40" y1="641.21" x2="302.50" y2="641.21" stroke="#444" stroke-width="0.55"/>
<line x1="301.40" y1="640.08" x2="302.50" y2="640.08" stroke="#444" stroke-width="0.55"/>
<line x1="301.40" y1="639.21" x2="302.50" y2="639.21" stroke="#444" stroke-width="0.55"/>
<line x1="301.40" y1="638.50" x2="302.50" y2="638.50" stroke="#444" stroke-width="0.55"/>
<line x1="301.40" y1="637.89" x2="302.50" y2="637.89" stroke="#444" stroke-width="0.55"/>
<line x1="301.40" y1="637.37" x2="302.50" y2="637.37" stroke="#444" stroke-width="0.55"/>
<line x1="301.40" y1="636.91" x2="302.50" y2="636.91" stroke="#444" stroke-width="0.55"/>
<line x1="300.50" y1="636.50" x2="302.50" y2="636.50" stroke="#444" stroke-width="0.55"/>
<line x1="301.40" y1="633.79" x2="302.50" y2="633.79" stroke="#444" stroke-width="0.55"/>
<line x1="301.40" y1="632.21" x2="302.50" y2="632.21" stroke="#444" stroke-width="0.55"/>
<line x1="301.40" y1="631.08" x2="302.50" y2="631.08" stroke="#444" stroke-width="0.55"/>
<line x1="301.40" y1="630.21" x2="302.50" y2="630.21" stroke="#444" stroke-width="0.55"/>
<line x1="301.40" y1="629.50" x2="302.50" y2="629.50" stroke="#444" stroke-width="0.55"/>
<line x1="301.40" y1="628.89" x2="302.50" y2="628.89" stroke="#444" stroke-width="0.55"/>
<line x1="301.40" y1="628.37" x2="302.50" y2="628.37" stroke="#444" stroke-width="0.55"/>
<line x1="301.40" y1="627.91" x2="302.50" y2="627.91" stroke="#444" stroke-width="0.55"/>
<line x1="300.50" y1="627.50" x2="302.50" y2="627.50" stroke="#444" stroke-width="0.55"/>
<line x1="301.40" y1="624.79" x2="302.50" y2="624.79" stroke="#444" stroke-width="0.55"/>
<line x1="301.40" y1="623.21" x2="302.50" y2="623.21" stroke="#444" stroke-width="0.55"/>
<line x1="301.40" y1="622.08" x2="302.50" y2="622.08" stroke="#444" stroke-width="0.55"/>
<line x1="301.40" y1="621.21" x2="302.50" y2="621.21" stroke="#444" stroke-width="0.55"/>
<line x1="301.40" y1="620.50" x2="302.50" y2="620.50" stroke="#444" stroke-width="0.55"/>
<line x1="301.40" y1="619.89" x2="302.50" y2="619.89" stroke="#444" stroke-width="0.55"/>
<line x1="301.40" y1="619.37" x2="302.50" y2="619.37" stroke="#444" stroke-width="0.55"/>
<line x1="301.40" y1="618.91" x2="302.50" y2="618.91" stroke="#444" stroke-width="0.55"/>
<line x1="300.50" y1="618.50" x2="302.50" y2="618.50" stroke="#444" stroke-width="0.55"/>
<line x1="301.40" y1="615.79" x2="302.50" y2="615.79" stroke="#444" stroke-width="0.55"/>
<line x1="301.40" y1="614.21" x2="302.50" y2="614.21" stroke="#444" stroke-width="0.55"/>
<line x1="301.40" y1="613.08" x2="302.50" y2="613.08" stroke="#444" stroke-width="0.55"/>
<line x1="301.40" y1="612.21" x2="302.50" y2="612.21" stroke="#444" stroke-width="0.55"/>
<line x1="301.40" y1="611.50" x2="302.50" y2="611.50" stroke="#444" stroke-width="0.55"/>
<line x1="301.40" y1="610.89" x2="302.50" y2="610.89" stroke="#444" stroke-width="0.55"/>
<line x1="301.40" y1="610.37" x2="302.50" y2="610.37" stroke="#444" stroke-width="0.55"/>
<line x1="301.40" y1="609.91" x2="302.50" y2="609.91" stroke="#444" stroke-width="0.55"/>
<line x1="300.50" y1="609.50" x2="302.50" y2="609.50" stroke="#444" stroke-width="0.55"/>
<line x1="305.50" y1="648.50" x2="305.50" y2="650.50" stroke="#444" stroke-width="0.55"/>
<line x1="308.21" y1="648.50" x2="308.21" y2="649.60" stroke="#444" stroke-width="0.55"/>
<line x1="309.79" y1="648.50" x2="309.79" y2="649.60" stroke="#444" stroke-width="0.55"/>
<line x1="310.92" y1="648.50" x2="310.92" y2="649.60" stroke="#444" stroke-width="0.55"/>
<line x1="311.79" y1="648.50" x2="311.79" y2="649.60" stroke="#444" stroke-width="0.55"/>
<line x1="312.50" y1="648.50" x2="312.50" y2="649.60" stroke="#444" stroke-width="0.55"/>
<line x1="313.11" y1="648.50" x2="313.11" y2="649.60" stroke="#444" stroke-width="0.55"/>
<line x1="313.63" y1="648.50" x2="313.63" y2="649.60" stroke="#444" stroke-width="0.55"/>
<line x1="314.09" y1="648.50" x2="314.09" y2="649.60" stroke="#444" stroke-width="0.55"/>
<line x1="314.50" y1="648.50" x2="314.50" y2="650.50" stroke="#444" stroke-width="0.55"/>
<line x1="317.21" y1="648.50" x2="317.21" y2="649.60" stroke="#444" stroke-width="0.55"/>
<line x1="318.79" y1="648.50" x2="318.79" y2="649.60" stroke="#444" stroke-width="0.55"/>
<line x1="319.92" y1="648.50" x2="319.92" y2="649.60" stroke="#444" stroke-width="0.55"/>
<line x1="320.79" y1="648.50" x2="320.79" y2="649.60" stroke="#444" stroke-width="0.55"/>
<line x1="321.50" y1="648.50" x2="321.50" y2="649.60" stroke="#444" stroke-width="0.55"/>
<line x1="322.11" y1="648.50" x2="322.11" y2="649.60" stroke="#444" stroke-width="0.55"/>
<line x1="322.63" y1="648.50" x2="322.63" y2="649.60" stroke="#444" stroke-width="0.55"/>
<line x1="323.09" y1="648.50" x2="323.09" y2="649.60" stroke="#444" stroke-width="0.55"/>
<line x1="323.50" y1="648.50" x2="323.50" y2="650.50" stroke="#444" stroke-width="0.55"/>
<line x1="326.21" y1="648.50" x2="326.21" y2="649.60" stroke="#444" stroke-width="0.55"/>
<line x1="327.79" y1="648.50" x2="327.79" y2="649.60" stroke="#444" stroke-width="0.55"/>
<line x1="328.92" y1="648.50" x2="328.92" y2="649.60" stroke="#444" stroke-width="0.55"/>
<line x1="329.79" y1="648.50" x2="329.79" y2="649.60" stroke="#444" stroke-width="0.55"/>
<line x1="330.50" y1="648.50" x2="330.50" y2="649.60" stroke="#444" stroke-width="0.55"/>
<line x1="331.11" y1="648.50" x2="331.11" y2="649.60" stroke="#444" stroke-width="0.55"/>
<line x1="331.63" y1="648.50" x2="331.63" y2="649.60" stroke="#444" stroke-width="0.55"/>
<line x1="332.09" y1="648.50" x2="332.09" y2="649.60" stroke="#444" stroke-width="0.55"/>
<line x1="332.50" y1="648.50" x2="332.50" y2="650.50" stroke="#444" stroke-width="0.55"/>
<line x1="335.21" y1="648.50" x2="335.21" y2="649.60" stroke="#444" stroke-width="0.55"/>
<line x1="336.79" y1="648.50" x2="336.79" y2="649.60" stroke="#444" stroke-width="0.55"/>
<line x1="337.92" y1="648.50" x2="337.92" y2="649.60" stroke="#444" stroke-width="0.55"/>
<line x1="338.79" y1="648.50" x2="338.79" y2="649.60" stroke="#444" stroke-width="0.55"/>
<line x1="339.50" y1="648.50" x2="339.50" y2="649.60" stroke="#444" stroke-width="0.55"/>
<line x1="340.11" y1="648.50" x2="340.11" y2="649.60" stroke="#444" stroke-width="0.55"/>
<line x1="340.63" y1="648.50" x2="340.63" y2="649.60" stroke="#444" stroke-width="0.55"/>
<line x1="341.09" y1="648.50" x2="341.09" y2="649.60" stroke="#444" stroke-width="0.55"/>
<line x1="341.50" y1="648.50" x2="341.50" y2="650.50" stroke="#444" stroke-width="0.55"/>
<line x1="344.21" y1="648.50" x2="344.21" y2="649.60" stroke="#444" stroke-width="0.55"/>
<ellipse cx="314.00" cy="630.00" rx="3.30" ry="9.00" fill="#999" fill-opacity="0.35" transform="rotate(25 314.00 630.00)"/>
<ellipse cx="314.00" cy="630.00" rx="2.64" ry="7.20" fill="none" stroke="#999" stroke-width="0.5" transform="rotate(25 314.00 630.00)"/>
<circle cx="315.13" cy="632.23" r="0.45" fill="#888" opacity="0.35"/>
<circle cx="312.58" cy="622.43" r="0.45" fill="#888" opacity="0.35"/>
<circle cx="318.31" cy="623.85" r="0.45" fill="#888" opacity="0.35"/>
<circle cx="313.77" cy="635.56" r="0.45" fill="#888" opacity="0.35"/>
<circle cx="309.43" cy="630.77" r="0.45" fill="#888" opacity="0.35"/>
<circle cx="314.44" cy="639.71" r="0.45" fill="#888" opacity="0.35"/>
<circle cx="312.42" cy="639.45" r="0.45" fill="#888" opacity="0.35"/>
<circle cx="311.68" cy="628.64" r="0.45" fill="#888" opacity="0.35"/>
<circle cx="309.62" cy="635.47" r="0.45" fill="#888" opacity="0.35"/>
<circle cx="310.99" cy="630.61" r="0.45" fill="#888" opacity="0.35"/>
<circle cx="315.13" cy="630.26" r="0.45" fill="#888" opacity="0.35"/>
<circle cx="312.53" cy="634.10" r="0.45" fill="#888" opacity="0.35"/>
<circle cx="316.66" cy="629.54" r="0.45" fill="#888" opacity="0.35"/>
<circle cx="311.50" cy="626.86" r="0.45" fill="#888" opacity="0.35"/>
<circle cx="313.15" cy="632.75" r="0.45" fill="#888" opacity="0.35"/>
<circle cx="308.70" cy="628.65" r="0.45" fill="#888" opacity="0.35"/>
<circle cx="314.11" cy="631.87" r="0.45" fill="#888" opacity="0.35"/>
<circle cx="313.87" cy="632.75" r="0.45" fill="#888" opacity="0.35"/>
<circle cx="315.37" cy="638.88" r="0.45" fill="#888" opacity="0.35"/>
<circle cx="310.93" cy="623.84" r="0.45" fill="#888" opacity="0.35"/>
<circle cx="311.85" cy="634.00" r="0.45" fill="#888" opacity="0.35"/>
<circle cx="318.57" cy="619.68" r="0.45" fill="#888" opacity="0.35"/>
<circle cx="313.64" cy="633.17" r="0.45" fill="#888" opacity="0.35"/>
<circle cx="314.70" cy="634.78" r="0.45" fill="#888" opacity="0.35"/>
<circle cx="310.89" cy="625.57" r="0.45" fill="#888" opacity="0.35"/>
<circle cx="313.28" cy="635.02" r="0.45" fill="#888" opacity="0.35"/>
<circle cx="306.23" cy="628.89" r="0.45" fill="#888" opacity="0.35"/>
<circle cx="313.85" cy="631.87" r="0.45" fill="#888" opacity="0.35"/>
<circle cx="313.52" cy="632.90" r="0.45" fill="#888" opacity="0.35"/>
<circle cx="310.37" cy="630.53" r="0.45" fill="#888" opacity="0.35"/>
<circle cx="312.85" cy="627.52" r="0.45" fill="#888" opacity="0.35"/>
<circle cx="315.42" cy="624.89" r="0.45" fill="#888" opacity="0.35"/>
<circle cx="311.61" cy="643.39" r="0.45" fill="#888" opacity="0.35"/>
<circle cx="312.82" cy="631.74" r="0.45" fill="#888" opacity="0.35"/>
<circle cx="313.03" cy="624.71" r="0.45" fill="#888" opacity="0.35"/>
<circle cx="312.34" cy="625.57" r="0.45" fill="#888" opacity="0.35"/>
<circle cx="309.77" cy="636.87" r="0.45" fill="#888" opacity="0.35"/>
<circle cx="312.55" cy="630.88" r="0.45" fill="#888" opacity="0.35"/>
<circle cx="310.53" cy="634.51" r="0.45" fill="#888" opacity="0.35"/>
<circle cx="312.18" cy="639.22" r="0.45" fill="#888" opacity="0.35"/>
<circle cx="313.14" cy="643.64" r="0.45" fill="#888" opacity="0.35"/>
<circle cx="311.93" cy="629.48" r="0.45" fill="#888" opacity="0.35"/>
<circle cx="312.06" cy="634.52" r="0.45" fill="#888" opacity="0.35"/>
<circle cx="310.45" cy="632.02" r="0.45" fill="#888" opacity="0.35"/>
<circle cx="313.11" cy="636.03" r="0.45" fill="#888" opacity="0.35"/>
<circle cx="309.84" cy="644.76" r="0.45" fill="#888" opacity="0.35"/>
<circle cx="316.87" cy="642.28" r="0.45" fill="#888" opacity="0.35"/>
<circle cx="312.95" cy="636.81" r="0.45" fill="#888" opacity="0.35"/>
<circle cx="315.65" cy="635.35" r="0.45" fill="#888" opacity="0.35"/>
<circle cx="315.87" cy="627.61" r="0.45" fill="#888" opacity="0.35"/>
<ellipse cx="312.60" cy="634.00" rx="2.60" ry="5.40" fill="#666" fill-opacity="0.5" transform="rotate(25 312.60 634.00)"/>
<ellipse cx="312.60" cy="634.00" rx="2.00" ry="4.80" fill="#1a1a1a" transform="rotate(25 312.60 634.00)"/>
<ellipse cx="312.60" cy="634.00" rx="0.70" ry="1.68" fill="#777" transform="rotate(25 312.60 634.00)"/>
<circle cx="321.28" cy="637.83" r="0.4" fill="#999" opacity="0.5"/>
<circle cx="326.07" cy="636.31" r="0.4" fill="#999" opacity="0.5"/>
<circle cx="327.01" cy="641.79" r="0.4" fill="#999" opacity="0.5"/>
<circle cx="322.80" cy="641.80" r="0.4" fill="#999" opacity="0.5"/>
<circle cx="325.51" cy="637.15" r="0.4" fill="#999" opacity="0.5"/>
<circle cx="323.94" cy="639.41" r="0.4" fill="#999" opacity="0.5"/>
<circle cx="322.39" cy="644.20" r="0.4" fill="#999" opacity="0.5"/>
<circle cx="325.74" cy="640.87" r="0.4" fill="#999" opacity="0.5"/>
<circle cx="325.52" cy="639.59" r="0.4" fill="#999" opacity="0.5"/>
<circle cx="325.58" cy="638.54" r="0.4" fill="#999" opacity="0.5"/>
<circle cx="325.92" cy="633.55" r="0.4" fill="#999" opacity="0.5"/>
<circle cx="322.67" cy="642.22" r="0.4" fill="#999" opacity="0.5"/>
<circle cx="326.70" cy="636.94" r="0.4" fill="#999" opacity="0.5"/>
<circle cx="324.26" cy="636.71" r="0.4" fill="#999" opacity="0.5"/>
<circle cx="324.38" cy="640.76" r="0.4" fill="#999" opacity="0.5"/>
<polygon points="320.70,628.20 330.10,628.60 331.40,630.20 331.40,643.60 328.70,646.10 319.30,645.70 317.30,643.60 319.30,634.20" fill="none" stroke="#f7941d" stroke-width="0.9" stroke-linejoin="round"/>
<text x="332.80" y="637.60" font-size="7.4" fill="#f7941d" stroke="#f7941d" stroke-width="0.2" textLength="11.2" lengthAdjust="spacingAndGlyphs">1.49</text>
<text x="298.90" y="632.20" font-size="7.4" fill="#231f20" stroke="#231f20" stroke-width="0.3" text-anchor="middle" textLength="10.8" lengthAdjust="spacingAndGlyphs" transform="rotate(-90 298.90 632.20)">SSC</text>
<line x1="295.50" y1="656.50" x2="295.50" y2="644.29" stroke="#231f20" stroke-width="1.0"/>
<polygon points="295.50,641.10 293.47,644.58 297.53,644.58" fill="#231f20"/>
<line x1="295.00" y1="656.50" x2="308.71" y2="656.50" stroke="#231f20" stroke-width="1.0"/>
<polygon points="311.90,656.50 308.42,654.47 308.42,658.53" fill="#231f20"/>
<text x="313.90" y="657.80" font-size="7.4" fill="#231f20" stroke="#231f20" stroke-width="0.3" textLength="30.3" lengthAdjust="spacingAndGlyphs">Act-Casp3</text>
<line x1="416.50" y1="521.00" x2="416.50" y2="615.30" stroke="#231f20" stroke-width="1.0"/>
<line x1="414.00" y1="615.50" x2="416.60" y2="615.50" stroke="#231f20" stroke-width="1.0"/>
<text x="411.40" y="617.96" font-size="7.4" fill="#231f20" stroke="#231f20" stroke-width="0.3" text-anchor="end">0</text>
<line x1="414.00" y1="592.50" x2="416.60" y2="592.50" stroke="#231f20" stroke-width="1.0"/>
<text x="411.40" y="595.51" font-size="7.4" fill="#231f20" stroke="#231f20" stroke-width="0.3" text-anchor="end">1</text>
<line x1="414.00" y1="570.50" x2="416.60" y2="570.50" stroke="#231f20" stroke-width="1.0"/>
<text x="411.40" y="573.06" font-size="7.4" fill="#231f20" stroke="#231f20" stroke-width="0.3" text-anchor="end">2</text>
<line x1="414.00" y1="547.50" x2="416.60" y2="547.50" stroke="#231f20" stroke-width="1.0"/>
<text x="411.40" y="550.61" font-size="7.4" fill="#231f20" stroke="#231f20" stroke-width="0.3" text-anchor="end">3</text>
<line x1="414.00" y1="525.50" x2="416.60" y2="525.50" stroke="#231f20" stroke-width="1.0"/>
<text x="411.40" y="528.16" font-size="7.4" fill="#231f20" stroke="#231f20" stroke-width="0.3" text-anchor="end">4</text>
<line x1="416.60" y1="615.50" x2="517.50" y2="615.50" stroke="#231f20" stroke-width="1.0"/>
<line x1="451.50" y1="525.50" x2="451.50" y2="615.30" stroke="#231f20" stroke-width="1.0"/>
<line x1="483.50" y1="525.50" x2="483.50" y2="615.30" stroke="#231f20" stroke-width="1.0"/>
<text x="400.80" y="569.00" font-size="8.4" fill="#231f20" stroke="#231f20" stroke-width="0.3" text-anchor="middle" textLength="62" lengthAdjust="spacingAndGlyphs" transform="rotate(-90 400.80 569.00)">% Act-Casp3<tspan font-size="5.5" dy="-3.3">+</tspan><tspan dy="3.3"> GCB</tspan></text>
<line x1="427.50" y1="615.30" x2="427.50" y2="617.90" stroke="#231f20" stroke-width="1.0"/>
<line x1="443.50" y1="615.30" x2="443.50" y2="617.90" stroke="#231f20" stroke-width="1.0"/>
<line x1="459.50" y1="615.30" x2="459.50" y2="617.90" stroke="#231f20" stroke-width="1.0"/>
<line x1="475.50" y1="615.30" x2="475.50" y2="617.90" stroke="#231f20" stroke-width="1.0"/>
<line x1="490.50" y1="615.30" x2="490.50" y2="617.90" stroke="#231f20" stroke-width="1.0"/>
<line x1="506.50" y1="615.30" x2="506.50" y2="617.90" stroke="#231f20" stroke-width="1.0"/>
<text x="429.00" y="625.50" font-size="8.2" fill="#231f20" stroke="#231f20" stroke-width="0.3" text-anchor="end" transform="rotate(-45 429.00 625.50)">CD45.1/2</text>
<text x="444.50" y="625.50" font-size="8.2" fill="#231f20" stroke="#231f20" stroke-width="0.3" text-anchor="end" transform="rotate(-45 444.50 625.50)">Control</text>
<text x="460.80" y="625.50" font-size="8.2" fill="#231f20" stroke="#231f20" stroke-width="0.3" text-anchor="end" transform="rotate(-45 460.80 625.50)">CD45.1/2</text>
<text x="476.50" y="625.50" font-size="8.2" fill="#3cb44b" stroke="#3cb44b" stroke-width="0.2" text-anchor="end" transform="rotate(-45 476.50 625.50)">Myd88/Cd79b</text>
<text x="492.30" y="625.50" font-size="8.2" fill="#231f20" stroke="#231f20" stroke-width="0.3" text-anchor="end" transform="rotate(-45 492.30 625.50)">CD45.1/2</text>
<text x="507.80" y="625.50" font-size="8.2" fill="#f7941d" stroke="#f7941d" stroke-width="0.2" text-anchor="end" transform="rotate(-45 507.80 625.50)">Myd88/Cd79b/Prdm1</text>
<line x1="427.50" y1="576.01" x2="443.00" y2="565.91" stroke="#111" stroke-width="0.65"/>
<line x1="427.50" y1="577.13" x2="443.00" y2="571.52" stroke="#111" stroke-width="0.65"/>
<line x1="427.50" y1="583.87" x2="443.00" y2="586.12" stroke="#111" stroke-width="0.65"/>
<line x1="427.50" y1="584.99" x2="443.00" y2="588.36" stroke="#111" stroke-width="0.65"/>
<line x1="427.50" y1="586.12" x2="443.00" y2="590.60" stroke="#111" stroke-width="0.65"/>
<line x1="427.50" y1="588.36" x2="443.00" y2="592.85" stroke="#111" stroke-width="0.65"/>
<line x1="427.50" y1="589.48" x2="443.00" y2="591.73" stroke="#111" stroke-width="0.65"/>
<line x1="427.50" y1="590.60" x2="443.00" y2="595.09" stroke="#111" stroke-width="0.65"/>
<line x1="427.50" y1="591.73" x2="443.00" y2="589.48" stroke="#111" stroke-width="0.65"/>
<line x1="427.50" y1="592.85" x2="443.00" y2="597.34" stroke="#111" stroke-width="0.65"/>
<line x1="427.50" y1="593.97" x2="443.00" y2="590.60" stroke="#111" stroke-width="0.65"/>
<line x1="427.50" y1="595.09" x2="443.00" y2="598.46" stroke="#111" stroke-width="0.65"/>
<line x1="427.50" y1="596.22" x2="443.00" y2="593.97" stroke="#111" stroke-width="0.65"/>
<line x1="427.50" y1="597.34" x2="443.00" y2="605.20" stroke="#111" stroke-width="0.65"/>
<line x1="427.50" y1="598.46" x2="443.00" y2="592.85" stroke="#111" stroke-width="0.65"/>
<line x1="427.50" y1="587.24" x2="443.00" y2="588.36" stroke="#111" stroke-width="0.65"/>
<circle cx="427.50" cy="576.01" r="1.6" fill="#c8102e"/>
<circle cx="427.50" cy="577.13" r="1.6" fill="#c8102e"/>
<circle cx="427.50" cy="583.87" r="1.6" fill="#c8102e"/>
<circle cx="427.50" cy="584.99" r="1.6" fill="#c8102e"/>
<circle cx="427.50" cy="586.12" r="1.6" fill="#c8102e"/>
<circle cx="427.50" cy="588.36" r="1.6" fill="#c8102e"/>
<circle cx="427.50" cy="589.48" r="1.6" fill="#c8102e"/>
<circle cx="427.50" cy="590.60" r="1.6" fill="#c8102e"/>
<circle cx="427.50" cy="591.73" r="1.6" fill="#c8102e"/>
<circle cx="427.50" cy="592.85" r="1.6" fill="#c8102e"/>
<circle cx="427.50" cy="593.97" r="1.6" fill="#c8102e"/>
<circle cx="427.50" cy="595.09" r="1.6" fill="#c8102e"/>
<circle cx="427.50" cy="596.22" r="1.6" fill="#c8102e"/>
<circle cx="427.50" cy="597.34" r="1.6" fill="#c8102e"/>
<circle cx="427.50" cy="598.46" r="1.6" fill="#c8102e"/>
<circle cx="427.50" cy="587.24" r="1.6" fill="#c8102e"/>
<circle cx="443.00" cy="565.91" r="1.6" fill="#0d4b8c"/>
<circle cx="443.00" cy="571.52" r="1.6" fill="#0d4b8c"/>
<circle cx="443.00" cy="586.12" r="1.6" fill="#0d4b8c"/>
<circle cx="443.00" cy="588.36" r="1.6" fill="#0d4b8c"/>
<circle cx="443.00" cy="590.60" r="1.6" fill="#0d4b8c"/>
<circle cx="443.00" cy="592.85" r="1.6" fill="#0d4b8c"/>
<circle cx="443.00" cy="591.73" r="1.6" fill="#0d4b8c"/>
<circle cx="443.00" cy="595.09" r="1.6" fill="#0d4b8c"/>
<circle cx="443.00" cy="589.48" r="1.6" fill="#0d4b8c"/>
<circle cx="443.00" cy="597.34" r="1.6" fill="#0d4b8c"/>
<circle cx="443.00" cy="590.60" r="1.6" fill="#0d4b8c"/>
<circle cx="443.00" cy="598.46" r="1.6" fill="#0d4b8c"/>
<circle cx="443.00" cy="593.97" r="1.6" fill="#0d4b8c"/>
<circle cx="443.00" cy="605.20" r="1.6" fill="#0d4b8c"/>
<circle cx="443.00" cy="592.85" r="1.6" fill="#0d4b8c"/>
<circle cx="443.00" cy="588.36" r="1.6" fill="#0d4b8c"/>
<line x1="459.30" y1="545.70" x2="475.00" y2="550.19" stroke="#111" stroke-width="0.65"/>
<line x1="459.30" y1="570.40" x2="475.00" y2="556.93" stroke="#111" stroke-width="0.65"/>
<line x1="459.30" y1="574.89" x2="475.00" y2="568.15" stroke="#111" stroke-width="0.65"/>
<line x1="459.30" y1="576.01" x2="475.00" y2="570.40" stroke="#111" stroke-width="0.65"/>
<line x1="459.30" y1="577.13" x2="475.00" y2="572.64" stroke="#111" stroke-width="0.65"/>
<line x1="459.30" y1="579.38" x2="475.00" y2="574.89" stroke="#111" stroke-width="0.65"/>
<line x1="459.30" y1="581.62" x2="475.00" y2="573.77" stroke="#111" stroke-width="0.65"/>
<line x1="459.30" y1="582.75" x2="475.00" y2="581.62" stroke="#111" stroke-width="0.65"/>
<line x1="459.30" y1="583.87" x2="475.00" y2="571.52" stroke="#111" stroke-width="0.65"/>
<line x1="459.30" y1="586.12" x2="475.00" y2="583.87" stroke="#111" stroke-width="0.65"/>
<line x1="459.30" y1="587.24" x2="475.00" y2="590.60" stroke="#111" stroke-width="0.65"/>
<line x1="459.30" y1="588.36" x2="475.00" y2="591.73" stroke="#111" stroke-width="0.65"/>
<line x1="459.30" y1="590.60" x2="475.00" y2="596.22" stroke="#111" stroke-width="0.65"/>
<line x1="459.30" y1="591.73" x2="475.00" y2="586.12" stroke="#111" stroke-width="0.65"/>
<line x1="459.30" y1="592.85" x2="475.00" y2="602.95" stroke="#111" stroke-width="0.65"/>
<line x1="459.30" y1="593.97" x2="475.00" y2="592.85" stroke="#111" stroke-width="0.65"/>
<line x1="459.30" y1="595.09" x2="475.00" y2="582.75" stroke="#111" stroke-width="0.65"/>
<line x1="459.30" y1="578.26" x2="475.00" y2="576.01" stroke="#111" stroke-width="0.65"/>
<line x1="459.30" y1="589.48" x2="475.00" y2="593.97" stroke="#111" stroke-width="0.65"/>
<circle cx="459.30" cy="545.70" r="1.6" fill="#c8102e"/>
<circle cx="459.30" cy="570.40" r="1.6" fill="#c8102e"/>
<circle cx="459.30" cy="574.89" r="1.6" fill="#c8102e"/>
<circle cx="459.30" cy="576.01" r="1.6" fill="#c8102e"/>
<circle cx="459.30" cy="577.13" r="1.6" fill="#c8102e"/>
<circle cx="459.30" cy="579.38" r="1.6" fill="#c8102e"/>
<circle cx="459.30" cy="581.62" r="1.6" fill="#c8102e"/>
<circle cx="459.30" cy="582.75" r="1.6" fill="#c8102e"/>
<circle cx="459.30" cy="583.87" r="1.6" fill="#c8102e"/>
<circle cx="459.30" cy="586.12" r="1.6" fill="#c8102e"/>
<circle cx="459.30" cy="587.24" r="1.6" fill="#c8102e"/>
<circle cx="459.30" cy="588.36" r="1.6" fill="#c8102e"/>
<circle cx="459.30" cy="590.60" r="1.6" fill="#c8102e"/>
<circle cx="459.30" cy="591.73" r="1.6" fill="#c8102e"/>
<circle cx="459.30" cy="592.85" r="1.6" fill="#c8102e"/>
<circle cx="459.30" cy="593.97" r="1.6" fill="#c8102e"/>
<circle cx="459.30" cy="595.09" r="1.6" fill="#c8102e"/>
<circle cx="459.30" cy="578.26" r="1.6" fill="#c8102e"/>
<circle cx="459.30" cy="589.48" r="1.6" fill="#c8102e"/>
<circle cx="475.00" cy="550.19" r="1.6" fill="#3cb44b"/>
<circle cx="475.00" cy="556.93" r="1.6" fill="#3cb44b"/>
<circle cx="475.00" cy="568.15" r="1.6" fill="#3cb44b"/>
<circle cx="475.00" cy="570.40" r="1.6" fill="#3cb44b"/>
<circle cx="475.00" cy="572.64" r="1.6" fill="#3cb44b"/>
<circle cx="475.00" cy="574.89" r="1.6" fill="#3cb44b"/>
<circle cx="475.00" cy="573.77" r="1.6" fill="#3cb44b"/>
<circle cx="475.00" cy="581.62" r="1.6" fill="#3cb44b"/>
<circle cx="475.00" cy="571.52" r="1.6" fill="#3cb44b"/>
<circle cx="475.00" cy="583.87" r="1.6" fill="#3cb44b"/>
<circle cx="475.00" cy="590.60" r="1.6" fill="#3cb44b"/>
<circle cx="475.00" cy="591.73" r="1.6" fill="#3cb44b"/>
<circle cx="475.00" cy="596.22" r="1.6" fill="#3cb44b"/>
<circle cx="475.00" cy="586.12" r="1.6" fill="#3cb44b"/>
<circle cx="475.00" cy="602.95" r="1.6" fill="#3cb44b"/>
<circle cx="475.00" cy="592.85" r="1.6" fill="#3cb44b"/>
<circle cx="475.00" cy="582.75" r="1.6" fill="#3cb44b"/>
<circle cx="475.00" cy="576.01" r="1.6" fill="#3cb44b"/>
<circle cx="475.00" cy="593.97" r="1.6" fill="#3cb44b"/>
<line x1="490.80" y1="574.89" x2="506.30" y2="545.70" stroke="#111" stroke-width="0.65"/>
<line x1="490.80" y1="584.99" x2="506.30" y2="547.95" stroke="#111" stroke-width="0.65"/>
<line x1="490.80" y1="586.12" x2="506.30" y2="567.03" stroke="#111" stroke-width="0.65"/>
<line x1="490.80" y1="587.24" x2="506.30" y2="569.28" stroke="#111" stroke-width="0.65"/>
<line x1="490.80" y1="588.36" x2="506.30" y2="571.52" stroke="#111" stroke-width="0.65"/>
<line x1="490.80" y1="589.48" x2="506.30" y2="576.01" stroke="#111" stroke-width="0.65"/>
<line x1="490.80" y1="590.60" x2="506.30" y2="577.13" stroke="#111" stroke-width="0.65"/>
<line x1="490.80" y1="591.73" x2="506.30" y2="578.26" stroke="#111" stroke-width="0.65"/>
<line x1="490.80" y1="592.85" x2="506.30" y2="582.75" stroke="#111" stroke-width="0.65"/>
<line x1="490.80" y1="586.56" x2="506.30" y2="570.40" stroke="#111" stroke-width="0.65"/>
<circle cx="490.80" cy="574.89" r="1.6" fill="#c8102e"/>
<circle cx="490.80" cy="584.99" r="1.6" fill="#c8102e"/>
<circle cx="490.80" cy="586.12" r="1.6" fill="#c8102e"/>
<circle cx="490.80" cy="587.24" r="1.6" fill="#c8102e"/>
<circle cx="490.80" cy="588.36" r="1.6" fill="#c8102e"/>
<circle cx="490.80" cy="589.48" r="1.6" fill="#c8102e"/>
<circle cx="490.80" cy="590.60" r="1.6" fill="#c8102e"/>
<circle cx="490.80" cy="591.73" r="1.6" fill="#c8102e"/>
<circle cx="490.80" cy="592.85" r="1.6" fill="#c8102e"/>
<circle cx="490.80" cy="586.56" r="1.6" fill="#c8102e"/>
<circle cx="506.30" cy="545.70" r="1.6" fill="#f7860f"/>
<circle cx="506.30" cy="547.95" r="1.6" fill="#f7860f"/>
<circle cx="506.30" cy="567.03" r="1.6" fill="#f7860f"/>
<circle cx="506.30" cy="569.28" r="1.6" fill="#f7860f"/>
<circle cx="506.30" cy="571.52" r="1.6" fill="#f7860f"/>
<circle cx="506.30" cy="576.01" r="1.6" fill="#f7860f"/>
<circle cx="506.30" cy="577.13" r="1.6" fill="#f7860f"/>
<circle cx="506.30" cy="578.26" r="1.6" fill="#f7860f"/>
<circle cx="506.30" cy="582.75" r="1.6" fill="#f7860f"/>
<circle cx="506.30" cy="570.40" r="1.6" fill="#f7860f"/>
<polygon points="465.75,527.15 466.28,528.07 467.32,528.29 466.61,529.08 466.72,530.13 465.75,529.71 464.78,530.13 464.89,529.08 464.18,528.29 465.22,528.07" fill="#222" stroke="#222" stroke-width="0.35" stroke-linejoin="round"/>
<polygon points="469.25,527.15 469.78,528.07 470.82,528.29 470.11,529.08 470.22,530.13 469.25,529.71 468.28,530.13 468.39,529.08 467.68,528.29 468.72,528.07" fill="#222" stroke="#222" stroke-width="0.35" stroke-linejoin="round"/>
<polygon points="489.75,527.15 490.28,528.07 491.32,528.29 490.61,529.08 490.72,530.13 489.75,529.71 488.78,530.13 488.89,529.08 488.18,528.29 489.22,528.07" fill="#222" stroke="#222" stroke-width="0.35" stroke-linejoin="round"/>
<polygon points="493.25,527.15 493.78,528.07 494.82,528.29 494.11,529.08 494.22,530.13 493.25,529.71 492.28,530.13 492.39,529.08 491.68,528.29 492.72,528.07" fill="#222" stroke="#222" stroke-width="0.35" stroke-linejoin="round"/>
<polygon points="496.75,527.15 497.28,528.07 498.32,528.29 497.61,529.08 497.72,530.13 496.75,529.71 495.78,530.13 495.89,529.08 495.18,528.29 496.22,528.07" fill="#222" stroke="#222" stroke-width="0.35" stroke-linejoin="round"/>
<polygon points="500.25,527.15 500.78,528.07 501.82,528.29 501.11,529.08 501.22,530.13 500.25,529.71 499.28,530.13 499.39,529.08 498.68,528.29 499.72,528.07" fill="#222" stroke="#222" stroke-width="0.35" stroke-linejoin="round"/>
</svg></body></html>
